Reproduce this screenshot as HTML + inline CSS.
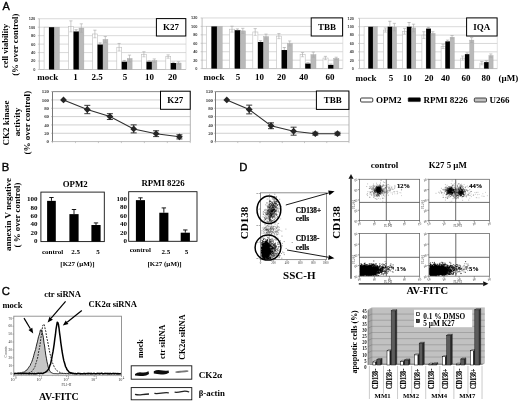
<!DOCTYPE html>
<html><head><meta charset="utf-8"><title>Figure</title><style>html,body{margin:0;padding:0;background:#fff}svg{display:block}</style></head><body>
<svg width="520" height="403" viewBox="0 0 520 403">
<rect x="0" y="0" width="520" height="403" fill="#fff"/>
<text x="2.5" y="10.1" font-family="Liberation Sans, sans-serif" font-size="10.9" text-anchor="start" fill="#000" stroke="#000" stroke-width="0.35">A</text>
<text x="1.8" y="170.9" font-family="Liberation Sans, sans-serif" font-size="11.3" text-anchor="start" fill="#000" stroke="#000" stroke-width="0.35">B</text>
<text x="1.8" y="295.4" font-family="Liberation Sans, sans-serif" font-size="11.3" text-anchor="start" fill="#000" stroke="#000" stroke-width="0.35">C</text>
<text x="239.3" y="171.2" font-family="Liberation Sans, sans-serif" font-size="11.3" text-anchor="start" fill="#000" stroke="#000" stroke-width="0.35">D</text>
<text x="8.4" y="46" font-family="Liberation Serif, serif" font-size="8.5" font-weight="bold" text-anchor="middle" fill="#000" transform="rotate(-90 8.4 46)">cell viability</text>
<text x="18" y="44.7" font-family="Liberation Serif, serif" font-size="8.8" font-weight="bold" text-anchor="middle" fill="#000" transform="rotate(-90 18 44.7)">(% over control)</text>
<line x1="39.3" y1="69.5" x2="186" y2="69.5" stroke="#b0b0b0" stroke-width="0.8"/>
<text x="35.3" y="70.9" font-family="Liberation Sans, sans-serif" font-size="3.9" font-weight="bold" text-anchor="end" fill="#3a3a3a">0</text>
<line x1="37.8" y1="69.5" x2="39.3" y2="69.5" stroke="#b0b0b0" stroke-width="0.6"/>
<line x1="39.3" y1="61.04" x2="186" y2="61.04" stroke="#cfcfcf" stroke-width="0.8"/>
<text x="35.3" y="62.44" font-family="Liberation Sans, sans-serif" font-size="3.9" font-weight="bold" text-anchor="end" fill="#3a3a3a">20</text>
<line x1="37.8" y1="61.04" x2="39.3" y2="61.04" stroke="#b0b0b0" stroke-width="0.6"/>
<line x1="39.3" y1="52.58" x2="186" y2="52.58" stroke="#cfcfcf" stroke-width="0.8"/>
<text x="35.3" y="53.98" font-family="Liberation Sans, sans-serif" font-size="3.9" font-weight="bold" text-anchor="end" fill="#3a3a3a">40</text>
<line x1="37.8" y1="52.58" x2="39.3" y2="52.58" stroke="#b0b0b0" stroke-width="0.6"/>
<line x1="39.3" y1="44.12" x2="186" y2="44.12" stroke="#cfcfcf" stroke-width="0.8"/>
<text x="35.3" y="45.52" font-family="Liberation Sans, sans-serif" font-size="3.9" font-weight="bold" text-anchor="end" fill="#3a3a3a">60</text>
<line x1="37.8" y1="44.12" x2="39.3" y2="44.12" stroke="#b0b0b0" stroke-width="0.6"/>
<line x1="39.3" y1="35.66" x2="186" y2="35.66" stroke="#cfcfcf" stroke-width="0.8"/>
<text x="35.3" y="37.06" font-family="Liberation Sans, sans-serif" font-size="3.9" font-weight="bold" text-anchor="end" fill="#3a3a3a">80</text>
<line x1="37.8" y1="35.66" x2="39.3" y2="35.66" stroke="#b0b0b0" stroke-width="0.6"/>
<line x1="39.3" y1="27.2" x2="186" y2="27.2" stroke="#cfcfcf" stroke-width="0.8"/>
<text x="35.3" y="28.6" font-family="Liberation Sans, sans-serif" font-size="3.9" font-weight="bold" text-anchor="end" fill="#3a3a3a">100</text>
<line x1="37.8" y1="27.2" x2="39.3" y2="27.2" stroke="#b0b0b0" stroke-width="0.6"/>
<line x1="39.3" y1="18.74" x2="186" y2="18.74" stroke="#cfcfcf" stroke-width="0.8"/>
<text x="35.3" y="20.14" font-family="Liberation Sans, sans-serif" font-size="3.9" font-weight="bold" text-anchor="end" fill="#3a3a3a">120</text>
<line x1="37.8" y1="18.74" x2="39.3" y2="18.74" stroke="#b0b0b0" stroke-width="0.6"/>
<line x1="39.3" y1="18.74" x2="39.3" y2="69.5" stroke="#b0b0b0" stroke-width="0.8"/>
<line x1="186" y1="18.74" x2="186" y2="69.5" stroke="#cfcfcf" stroke-width="0.6"/>
<rect x="44.1" y="27.2" width="4.9" height="42.3" fill="#fff" stroke="#bdbdbd" stroke-width="0.6"/>
<rect x="49" y="27.2" width="5.5" height="42.3" fill="#000"/>
<rect x="54.5" y="27.2" width="4.9" height="42.3" fill="#b9b9b9" stroke="#a8a8a8" stroke-width="0.4"/>
<rect x="68.6" y="26.35" width="4.9" height="43.15" fill="#fff" stroke="#bdbdbd" stroke-width="0.6"/>
<rect x="73.5" y="31.43" width="5.5" height="38.07" fill="#000"/>
<rect x="79" y="28.05" width="4.9" height="41.45" fill="#b9b9b9" stroke="#a8a8a8" stroke-width="0.4"/>
<line x1="70.9" y1="20.86" x2="70.9" y2="31.85" stroke="#a6a6a6" stroke-width="0.6"/>
<line x1="69.3" y1="20.86" x2="72.5" y2="20.86" stroke="#a6a6a6" stroke-width="0.6"/>
<line x1="69.3" y1="31.85" x2="72.5" y2="31.85" stroke="#a6a6a6" stroke-width="0.5"/>
<line x1="76.1" y1="29.74" x2="76.1" y2="31.43" stroke="#999" stroke-width="0.6"/>
<line x1="74.5" y1="29.74" x2="77.7" y2="29.74" stroke="#999" stroke-width="0.6"/>
<line x1="81.3" y1="23.82" x2="81.3" y2="32.28" stroke="#a6a6a6" stroke-width="0.6"/>
<line x1="79.7" y1="23.82" x2="82.9" y2="23.82" stroke="#a6a6a6" stroke-width="0.6"/>
<line x1="79.7" y1="32.28" x2="82.9" y2="32.28" stroke="#a6a6a6" stroke-width="0.5"/>
<rect x="92.6" y="33.97" width="4.9" height="35.53" fill="#fff" stroke="#bdbdbd" stroke-width="0.6"/>
<rect x="97.5" y="44.54" width="5.5" height="24.96" fill="#000"/>
<rect x="103" y="39.47" width="4.9" height="30.03" fill="#b9b9b9" stroke="#a8a8a8" stroke-width="0.4"/>
<line x1="94.9" y1="30.16" x2="94.9" y2="37.78" stroke="#a6a6a6" stroke-width="0.6"/>
<line x1="93.3" y1="30.16" x2="96.5" y2="30.16" stroke="#a6a6a6" stroke-width="0.6"/>
<line x1="93.3" y1="37.78" x2="96.5" y2="37.78" stroke="#a6a6a6" stroke-width="0.5"/>
<line x1="100.1" y1="42.85" x2="100.1" y2="44.54" stroke="#999" stroke-width="0.6"/>
<line x1="98.5" y1="42.85" x2="101.7" y2="42.85" stroke="#999" stroke-width="0.6"/>
<line x1="105.3" y1="36.51" x2="105.3" y2="42.43" stroke="#a6a6a6" stroke-width="0.6"/>
<line x1="103.7" y1="36.51" x2="106.9" y2="36.51" stroke="#a6a6a6" stroke-width="0.6"/>
<line x1="103.7" y1="42.43" x2="106.9" y2="42.43" stroke="#a6a6a6" stroke-width="0.5"/>
<rect x="116.8" y="47.25" width="4.9" height="22.25" fill="#fff" stroke="#bdbdbd" stroke-width="0.6"/>
<rect x="121.7" y="61.72" width="5.5" height="7.78" fill="#000"/>
<rect x="127.2" y="58.5" width="4.9" height="11" fill="#b9b9b9" stroke="#a8a8a8" stroke-width="0.4"/>
<line x1="119.1" y1="43.44" x2="119.1" y2="51.06" stroke="#a6a6a6" stroke-width="0.6"/>
<line x1="117.5" y1="43.44" x2="120.7" y2="43.44" stroke="#a6a6a6" stroke-width="0.6"/>
<line x1="117.5" y1="51.06" x2="120.7" y2="51.06" stroke="#a6a6a6" stroke-width="0.5"/>
<line x1="124.3" y1="60.45" x2="124.3" y2="61.72" stroke="#999" stroke-width="0.6"/>
<line x1="122.7" y1="60.45" x2="125.9" y2="60.45" stroke="#999" stroke-width="0.6"/>
<line x1="129.5" y1="55.12" x2="129.5" y2="61.89" stroke="#a6a6a6" stroke-width="0.6"/>
<line x1="127.9" y1="55.12" x2="131.1" y2="55.12" stroke="#a6a6a6" stroke-width="0.6"/>
<line x1="127.9" y1="61.89" x2="131.1" y2="61.89" stroke="#a6a6a6" stroke-width="0.5"/>
<rect x="141.6" y="54.27" width="4.9" height="15.23" fill="#fff" stroke="#bdbdbd" stroke-width="0.6"/>
<rect x="146.5" y="61.72" width="5.5" height="7.78" fill="#000"/>
<rect x="152" y="60.62" width="4.9" height="8.88" fill="#b9b9b9" stroke="#a8a8a8" stroke-width="0.4"/>
<line x1="143.9" y1="51.73" x2="143.9" y2="56.81" stroke="#a6a6a6" stroke-width="0.6"/>
<line x1="142.3" y1="51.73" x2="145.5" y2="51.73" stroke="#a6a6a6" stroke-width="0.6"/>
<line x1="142.3" y1="56.81" x2="145.5" y2="56.81" stroke="#a6a6a6" stroke-width="0.5"/>
<line x1="149.1" y1="60.87" x2="149.1" y2="61.72" stroke="#999" stroke-width="0.6"/>
<line x1="147.5" y1="60.87" x2="150.7" y2="60.87" stroke="#999" stroke-width="0.6"/>
<line x1="154.3" y1="58.92" x2="154.3" y2="62.31" stroke="#a6a6a6" stroke-width="0.6"/>
<line x1="152.7" y1="58.92" x2="155.9" y2="58.92" stroke="#a6a6a6" stroke-width="0.6"/>
<line x1="152.7" y1="62.31" x2="155.9" y2="62.31" stroke="#a6a6a6" stroke-width="0.5"/>
<rect x="165.8" y="56.56" width="4.9" height="12.94" fill="#fff" stroke="#bdbdbd" stroke-width="0.6"/>
<rect x="170.7" y="63.03" width="5.5" height="6.47" fill="#000"/>
<rect x="176.2" y="63.03" width="4.9" height="6.47" fill="#b9b9b9" stroke="#a8a8a8" stroke-width="0.4"/>
<line x1="168.1" y1="54.86" x2="168.1" y2="58.25" stroke="#a6a6a6" stroke-width="0.6"/>
<line x1="166.5" y1="54.86" x2="169.7" y2="54.86" stroke="#a6a6a6" stroke-width="0.6"/>
<line x1="166.5" y1="58.25" x2="169.7" y2="58.25" stroke="#a6a6a6" stroke-width="0.5"/>
<line x1="173.3" y1="62.18" x2="173.3" y2="63.03" stroke="#999" stroke-width="0.6"/>
<line x1="171.7" y1="62.18" x2="174.9" y2="62.18" stroke="#999" stroke-width="0.6"/>
<line x1="178.5" y1="61.76" x2="178.5" y2="64.3" stroke="#a6a6a6" stroke-width="0.6"/>
<line x1="176.9" y1="61.76" x2="180.1" y2="61.76" stroke="#a6a6a6" stroke-width="0.6"/>
<line x1="176.9" y1="64.3" x2="180.1" y2="64.3" stroke="#a6a6a6" stroke-width="0.5"/>
<text x="47.7" y="79.5" font-family="Liberation Serif, serif" font-size="9" font-weight="bold" text-anchor="middle" fill="#000">mock</text>
<text x="75.6" y="79.5" font-family="Liberation Serif, serif" font-size="9" font-weight="bold" text-anchor="middle" fill="#000">1</text>
<text x="97.2" y="79.5" font-family="Liberation Serif, serif" font-size="9" font-weight="bold" text-anchor="middle" fill="#000">2.5</text>
<text x="124.9" y="79.5" font-family="Liberation Serif, serif" font-size="9" font-weight="bold" text-anchor="middle" fill="#000">5</text>
<text x="149.6" y="79.5" font-family="Liberation Serif, serif" font-size="9" font-weight="bold" text-anchor="middle" fill="#000">10</text>
<text x="172.5" y="79.5" font-family="Liberation Serif, serif" font-size="9" font-weight="bold" text-anchor="middle" fill="#000">20</text>
<rect x="156.4" y="18.6" width="29.4" height="17.4" fill="#fff" stroke="#000" stroke-width="1"/>
<text x="171.1" y="30.2" font-family="Liberation Serif, serif" font-size="9" font-weight="bold" text-anchor="middle" fill="#000">K27</text>
<line x1="202.1" y1="68.6" x2="342.8" y2="68.6" stroke="#b0b0b0" stroke-width="0.8"/>
<text x="197.5" y="70" font-family="Liberation Sans, sans-serif" font-size="3.9" font-weight="bold" text-anchor="end" fill="#3a3a3a">0</text>
<line x1="200.6" y1="68.6" x2="202.1" y2="68.6" stroke="#b0b0b0" stroke-width="0.6"/>
<line x1="202.1" y1="60.16" x2="342.8" y2="60.16" stroke="#cfcfcf" stroke-width="0.8"/>
<text x="197.5" y="61.56" font-family="Liberation Sans, sans-serif" font-size="3.9" font-weight="bold" text-anchor="end" fill="#3a3a3a">20</text>
<line x1="200.6" y1="60.16" x2="202.1" y2="60.16" stroke="#b0b0b0" stroke-width="0.6"/>
<line x1="202.1" y1="51.72" x2="342.8" y2="51.72" stroke="#cfcfcf" stroke-width="0.8"/>
<text x="197.5" y="53.12" font-family="Liberation Sans, sans-serif" font-size="3.9" font-weight="bold" text-anchor="end" fill="#3a3a3a">40</text>
<line x1="200.6" y1="51.72" x2="202.1" y2="51.72" stroke="#b0b0b0" stroke-width="0.6"/>
<line x1="202.1" y1="43.28" x2="342.8" y2="43.28" stroke="#cfcfcf" stroke-width="0.8"/>
<text x="197.5" y="44.68" font-family="Liberation Sans, sans-serif" font-size="3.9" font-weight="bold" text-anchor="end" fill="#3a3a3a">60</text>
<line x1="200.6" y1="43.28" x2="202.1" y2="43.28" stroke="#b0b0b0" stroke-width="0.6"/>
<line x1="202.1" y1="34.84" x2="342.8" y2="34.84" stroke="#cfcfcf" stroke-width="0.8"/>
<text x="197.5" y="36.24" font-family="Liberation Sans, sans-serif" font-size="3.9" font-weight="bold" text-anchor="end" fill="#3a3a3a">80</text>
<line x1="200.6" y1="34.84" x2="202.1" y2="34.84" stroke="#b0b0b0" stroke-width="0.6"/>
<line x1="202.1" y1="26.4" x2="342.8" y2="26.4" stroke="#cfcfcf" stroke-width="0.8"/>
<text x="197.5" y="27.8" font-family="Liberation Sans, sans-serif" font-size="3.9" font-weight="bold" text-anchor="end" fill="#3a3a3a">100</text>
<line x1="200.6" y1="26.4" x2="202.1" y2="26.4" stroke="#b0b0b0" stroke-width="0.6"/>
<line x1="202.1" y1="17.96" x2="342.8" y2="17.96" stroke="#cfcfcf" stroke-width="0.8"/>
<text x="197.5" y="19.36" font-family="Liberation Sans, sans-serif" font-size="3.9" font-weight="bold" text-anchor="end" fill="#3a3a3a">120</text>
<line x1="200.6" y1="17.96" x2="202.1" y2="17.96" stroke="#b0b0b0" stroke-width="0.6"/>
<line x1="202.1" y1="17.96" x2="202.1" y2="68.6" stroke="#b0b0b0" stroke-width="0.8"/>
<line x1="342.8" y1="17.96" x2="342.8" y2="68.6" stroke="#cfcfcf" stroke-width="0.6"/>
<rect x="206.3" y="26.4" width="5.1" height="42.2" fill="#fff" stroke="#bdbdbd" stroke-width="0.6"/>
<rect x="211.4" y="26.4" width="5.7" height="42.2" fill="#000"/>
<rect x="217.1" y="26.4" width="5.1" height="42.2" fill="#b9b9b9" stroke="#a8a8a8" stroke-width="0.4"/>
<rect x="229.6" y="29.19" width="5.1" height="39.41" fill="#fff" stroke="#bdbdbd" stroke-width="0.6"/>
<rect x="234.7" y="30.2" width="5.7" height="38.4" fill="#000"/>
<rect x="240.4" y="30.87" width="5.1" height="37.73" fill="#b9b9b9" stroke="#a8a8a8" stroke-width="0.4"/>
<line x1="232" y1="26.23" x2="232" y2="32.14" stroke="#a6a6a6" stroke-width="0.6"/>
<line x1="230.4" y1="26.23" x2="233.6" y2="26.23" stroke="#a6a6a6" stroke-width="0.6"/>
<line x1="230.4" y1="32.14" x2="233.6" y2="32.14" stroke="#a6a6a6" stroke-width="0.5"/>
<line x1="237.4" y1="28.93" x2="237.4" y2="30.2" stroke="#999" stroke-width="0.6"/>
<line x1="235.8" y1="28.93" x2="239" y2="28.93" stroke="#999" stroke-width="0.6"/>
<line x1="242.8" y1="28.34" x2="242.8" y2="33.41" stroke="#a6a6a6" stroke-width="0.6"/>
<line x1="241.2" y1="28.34" x2="244.4" y2="28.34" stroke="#a6a6a6" stroke-width="0.6"/>
<line x1="241.2" y1="33.41" x2="244.4" y2="33.41" stroke="#a6a6a6" stroke-width="0.5"/>
<rect x="252.8" y="31.97" width="5.1" height="36.63" fill="#fff" stroke="#bdbdbd" stroke-width="0.6"/>
<rect x="257.9" y="42.01" width="5.7" height="26.59" fill="#000"/>
<rect x="263.6" y="36.61" width="5.1" height="31.99" fill="#b9b9b9" stroke="#a8a8a8" stroke-width="0.4"/>
<line x1="255.2" y1="28.59" x2="255.2" y2="35.35" stroke="#a6a6a6" stroke-width="0.6"/>
<line x1="253.6" y1="28.59" x2="256.8" y2="28.59" stroke="#a6a6a6" stroke-width="0.6"/>
<line x1="253.6" y1="35.35" x2="256.8" y2="35.35" stroke="#a6a6a6" stroke-width="0.5"/>
<line x1="260.6" y1="40.75" x2="260.6" y2="42.01" stroke="#999" stroke-width="0.6"/>
<line x1="259" y1="40.75" x2="262.2" y2="40.75" stroke="#999" stroke-width="0.6"/>
<line x1="266" y1="34.08" x2="266" y2="39.14" stroke="#a6a6a6" stroke-width="0.6"/>
<line x1="264.4" y1="34.08" x2="267.6" y2="34.08" stroke="#a6a6a6" stroke-width="0.6"/>
<line x1="264.4" y1="39.14" x2="267.6" y2="39.14" stroke="#a6a6a6" stroke-width="0.5"/>
<rect x="276.5" y="36.11" width="5.1" height="32.49" fill="#fff" stroke="#bdbdbd" stroke-width="0.6"/>
<rect x="281.6" y="50.03" width="5.7" height="18.57" fill="#000"/>
<rect x="287.3" y="43.49" width="5.1" height="25.11" fill="#b9b9b9" stroke="#a8a8a8" stroke-width="0.4"/>
<line x1="278.9" y1="33.57" x2="278.9" y2="38.64" stroke="#a6a6a6" stroke-width="0.6"/>
<line x1="277.3" y1="33.57" x2="280.5" y2="33.57" stroke="#a6a6a6" stroke-width="0.6"/>
<line x1="277.3" y1="38.64" x2="280.5" y2="38.64" stroke="#a6a6a6" stroke-width="0.5"/>
<line x1="284.3" y1="47.5" x2="284.3" y2="50.03" stroke="#999" stroke-width="0.6"/>
<line x1="282.7" y1="47.5" x2="285.9" y2="47.5" stroke="#999" stroke-width="0.6"/>
<line x1="289.7" y1="40.96" x2="289.7" y2="46.02" stroke="#a6a6a6" stroke-width="0.6"/>
<line x1="288.1" y1="40.96" x2="291.3" y2="40.96" stroke="#a6a6a6" stroke-width="0.6"/>
<line x1="288.1" y1="46.02" x2="291.3" y2="46.02" stroke="#a6a6a6" stroke-width="0.5"/>
<rect x="300.1" y="54.67" width="5.1" height="13.93" fill="#fff" stroke="#bdbdbd" stroke-width="0.6"/>
<rect x="305.2" y="63.54" width="5.7" height="5.06" fill="#000"/>
<rect x="310.9" y="54.67" width="5.1" height="13.93" fill="#b9b9b9" stroke="#a8a8a8" stroke-width="0.4"/>
<line x1="302.5" y1="52.56" x2="302.5" y2="56.78" stroke="#a6a6a6" stroke-width="0.6"/>
<line x1="300.9" y1="52.56" x2="304.1" y2="52.56" stroke="#a6a6a6" stroke-width="0.6"/>
<line x1="300.9" y1="56.78" x2="304.1" y2="56.78" stroke="#a6a6a6" stroke-width="0.5"/>
<line x1="307.9" y1="62.69" x2="307.9" y2="63.54" stroke="#999" stroke-width="0.6"/>
<line x1="306.3" y1="62.69" x2="309.5" y2="62.69" stroke="#999" stroke-width="0.6"/>
<line x1="313.3" y1="52.14" x2="313.3" y2="57.21" stroke="#a6a6a6" stroke-width="0.6"/>
<line x1="311.7" y1="52.14" x2="314.9" y2="52.14" stroke="#a6a6a6" stroke-width="0.6"/>
<line x1="311.7" y1="57.21" x2="314.9" y2="57.21" stroke="#a6a6a6" stroke-width="0.5"/>
<rect x="323" y="58.05" width="5.1" height="10.55" fill="#fff" stroke="#bdbdbd" stroke-width="0.6"/>
<rect x="328.1" y="64.89" width="5.7" height="3.71" fill="#000"/>
<rect x="333.8" y="58.47" width="5.1" height="10.13" fill="#b9b9b9" stroke="#a8a8a8" stroke-width="0.4"/>
<line x1="325.4" y1="56.36" x2="325.4" y2="59.74" stroke="#a6a6a6" stroke-width="0.6"/>
<line x1="323.8" y1="56.36" x2="327" y2="56.36" stroke="#a6a6a6" stroke-width="0.6"/>
<line x1="323.8" y1="59.74" x2="327" y2="59.74" stroke="#a6a6a6" stroke-width="0.5"/>
<line x1="330.8" y1="64.04" x2="330.8" y2="64.89" stroke="#999" stroke-width="0.6"/>
<line x1="329.2" y1="64.04" x2="332.4" y2="64.04" stroke="#999" stroke-width="0.6"/>
<line x1="336.2" y1="57.21" x2="336.2" y2="59.74" stroke="#a6a6a6" stroke-width="0.6"/>
<line x1="334.6" y1="57.21" x2="337.8" y2="57.21" stroke="#a6a6a6" stroke-width="0.6"/>
<line x1="334.6" y1="59.74" x2="337.8" y2="59.74" stroke="#a6a6a6" stroke-width="0.5"/>
<text x="214" y="79.5" font-family="Liberation Serif, serif" font-size="9" font-weight="bold" text-anchor="middle" fill="#000">mock</text>
<text x="238" y="79.5" font-family="Liberation Serif, serif" font-size="9" font-weight="bold" text-anchor="middle" fill="#000">5</text>
<text x="259.4" y="79.5" font-family="Liberation Serif, serif" font-size="9" font-weight="bold" text-anchor="middle" fill="#000">10</text>
<text x="281.4" y="79.5" font-family="Liberation Serif, serif" font-size="9" font-weight="bold" text-anchor="middle" fill="#000">20</text>
<text x="303.7" y="79.5" font-family="Liberation Serif, serif" font-size="9" font-weight="bold" text-anchor="middle" fill="#000">40</text>
<text x="330.1" y="79.5" font-family="Liberation Serif, serif" font-size="9" font-weight="bold" text-anchor="middle" fill="#000">60</text>
<rect x="311.2" y="17.9" width="31.4" height="18.1" fill="#fff" stroke="#000" stroke-width="1"/>
<text x="326.9" y="30.2" font-family="Liberation Serif, serif" font-size="9" font-weight="bold" text-anchor="middle" fill="#000">TBB</text>
<line x1="359.5" y1="68.6" x2="497.3" y2="68.6" stroke="#b0b0b0" stroke-width="0.8"/>
<text x="354" y="70" font-family="Liberation Sans, sans-serif" font-size="3.9" font-weight="bold" text-anchor="end" fill="#3a3a3a">0</text>
<line x1="358" y1="68.6" x2="359.5" y2="68.6" stroke="#b0b0b0" stroke-width="0.6"/>
<line x1="359.5" y1="60.22" x2="497.3" y2="60.22" stroke="#cfcfcf" stroke-width="0.8"/>
<text x="354" y="61.62" font-family="Liberation Sans, sans-serif" font-size="3.9" font-weight="bold" text-anchor="end" fill="#3a3a3a">20</text>
<line x1="358" y1="60.22" x2="359.5" y2="60.22" stroke="#b0b0b0" stroke-width="0.6"/>
<line x1="359.5" y1="51.84" x2="497.3" y2="51.84" stroke="#cfcfcf" stroke-width="0.8"/>
<text x="354" y="53.24" font-family="Liberation Sans, sans-serif" font-size="3.9" font-weight="bold" text-anchor="end" fill="#3a3a3a">40</text>
<line x1="358" y1="51.84" x2="359.5" y2="51.84" stroke="#b0b0b0" stroke-width="0.6"/>
<line x1="359.5" y1="43.46" x2="497.3" y2="43.46" stroke="#cfcfcf" stroke-width="0.8"/>
<text x="354" y="44.86" font-family="Liberation Sans, sans-serif" font-size="3.9" font-weight="bold" text-anchor="end" fill="#3a3a3a">60</text>
<line x1="358" y1="43.46" x2="359.5" y2="43.46" stroke="#b0b0b0" stroke-width="0.6"/>
<line x1="359.5" y1="35.08" x2="497.3" y2="35.08" stroke="#cfcfcf" stroke-width="0.8"/>
<text x="354" y="36.48" font-family="Liberation Sans, sans-serif" font-size="3.9" font-weight="bold" text-anchor="end" fill="#3a3a3a">80</text>
<line x1="358" y1="35.08" x2="359.5" y2="35.08" stroke="#b0b0b0" stroke-width="0.6"/>
<line x1="359.5" y1="26.7" x2="497.3" y2="26.7" stroke="#cfcfcf" stroke-width="0.8"/>
<text x="354" y="28.1" font-family="Liberation Sans, sans-serif" font-size="3.9" font-weight="bold" text-anchor="end" fill="#3a3a3a">100</text>
<line x1="358" y1="26.7" x2="359.5" y2="26.7" stroke="#b0b0b0" stroke-width="0.6"/>
<line x1="359.5" y1="18.32" x2="497.3" y2="18.32" stroke="#cfcfcf" stroke-width="0.8"/>
<text x="354" y="19.72" font-family="Liberation Sans, sans-serif" font-size="3.9" font-weight="bold" text-anchor="end" fill="#3a3a3a">120</text>
<line x1="358" y1="18.32" x2="359.5" y2="18.32" stroke="#b0b0b0" stroke-width="0.6"/>
<line x1="359.5" y1="18.32" x2="359.5" y2="68.6" stroke="#b0b0b0" stroke-width="0.8"/>
<line x1="497.3" y1="18.32" x2="497.3" y2="68.6" stroke="#cfcfcf" stroke-width="0.6"/>
<rect x="364.1" y="26.7" width="4.2" height="41.9" fill="#fff" stroke="#bdbdbd" stroke-width="0.6"/>
<rect x="368.3" y="26.7" width="4.8" height="41.9" fill="#000"/>
<rect x="373.1" y="26.7" width="4.2" height="41.9" fill="#b9b9b9" stroke="#a8a8a8" stroke-width="0.4"/>
<rect x="383.4" y="30.05" width="4.2" height="38.55" fill="#fff" stroke="#bdbdbd" stroke-width="0.6"/>
<rect x="387.6" y="26.7" width="4.8" height="41.9" fill="#000"/>
<rect x="392.4" y="27.12" width="4.2" height="41.48" fill="#b9b9b9" stroke="#a8a8a8" stroke-width="0.4"/>
<line x1="385.35" y1="27.96" x2="385.35" y2="32.15" stroke="#a6a6a6" stroke-width="0.6"/>
<line x1="383.75" y1="27.96" x2="386.95" y2="27.96" stroke="#a6a6a6" stroke-width="0.6"/>
<line x1="383.75" y1="32.15" x2="386.95" y2="32.15" stroke="#a6a6a6" stroke-width="0.5"/>
<line x1="389.85" y1="21.25" x2="389.85" y2="26.7" stroke="#999" stroke-width="0.6"/>
<line x1="388.25" y1="21.25" x2="391.45" y2="21.25" stroke="#999" stroke-width="0.6"/>
<line x1="394.35" y1="23.35" x2="394.35" y2="30.89" stroke="#a6a6a6" stroke-width="0.6"/>
<line x1="392.75" y1="23.35" x2="395.95" y2="23.35" stroke="#a6a6a6" stroke-width="0.6"/>
<line x1="392.75" y1="30.89" x2="395.95" y2="30.89" stroke="#a6a6a6" stroke-width="0.5"/>
<rect x="402.6" y="31.31" width="4.2" height="37.29" fill="#fff" stroke="#bdbdbd" stroke-width="0.6"/>
<rect x="406.8" y="26.7" width="4.8" height="41.9" fill="#000"/>
<rect x="411.6" y="27.96" width="4.2" height="40.64" fill="#b9b9b9" stroke="#a8a8a8" stroke-width="0.4"/>
<line x1="404.55" y1="28.38" x2="404.55" y2="34.24" stroke="#a6a6a6" stroke-width="0.6"/>
<line x1="402.95" y1="28.38" x2="406.15" y2="28.38" stroke="#a6a6a6" stroke-width="0.6"/>
<line x1="402.95" y1="34.24" x2="406.15" y2="34.24" stroke="#a6a6a6" stroke-width="0.5"/>
<line x1="409.05" y1="22.51" x2="409.05" y2="26.7" stroke="#999" stroke-width="0.6"/>
<line x1="407.45" y1="22.51" x2="410.65" y2="22.51" stroke="#999" stroke-width="0.6"/>
<line x1="413.55" y1="24.19" x2="413.55" y2="31.73" stroke="#a6a6a6" stroke-width="0.6"/>
<line x1="411.95" y1="24.19" x2="415.15" y2="24.19" stroke="#a6a6a6" stroke-width="0.6"/>
<line x1="411.95" y1="31.73" x2="415.15" y2="31.73" stroke="#a6a6a6" stroke-width="0.5"/>
<rect x="421.9" y="35.08" width="4.2" height="33.52" fill="#fff" stroke="#bdbdbd" stroke-width="0.6"/>
<rect x="426.1" y="28.59" width="4.8" height="40.01" fill="#000"/>
<rect x="430.9" y="33.4" width="4.2" height="35.2" fill="#b9b9b9" stroke="#a8a8a8" stroke-width="0.4"/>
<line x1="423.85" y1="31.73" x2="423.85" y2="38.43" stroke="#a6a6a6" stroke-width="0.6"/>
<line x1="422.25" y1="31.73" x2="425.45" y2="31.73" stroke="#a6a6a6" stroke-width="0.6"/>
<line x1="422.25" y1="38.43" x2="425.45" y2="38.43" stroke="#a6a6a6" stroke-width="0.5"/>
<line x1="428.35" y1="27.33" x2="428.35" y2="28.59" stroke="#999" stroke-width="0.6"/>
<line x1="426.75" y1="27.33" x2="429.95" y2="27.33" stroke="#999" stroke-width="0.6"/>
<line x1="432.85" y1="31.73" x2="432.85" y2="35.08" stroke="#a6a6a6" stroke-width="0.6"/>
<line x1="431.25" y1="31.73" x2="434.45" y2="31.73" stroke="#a6a6a6" stroke-width="0.6"/>
<line x1="431.25" y1="35.08" x2="434.45" y2="35.08" stroke="#a6a6a6" stroke-width="0.5"/>
<rect x="441.1" y="46.39" width="4.2" height="22.21" fill="#fff" stroke="#bdbdbd" stroke-width="0.6"/>
<rect x="445.3" y="41.36" width="4.8" height="27.23" fill="#000"/>
<rect x="450.1" y="37.17" width="4.2" height="31.42" fill="#b9b9b9" stroke="#a8a8a8" stroke-width="0.4"/>
<line x1="443.05" y1="44.3" x2="443.05" y2="48.49" stroke="#a6a6a6" stroke-width="0.6"/>
<line x1="441.45" y1="44.3" x2="444.65" y2="44.3" stroke="#a6a6a6" stroke-width="0.6"/>
<line x1="441.45" y1="48.49" x2="444.65" y2="48.49" stroke="#a6a6a6" stroke-width="0.5"/>
<line x1="447.55" y1="40.11" x2="447.55" y2="41.36" stroke="#999" stroke-width="0.6"/>
<line x1="445.95" y1="40.11" x2="449.15" y2="40.11" stroke="#999" stroke-width="0.6"/>
<line x1="452.05" y1="35.5" x2="452.05" y2="38.85" stroke="#a6a6a6" stroke-width="0.6"/>
<line x1="450.45" y1="35.5" x2="453.65" y2="35.5" stroke="#a6a6a6" stroke-width="0.6"/>
<line x1="450.45" y1="38.85" x2="453.65" y2="38.85" stroke="#a6a6a6" stroke-width="0.5"/>
<rect x="460.7" y="58.12" width="4.2" height="10.47" fill="#fff" stroke="#bdbdbd" stroke-width="0.6"/>
<rect x="464.9" y="54.14" width="4.8" height="14.46" fill="#000"/>
<rect x="469.7" y="40.11" width="4.2" height="28.49" fill="#b9b9b9" stroke="#a8a8a8" stroke-width="0.4"/>
<line x1="462.65" y1="56.03" x2="462.65" y2="60.22" stroke="#a6a6a6" stroke-width="0.6"/>
<line x1="461.05" y1="56.03" x2="464.25" y2="56.03" stroke="#a6a6a6" stroke-width="0.6"/>
<line x1="461.05" y1="60.22" x2="464.25" y2="60.22" stroke="#a6a6a6" stroke-width="0.5"/>
<line x1="467.15" y1="52.89" x2="467.15" y2="54.14" stroke="#999" stroke-width="0.6"/>
<line x1="465.55" y1="52.89" x2="468.75" y2="52.89" stroke="#999" stroke-width="0.6"/>
<line x1="471.65" y1="37.59" x2="471.65" y2="42.62" stroke="#a6a6a6" stroke-width="0.6"/>
<line x1="470.05" y1="37.59" x2="473.25" y2="37.59" stroke="#a6a6a6" stroke-width="0.6"/>
<line x1="470.05" y1="42.62" x2="473.25" y2="42.62" stroke="#a6a6a6" stroke-width="0.5"/>
<rect x="479.9" y="63.15" width="4.2" height="5.45" fill="#fff" stroke="#bdbdbd" stroke-width="0.6"/>
<rect x="484.1" y="62.11" width="4.8" height="6.49" fill="#000"/>
<rect x="488.9" y="55.61" width="4.2" height="12.99" fill="#b9b9b9" stroke="#a8a8a8" stroke-width="0.4"/>
<line x1="481.85" y1="61.48" x2="481.85" y2="64.83" stroke="#a6a6a6" stroke-width="0.6"/>
<line x1="480.25" y1="61.48" x2="483.45" y2="61.48" stroke="#a6a6a6" stroke-width="0.6"/>
<line x1="480.25" y1="64.83" x2="483.45" y2="64.83" stroke="#a6a6a6" stroke-width="0.5"/>
<line x1="486.35" y1="60.85" x2="486.35" y2="62.11" stroke="#999" stroke-width="0.6"/>
<line x1="484.75" y1="60.85" x2="487.95" y2="60.85" stroke="#999" stroke-width="0.6"/>
<line x1="490.85" y1="53.93" x2="490.85" y2="57.29" stroke="#a6a6a6" stroke-width="0.6"/>
<line x1="489.25" y1="53.93" x2="492.45" y2="53.93" stroke="#a6a6a6" stroke-width="0.6"/>
<line x1="489.25" y1="57.29" x2="492.45" y2="57.29" stroke="#a6a6a6" stroke-width="0.5"/>
<text x="366" y="80.6" font-family="Liberation Serif, serif" font-size="9" font-weight="bold" text-anchor="middle" fill="#000">mock</text>
<text x="391.1" y="80.6" font-family="Liberation Serif, serif" font-size="9" font-weight="bold" text-anchor="middle" fill="#000">5</text>
<text x="407.3" y="80.6" font-family="Liberation Serif, serif" font-size="9" font-weight="bold" text-anchor="middle" fill="#000">10</text>
<text x="429" y="80.6" font-family="Liberation Serif, serif" font-size="9" font-weight="bold" text-anchor="middle" fill="#000">20</text>
<text x="445.5" y="80.6" font-family="Liberation Serif, serif" font-size="9" font-weight="bold" text-anchor="middle" fill="#000">40</text>
<text x="466" y="80.6" font-family="Liberation Serif, serif" font-size="9" font-weight="bold" text-anchor="middle" fill="#000">60</text>
<text x="486.1" y="80.6" font-family="Liberation Serif, serif" font-size="9" font-weight="bold" text-anchor="middle" fill="#000">80</text>
<text x="508.4" y="80.6" font-family="Liberation Serif, serif" font-size="9" font-weight="bold" text-anchor="middle" fill="#000">(µM)</text>
<rect x="466.6" y="17.9" width="30.5" height="18.1" fill="#fff" stroke="#000" stroke-width="1"/>
<text x="481.85" y="30.2" font-family="Liberation Serif, serif" font-size="9" font-weight="bold" text-anchor="middle" fill="#000">IQA</text>
<text x="9" y="123" font-family="Liberation Serif, serif" font-size="9" font-weight="bold" text-anchor="middle" fill="#000" transform="rotate(-90 9 123)">CK2 kinase</text>
<text x="20.3" y="122" font-family="Liberation Serif, serif" font-size="9" font-weight="bold" text-anchor="middle" fill="#000" transform="rotate(-90 20.3 122)">activity</text>
<text x="30.5" y="122.7" font-family="Liberation Serif, serif" font-size="9" font-weight="bold" text-anchor="middle" fill="#000" transform="rotate(-90 30.5 122.7)">(% over control)</text>
<line x1="52.5" y1="141.6" x2="190.3" y2="141.6" stroke="#a8a8a8" stroke-width="0.8"/>
<text x="49" y="143.2" font-family="Liberation Serif, serif" font-size="4.8" font-weight="bold" text-anchor="end" fill="#333">0</text>
<line x1="51" y1="141.6" x2="52.5" y2="141.6" stroke="#a8a8a8" stroke-width="0.6"/>
<line x1="52.5" y1="133.27" x2="190.3" y2="133.27" stroke="#c4c4c4" stroke-width="0.8"/>
<text x="49" y="134.87" font-family="Liberation Serif, serif" font-size="4.8" font-weight="bold" text-anchor="end" fill="#333">20</text>
<line x1="51" y1="133.27" x2="52.5" y2="133.27" stroke="#a8a8a8" stroke-width="0.6"/>
<line x1="52.5" y1="124.93" x2="190.3" y2="124.93" stroke="#c4c4c4" stroke-width="0.8"/>
<text x="49" y="126.53" font-family="Liberation Serif, serif" font-size="4.8" font-weight="bold" text-anchor="end" fill="#333">40</text>
<line x1="51" y1="124.93" x2="52.5" y2="124.93" stroke="#a8a8a8" stroke-width="0.6"/>
<line x1="52.5" y1="116.6" x2="190.3" y2="116.6" stroke="#c4c4c4" stroke-width="0.8"/>
<text x="49" y="118.2" font-family="Liberation Serif, serif" font-size="4.8" font-weight="bold" text-anchor="end" fill="#333">60</text>
<line x1="51" y1="116.6" x2="52.5" y2="116.6" stroke="#a8a8a8" stroke-width="0.6"/>
<line x1="52.5" y1="108.27" x2="190.3" y2="108.27" stroke="#c4c4c4" stroke-width="0.8"/>
<text x="49" y="109.87" font-family="Liberation Serif, serif" font-size="4.8" font-weight="bold" text-anchor="end" fill="#333">80</text>
<line x1="51" y1="108.27" x2="52.5" y2="108.27" stroke="#a8a8a8" stroke-width="0.6"/>
<line x1="52.5" y1="99.93" x2="190.3" y2="99.93" stroke="#c4c4c4" stroke-width="0.8"/>
<text x="49" y="101.53" font-family="Liberation Serif, serif" font-size="4.8" font-weight="bold" text-anchor="end" fill="#333">100</text>
<line x1="51" y1="99.93" x2="52.5" y2="99.93" stroke="#a8a8a8" stroke-width="0.6"/>
<line x1="52.5" y1="91.6" x2="190.3" y2="91.6" stroke="#c4c4c4" stroke-width="0.8"/>
<text x="49" y="93.2" font-family="Liberation Serif, serif" font-size="4.8" font-weight="bold" text-anchor="end" fill="#333">120</text>
<line x1="51" y1="91.6" x2="52.5" y2="91.6" stroke="#a8a8a8" stroke-width="0.6"/>
<line x1="52.5" y1="91.6" x2="52.5" y2="141.6" stroke="#777" stroke-width="1"/>
<line x1="52.5" y1="91.6" x2="190.3" y2="91.6" stroke="#888" stroke-width="0.9"/>
<line x1="190.3" y1="91.6" x2="190.3" y2="141.6" stroke="#aaa" stroke-width="0.9"/>
<line x1="52.5" y1="141.6" x2="52.5" y2="143.1" stroke="#a8a8a8" stroke-width="0.6"/>
<line x1="75.47" y1="141.6" x2="75.47" y2="143.1" stroke="#a8a8a8" stroke-width="0.6"/>
<line x1="98.43" y1="141.6" x2="98.43" y2="143.1" stroke="#a8a8a8" stroke-width="0.6"/>
<line x1="121.4" y1="141.6" x2="121.4" y2="143.1" stroke="#a8a8a8" stroke-width="0.6"/>
<line x1="144.37" y1="141.6" x2="144.37" y2="143.1" stroke="#a8a8a8" stroke-width="0.6"/>
<line x1="167.33" y1="141.6" x2="167.33" y2="143.1" stroke="#a8a8a8" stroke-width="0.6"/>
<line x1="190.3" y1="141.6" x2="190.3" y2="143.1" stroke="#a8a8a8" stroke-width="0.6"/>
<polyline points="63.5,99.93 87.3,109.52 109.9,116.6 133.7,128.89 156.1,133.68 179.4,136.85" fill="none" stroke="#2e2e2e" stroke-width="1.05"/>
<polygon points="60.1,99.93 63.5,96.53 66.9,99.93 63.5,103.33" fill="#262626"/>
<line x1="87.3" y1="105.35" x2="87.3" y2="113.68" stroke="#222" stroke-width="0.9"/>
<line x1="84.3" y1="105.35" x2="90.3" y2="105.35" stroke="#222" stroke-width="0.9"/>
<line x1="84.3" y1="113.68" x2="90.3" y2="113.68" stroke="#222" stroke-width="0.9"/>
<polygon points="83.9,109.52 87.3,106.12 90.7,109.52 87.3,112.92" fill="#262626"/>
<line x1="109.9" y1="113.68" x2="109.9" y2="119.52" stroke="#222" stroke-width="0.9"/>
<line x1="106.9" y1="113.68" x2="112.9" y2="113.68" stroke="#222" stroke-width="0.9"/>
<line x1="106.9" y1="119.52" x2="112.9" y2="119.52" stroke="#222" stroke-width="0.9"/>
<polygon points="106.5,116.6 109.9,113.2 113.3,116.6 109.9,120" fill="#262626"/>
<line x1="133.7" y1="124.89" x2="133.7" y2="132.89" stroke="#222" stroke-width="0.9"/>
<line x1="130.7" y1="124.89" x2="136.7" y2="124.89" stroke="#222" stroke-width="0.9"/>
<line x1="130.7" y1="132.89" x2="136.7" y2="132.89" stroke="#222" stroke-width="0.9"/>
<polygon points="130.3,128.89 133.7,125.49 137.1,128.89 133.7,132.29" fill="#262626"/>
<line x1="156.1" y1="130.77" x2="156.1" y2="136.6" stroke="#222" stroke-width="0.9"/>
<line x1="153.1" y1="130.77" x2="159.1" y2="130.77" stroke="#222" stroke-width="0.9"/>
<line x1="153.1" y1="136.6" x2="159.1" y2="136.6" stroke="#222" stroke-width="0.9"/>
<polygon points="152.7,133.68 156.1,130.28 159.5,133.68 156.1,137.08" fill="#262626"/>
<line x1="179.4" y1="134.77" x2="179.4" y2="138.93" stroke="#222" stroke-width="0.9"/>
<line x1="176.4" y1="134.77" x2="182.4" y2="134.77" stroke="#222" stroke-width="0.9"/>
<line x1="176.4" y1="138.93" x2="182.4" y2="138.93" stroke="#222" stroke-width="0.9"/>
<polygon points="176,136.85 179.4,133.45 182.8,136.85 179.4,140.25" fill="#262626"/>
<rect x="160.5" y="91.2" width="29.7" height="18.1" fill="#fff" stroke="#000" stroke-width="1"/>
<text x="175.35" y="103.4" font-family="Liberation Serif, serif" font-size="9" font-weight="bold" text-anchor="middle" fill="#000">K27</text>
<line x1="215.5" y1="141.6" x2="349" y2="141.6" stroke="#a8a8a8" stroke-width="0.8"/>
<text x="213" y="143.2" font-family="Liberation Serif, serif" font-size="4.8" font-weight="bold" text-anchor="end" fill="#333">0</text>
<line x1="214" y1="141.6" x2="215.5" y2="141.6" stroke="#a8a8a8" stroke-width="0.6"/>
<line x1="215.5" y1="133.27" x2="349" y2="133.27" stroke="#c4c4c4" stroke-width="0.8"/>
<text x="213" y="134.87" font-family="Liberation Serif, serif" font-size="4.8" font-weight="bold" text-anchor="end" fill="#333">20</text>
<line x1="214" y1="133.27" x2="215.5" y2="133.27" stroke="#a8a8a8" stroke-width="0.6"/>
<line x1="215.5" y1="124.93" x2="349" y2="124.93" stroke="#c4c4c4" stroke-width="0.8"/>
<text x="213" y="126.53" font-family="Liberation Serif, serif" font-size="4.8" font-weight="bold" text-anchor="end" fill="#333">40</text>
<line x1="214" y1="124.93" x2="215.5" y2="124.93" stroke="#a8a8a8" stroke-width="0.6"/>
<line x1="215.5" y1="116.6" x2="349" y2="116.6" stroke="#c4c4c4" stroke-width="0.8"/>
<text x="213" y="118.2" font-family="Liberation Serif, serif" font-size="4.8" font-weight="bold" text-anchor="end" fill="#333">60</text>
<line x1="214" y1="116.6" x2="215.5" y2="116.6" stroke="#a8a8a8" stroke-width="0.6"/>
<line x1="215.5" y1="108.27" x2="349" y2="108.27" stroke="#c4c4c4" stroke-width="0.8"/>
<text x="213" y="109.87" font-family="Liberation Serif, serif" font-size="4.8" font-weight="bold" text-anchor="end" fill="#333">80</text>
<line x1="214" y1="108.27" x2="215.5" y2="108.27" stroke="#a8a8a8" stroke-width="0.6"/>
<line x1="215.5" y1="99.93" x2="349" y2="99.93" stroke="#c4c4c4" stroke-width="0.8"/>
<text x="213" y="101.53" font-family="Liberation Serif, serif" font-size="4.8" font-weight="bold" text-anchor="end" fill="#333">100</text>
<line x1="214" y1="99.93" x2="215.5" y2="99.93" stroke="#a8a8a8" stroke-width="0.6"/>
<line x1="215.5" y1="91.6" x2="349" y2="91.6" stroke="#c4c4c4" stroke-width="0.8"/>
<text x="213" y="93.2" font-family="Liberation Serif, serif" font-size="4.8" font-weight="bold" text-anchor="end" fill="#333">120</text>
<line x1="214" y1="91.6" x2="215.5" y2="91.6" stroke="#a8a8a8" stroke-width="0.6"/>
<line x1="215.5" y1="91.6" x2="215.5" y2="141.6" stroke="#777" stroke-width="1"/>
<line x1="215.5" y1="91.6" x2="349" y2="91.6" stroke="#888" stroke-width="0.9"/>
<line x1="349" y1="91.6" x2="349" y2="141.6" stroke="#aaa" stroke-width="0.9"/>
<line x1="215.5" y1="141.6" x2="215.5" y2="143.1" stroke="#a8a8a8" stroke-width="0.6"/>
<line x1="237.75" y1="141.6" x2="237.75" y2="143.1" stroke="#a8a8a8" stroke-width="0.6"/>
<line x1="260" y1="141.6" x2="260" y2="143.1" stroke="#a8a8a8" stroke-width="0.6"/>
<line x1="282.25" y1="141.6" x2="282.25" y2="143.1" stroke="#a8a8a8" stroke-width="0.6"/>
<line x1="304.5" y1="141.6" x2="304.5" y2="143.1" stroke="#a8a8a8" stroke-width="0.6"/>
<line x1="326.75" y1="141.6" x2="326.75" y2="143.1" stroke="#a8a8a8" stroke-width="0.6"/>
<line x1="349" y1="141.6" x2="349" y2="143.1" stroke="#a8a8a8" stroke-width="0.6"/>
<polyline points="226.8,99.93 249.2,109.52 271,125.77 293.6,131.18 315.3,133.68 337.5,133.68" fill="none" stroke="#2e2e2e" stroke-width="1.05"/>
<polygon points="223.4,99.93 226.8,96.53 230.2,99.93 226.8,103.33" fill="#262626"/>
<line x1="249.2" y1="105.14" x2="249.2" y2="113.89" stroke="#222" stroke-width="0.9"/>
<line x1="246.2" y1="105.14" x2="252.2" y2="105.14" stroke="#222" stroke-width="0.9"/>
<line x1="246.2" y1="113.89" x2="252.2" y2="113.89" stroke="#222" stroke-width="0.9"/>
<polygon points="245.8,109.52 249.2,106.12 252.6,109.52 249.2,112.92" fill="#262626"/>
<line x1="271" y1="122.85" x2="271" y2="128.68" stroke="#222" stroke-width="0.9"/>
<line x1="268" y1="122.85" x2="274" y2="122.85" stroke="#222" stroke-width="0.9"/>
<line x1="268" y1="128.68" x2="274" y2="128.68" stroke="#222" stroke-width="0.9"/>
<polygon points="267.6,125.77 271,122.37 274.4,125.77 271,129.17" fill="#262626"/>
<line x1="293.6" y1="127.18" x2="293.6" y2="135.18" stroke="#222" stroke-width="0.9"/>
<line x1="290.6" y1="127.18" x2="296.6" y2="127.18" stroke="#222" stroke-width="0.9"/>
<line x1="290.6" y1="135.18" x2="296.6" y2="135.18" stroke="#222" stroke-width="0.9"/>
<polygon points="290.2,131.18 293.6,127.78 297,131.18 293.6,134.58" fill="#262626"/>
<line x1="315.3" y1="132.22" x2="315.3" y2="135.14" stroke="#222" stroke-width="0.9"/>
<line x1="312.3" y1="132.22" x2="318.3" y2="132.22" stroke="#222" stroke-width="0.9"/>
<line x1="312.3" y1="135.14" x2="318.3" y2="135.14" stroke="#222" stroke-width="0.9"/>
<polygon points="311.9,133.68 315.3,130.28 318.7,133.68 315.3,137.08" fill="#262626"/>
<line x1="337.5" y1="132.22" x2="337.5" y2="135.14" stroke="#222" stroke-width="0.9"/>
<line x1="334.5" y1="132.22" x2="340.5" y2="132.22" stroke="#222" stroke-width="0.9"/>
<line x1="334.5" y1="135.14" x2="340.5" y2="135.14" stroke="#222" stroke-width="0.9"/>
<polygon points="334.1,133.68 337.5,130.28 340.9,133.68 337.5,137.08" fill="#262626"/>
<rect x="316.4" y="91" width="32.5" height="18.4" fill="#fff" stroke="#000" stroke-width="1"/>
<text x="332.65" y="103.4" font-family="Liberation Serif, serif" font-size="9" font-weight="bold" text-anchor="middle" fill="#000">TBB</text>
<rect x="360.6" y="98" width="12.2" height="4" fill="#fff" stroke="#222" stroke-width="0.9" rx="1"/>
<text x="376" y="103.2" font-family="Liberation Serif, serif" font-size="9" font-weight="bold" text-anchor="start" fill="#000">OPM2</text>
<rect x="408.2" y="97.8" width="12.2" height="3.8" fill="#000" stroke="#000" stroke-width="0.5" rx="0.6"/>
<text x="423.5" y="103.2" font-family="Liberation Serif, serif" font-size="9" font-weight="bold" text-anchor="start" fill="#000">RPMI 8226</text>
<rect x="474.3" y="98" width="12.2" height="4" fill="#c0c0c0" stroke="#333" stroke-width="0.9" rx="1"/>
<text x="489.5" y="103.2" font-family="Liberation Serif, serif" font-size="9" font-weight="bold" text-anchor="start" fill="#000">U266</text>
<text x="11.3" y="214.5" font-family="Liberation Serif, serif" font-size="9" font-weight="bold" text-anchor="middle" fill="#000" transform="rotate(-90 11.3 214.5)">annexin V negative</text>
<text x="20.4" y="215" font-family="Liberation Serif, serif" font-size="8.9" font-weight="bold" text-anchor="middle" fill="#000" transform="rotate(-90 20.4 215)">( % over control)</text>
<rect x="40.9" y="192.1" width="63.4" height="49.5" fill="none" stroke="#111" stroke-width="0.9"/>
<rect x="47.1" y="200.86" width="8.7" height="40.74" fill="#000"/>
<line x1="51.45" y1="200.86" x2="51.45" y2="197.5" stroke="#000" stroke-width="0.9"/>
<line x1="49.25" y1="197.5" x2="53.65" y2="197.5" stroke="#000" stroke-width="0.9"/>
<rect x="69.4" y="214.13" width="9.2" height="27.47" fill="#000"/>
<line x1="74" y1="214.13" x2="74" y2="209.51" stroke="#000" stroke-width="0.9"/>
<line x1="71.8" y1="209.51" x2="76.2" y2="209.51" stroke="#000" stroke-width="0.9"/>
<rect x="91.4" y="225.01" width="9.2" height="16.59" fill="#000"/>
<line x1="96" y1="225.01" x2="96" y2="222.91" stroke="#000" stroke-width="0.9"/>
<line x1="93.8" y1="222.91" x2="98.2" y2="222.91" stroke="#000" stroke-width="0.9"/>
<text x="37.5" y="243.2" font-family="Liberation Serif, serif" font-size="7" font-weight="bold" text-anchor="end" fill="#000">0</text>
<text x="37.5" y="234.8" font-family="Liberation Serif, serif" font-size="7" font-weight="bold" text-anchor="end" fill="#000">20</text>
<text x="37.5" y="226.4" font-family="Liberation Serif, serif" font-size="7" font-weight="bold" text-anchor="end" fill="#000">40</text>
<text x="37.5" y="218" font-family="Liberation Serif, serif" font-size="7" font-weight="bold" text-anchor="end" fill="#000">60</text>
<text x="37.5" y="209.6" font-family="Liberation Serif, serif" font-size="7" font-weight="bold" text-anchor="end" fill="#000">80</text>
<text x="37.5" y="201.2" font-family="Liberation Serif, serif" font-size="7" font-weight="bold" text-anchor="end" fill="#000">100</text>
<text x="75.2" y="187" font-family="Liberation Serif, serif" font-size="8.8" font-weight="bold" text-anchor="middle" fill="#000">OPM2</text>
<text x="52.6" y="253.6" font-family="Liberation Serif, serif" font-size="7" font-weight="bold" text-anchor="middle" fill="#000">control</text>
<text x="75.7" y="253.6" font-family="Liberation Serif, serif" font-size="7" font-weight="bold" text-anchor="middle" fill="#000">2.5</text>
<text x="98" y="253.6" font-family="Liberation Serif, serif" font-size="7" font-weight="bold" text-anchor="middle" fill="#000">5</text>
<text x="77.4" y="265.8" font-family="Liberation Serif, serif" font-size="7" font-weight="bold" text-anchor="middle" fill="#000">[K27 (µM)]</text>
<rect x="128.7" y="191.7" width="68.3" height="49.6" fill="none" stroke="#111" stroke-width="0.9"/>
<rect x="135.9" y="200.14" width="9.1" height="41.16" fill="#000"/>
<line x1="140.45" y1="200.14" x2="140.45" y2="197.83" stroke="#000" stroke-width="0.9"/>
<line x1="138.25" y1="197.83" x2="142.65" y2="197.83" stroke="#000" stroke-width="0.9"/>
<rect x="159.3" y="212.74" width="9.1" height="28.56" fill="#000"/>
<line x1="163.85" y1="212.74" x2="163.85" y2="207.91" stroke="#000" stroke-width="0.9"/>
<line x1="161.65" y1="207.91" x2="166.05" y2="207.91" stroke="#000" stroke-width="0.9"/>
<rect x="180.7" y="232.69" width="9.2" height="8.61" fill="#000"/>
<line x1="185.3" y1="232.69" x2="185.3" y2="229.96" stroke="#000" stroke-width="0.9"/>
<line x1="183.1" y1="229.96" x2="187.5" y2="229.96" stroke="#000" stroke-width="0.9"/>
<text x="127" y="242.9" font-family="Liberation Serif, serif" font-size="7" font-weight="bold" text-anchor="end" fill="#000">0</text>
<text x="127" y="234.5" font-family="Liberation Serif, serif" font-size="7" font-weight="bold" text-anchor="end" fill="#000">20</text>
<text x="127" y="226.1" font-family="Liberation Serif, serif" font-size="7" font-weight="bold" text-anchor="end" fill="#000">40</text>
<text x="127" y="217.7" font-family="Liberation Serif, serif" font-size="7" font-weight="bold" text-anchor="end" fill="#000">60</text>
<text x="127" y="209.3" font-family="Liberation Serif, serif" font-size="7" font-weight="bold" text-anchor="end" fill="#000">80</text>
<text x="127" y="200.9" font-family="Liberation Serif, serif" font-size="7" font-weight="bold" text-anchor="end" fill="#000">100</text>
<text x="163" y="186.4" font-family="Liberation Serif, serif" font-size="8.8" font-weight="bold" text-anchor="middle" fill="#000">RPMI 8226</text>
<text x="140.4" y="252.4" font-family="Liberation Serif, serif" font-size="7" font-weight="bold" text-anchor="middle" fill="#000">control</text>
<text x="165.9" y="253.6" font-family="Liberation Serif, serif" font-size="7" font-weight="bold" text-anchor="middle" fill="#000">2.5</text>
<text x="186.4" y="253.6" font-family="Liberation Serif, serif" font-size="7" font-weight="bold" text-anchor="middle" fill="#000">5</text>
<text x="164.6" y="265.8" font-family="Liberation Serif, serif" font-size="7" font-weight="bold" text-anchor="middle" fill="#000">[K27 (µM)]</text>
<text x="2.4" y="308" font-family="Liberation Serif, serif" font-size="8.6" font-weight="bold" text-anchor="start" fill="#000">mock</text>
<text x="44.2" y="296.8" font-family="Liberation Serif, serif" font-size="8.6" font-weight="bold" text-anchor="start" fill="#000">ctr siRNA</text>
<text x="88.5" y="306.9" font-family="Liberation Serif, serif" font-size="8.6" font-weight="bold" text-anchor="start" fill="#000">CK2α siRNA</text>
<rect x="13.8" y="316.2" width="107.7" height="59" fill="none" stroke="#8a8a8a" stroke-width="0.9"/>
<polygon points="14,373.45 14.6,373.36 15.2,373.57 15.8,373.28 16.4,373.46 17,373.35 17.6,373.16 18.2,373.32 18.8,373.04 19.4,373.15 20,372.89 20.6,372.79 21.2,372.82 21.8,372.87 22.4,372.35 23,372.19 23.6,372.15 24.2,372.04 24.8,371.51 25.4,371.03 26,370.91 26.6,369.86 27.2,369.76 27.8,368.74 28.4,367.87 29,366.98 29.6,366.13 30.2,365.43 30.8,363.7 31.4,362.69 32,361.26 32.6,359.36 33.2,357.77 33.8,355.28 34.4,353.17 35,351.13 35.6,349.47 36.2,346.68 36.8,343.99 37.4,341.91 38,339.14 38.6,336.37 39.2,335.03 39.8,332.74 40.4,330.01 41,329.63 41.6,329.99 42.2,332.55 42.8,335.04 43.4,337.77 44,343.08 44.6,345.96 45.2,350.72 45.8,355.21 46.4,358.23 47,361.84 47.6,364.23 48.2,367 48.8,368.86 49.4,370.14 50,371.36 50.6,371.83 51.2,372.58 51.8,372.92 52.4,373.17 53,373.29 53.6,373.58 54.2,373.7 54.8,373.53 55.4,373.64 56,373.38 56.6,373.68 57.2,373.66 57.8,373.82 58.4,373.74 59,373.5 59.6,373.55 60.2,373.68 60.8,373.39 61.4,373.58 62,373.45 62.6,373.43 63.2,373.4 63.8,373.72 64.4,373.43 65,373.49 65.6,373.55 66.2,373.77 66.8,373.41 67.4,373.58 68,373.62 68.6,373.77 69.2,373.74 69.8,373.76 70.4,373.5 71,373.56 71.6,373.54 72.2,373.77 72.8,373.81 73.4,373.44 74,373.45 74.6,373.48 75.2,373.48 75.8,373.59 76.4,373.64 77,373.49 77.6,373.38 78.2,373.56 78.8,373.54 79.4,373.63 80,373.8 80.6,373.69 81.2,373.61 81.8,373.65 82.4,373.68 83,373.4 83.6,373.78 84.2,373.73 84.8,373.77 85.4,373.73 86,373.55 86.6,373.55 87.2,373.42 87.8,373.66 88.4,373.4 89,373.41 89.6,373.47 90.2,373.45 90.8,373.53 91.4,373.4 92,373.38 92.6,373.44 93.2,373.42 93.8,373.54 94.4,373.39 95,373.77 95.6,373.65 96.2,373.44 96.8,373.49 97.4,373.53 98,373.54 98.6,373.43 99.2,373.76 99.8,373.82 100.4,373.58 101,373.59 101.6,373.41 102.2,373.42 102.8,373.53 103.4,373.49 104,373.75 104.6,373.45 105.2,373.39 105.8,373.8 106.4,373.61 107,373.44 107.6,373.62 108.2,373.39 108.8,373.61 109.4,373.82 110,373.76 110.6,373.69 111.2,373.49 111.8,373.54 112.4,373.45 113,373.72 113.6,373.61 114.2,373.73 114.8,373.52 115.4,373.48 116,373.74 116.6,373.82 117.2,373.76 117.8,373.74 118.4,373.74 119,373.71 119.6,373.48 120.2,373.61 120.8,373.54 121,373.6 14,373.6" fill="#c6c6c6" stroke="none"/>
<polyline points="14,373.45 14.6,373.36 15.2,373.57 15.8,373.28 16.4,373.46 17,373.35 17.6,373.16 18.2,373.32 18.8,373.04 19.4,373.15 20,372.89 20.6,372.79 21.2,372.82 21.8,372.87 22.4,372.35 23,372.19 23.6,372.15 24.2,372.04 24.8,371.51 25.4,371.03 26,370.91 26.6,369.86 27.2,369.76 27.8,368.74 28.4,367.87 29,366.98 29.6,366.13 30.2,365.43 30.8,363.7 31.4,362.69 32,361.26 32.6,359.36 33.2,357.77 33.8,355.28 34.4,353.17 35,351.13 35.6,349.47 36.2,346.68 36.8,343.99 37.4,341.91 38,339.14 38.6,336.37 39.2,335.03 39.8,332.74 40.4,330.01 41,329.63 41.6,329.99 42.2,332.55 42.8,335.04 43.4,337.77 44,343.08 44.6,345.96 45.2,350.72 45.8,355.21 46.4,358.23 47,361.84 47.6,364.23 48.2,367 48.8,368.86 49.4,370.14 50,371.36 50.6,371.83 51.2,372.58 51.8,372.92 52.4,373.17 53,373.29 53.6,373.58 54.2,373.7 54.8,373.53 55.4,373.64 56,373.38 56.6,373.68 57.2,373.66 57.8,373.82 58.4,373.74 59,373.5 59.6,373.55 60.2,373.68 60.8,373.39 61.4,373.58 62,373.45 62.6,373.43 63.2,373.4 63.8,373.72 64.4,373.43 65,373.49 65.6,373.55 66.2,373.77 66.8,373.41 67.4,373.58 68,373.62 68.6,373.77 69.2,373.74 69.8,373.76 70.4,373.5 71,373.56 71.6,373.54 72.2,373.77 72.8,373.81 73.4,373.44 74,373.45 74.6,373.48 75.2,373.48 75.8,373.59 76.4,373.64 77,373.49 77.6,373.38 78.2,373.56 78.8,373.54 79.4,373.63 80,373.8 80.6,373.69 81.2,373.61 81.8,373.65 82.4,373.68 83,373.4 83.6,373.78 84.2,373.73 84.8,373.77 85.4,373.73 86,373.55 86.6,373.55 87.2,373.42 87.8,373.66 88.4,373.4 89,373.41 89.6,373.47 90.2,373.45 90.8,373.53 91.4,373.4 92,373.38 92.6,373.44 93.2,373.42 93.8,373.54 94.4,373.39 95,373.77 95.6,373.65 96.2,373.44 96.8,373.49 97.4,373.53 98,373.54 98.6,373.43 99.2,373.76 99.8,373.82 100.4,373.58 101,373.59 101.6,373.41 102.2,373.42 102.8,373.53 103.4,373.49 104,373.75 104.6,373.45 105.2,373.39 105.8,373.8 106.4,373.61 107,373.44 107.6,373.62 108.2,373.39 108.8,373.61 109.4,373.82 110,373.76 110.6,373.69 111.2,373.49 111.8,373.54 112.4,373.45 113,373.72 113.6,373.61 114.2,373.73 114.8,373.52 115.4,373.48 116,373.74 116.6,373.82 117.2,373.76 117.8,373.74 118.4,373.74 119,373.71 119.6,373.48 120.2,373.61 120.8,373.54" fill="none" stroke="#111" stroke-width="0.9"/>
<polyline points="14,373.36 14.6,373.36 15.2,373.49 15.8,373.48 16.4,373.7 17,373.83 17.6,373.57 18.2,373.82 18.8,373.84 19.4,373.82 20,373.52 20.6,373.45 21.2,373.45 21.8,373.43 22.4,373.42 23,373.62 23.6,373.74 24.2,373.69 24.8,373.49 25.4,373.54 26,373.57 26.6,373.14 27.2,373.36 27.8,373.38 28.4,373.19 29,373.01 29.6,372.65 30.2,372.22 30.8,372.22 31.4,371.54 32,371.3 32.6,370.78 33.2,369.64 33.8,368.7 34.4,367.97 35,366.47 35.6,364.43 36.2,362.52 36.8,360.37 37.4,358.73 38,355.89 38.6,351.97 39.2,349.54 39.8,346.19 40.4,341.83 41,337.28 41.6,333.69 42.2,328.96 42.8,325.27 43.4,325.08 44,324.15 44.6,325.81 45.2,329.42 45.8,331.36 46.4,335.55 47,338.8 47.6,341.03 48.2,344.41 48.8,347.64 49.4,350.54 50,353.76 50.6,355.88 51.2,358.38 51.8,360.16 52.4,362.77 53,363.89 53.6,365.43 54.2,366.79 54.8,368.11 55.4,368.7 56,369.84 56.6,370.25 57.2,370.85 57.8,371.34 58.4,371.46 59,372.05 59.6,372.19 60.2,372.33 60.8,372.95 61.4,372.78 62,373.07 62.6,373.3 63.2,373.3 63.8,373.25 64.4,373.41 65,373.47 65.6,373.62 66.2,373.3 66.8,373.55 67.4,373.41 68,373.44 68.6,373.7 69.2,373.58 69.8,373.61 70.4,373.71 71,373.79 71.6,373.56 72.2,373.65 72.8,373.6 73.4,373.6 74,373.69 74.6,373.57 75.2,373.62 75.8,373.59 76.4,373.82 77,373.7 77.6,373.79 78.2,373.82 78.8,373.48 79.4,373.63 80,373.82 80.6,373.77 81.2,373.42 81.8,373.41 82.4,373.57 83,373.39 83.6,373.47 84.2,373.39 84.8,373.68 85.4,373.74 86,373.8 86.6,373.43 87.2,373.71 87.8,373.68 88.4,373.42 89,373.79 89.6,373.83 90.2,373.46 90.8,373.83 91.4,373.55 92,373.59 92.6,373.84 93.2,373.77 93.8,373.43 94.4,373.57 95,373.61 95.6,373.52 96.2,373.45 96.8,373.51 97.4,373.71 98,373.36 98.6,373.63 99.2,373.57 99.8,373.36 100.4,373.52 101,373.66 101.6,373.61 102.2,373.38 102.8,373.84 103.4,373.74 104,373.84 104.6,373.4 105.2,373.48 105.8,373.37 106.4,373.74 107,373.49 107.6,373.41 108.2,373.56 108.8,373.81 109.4,373.76 110,373.48 110.6,373.42 111.2,373.81 111.8,373.64 112.4,373.7 113,373.39 113.6,373.38 114.2,373.69 114.8,373.56 115.4,373.39 116,373.82 116.6,373.67 117.2,373.75 117.8,373.39 118.4,373.78 119,373.38 119.6,373.78 120.2,373.58 120.8,373.52" fill="none" stroke="#222" stroke-width="1" stroke-dasharray="1.8 1.2"/>
<polyline points="14,373.63 14.6,373.83 15.2,373.47 15.8,373.4 16.4,373.61 17,373.46 17.6,373.39 18.2,373.41 18.8,373.35 19.4,373.44 20,373.5 20.6,373.49 21.2,373.74 21.8,373.48 22.4,373.6 23,373.42 23.6,373.52 24.2,373.33 24.8,373.46 25.4,373.33 26,373.73 26.6,373.63 27.2,373.43 27.8,373.59 28.4,373.84 29,373.38 29.6,373.78 30.2,373.56 30.8,373.6 31.4,373.78 32,373.54 32.6,373.6 33.2,373.7 33.8,373.86 34.4,373.51 35,373.78 35.6,373.71 36.2,373.67 36.8,373.53 37.4,373.5 38,373.33 38.6,373.36 39.2,373.31 39.8,373.66 40.4,373.36 41,373.27 41.6,373.17 42.2,373.52 42.8,373.45 43.4,373.21 44,372.82 44.6,372.58 45.2,372.32 45.8,372.06 46.4,371.41 47,371.01 47.6,370.16 48.2,369.75 48.8,368.67 49.4,366.98 50,365.07 50.6,363.81 51.2,360.84 51.8,358.2 52.4,354.64 53,351.67 53.6,347.97 54.2,343.86 54.8,338.86 55.4,334.98 56,329.39 56.6,325.97 57.2,322.31 57.8,322.42 58.4,324.2 59,328.01 59.6,333.04 60.2,337.42 60.8,342.58 61.4,346.71 62,350.99 62.6,354.41 63.2,357.66 63.8,360.63 64.4,362.51 65,364.53 65.6,366.84 66.2,367.6 66.8,369.23 67.4,370.14 68,370.52 68.6,371.67 69.2,372.19 69.8,372.42 70.4,372.78 71,373.06 71.6,372.85 72.2,373.21 72.8,373.31 73.4,373.57 74,373.61 74.6,373.67 75.2,373.56 75.8,373.76 76.4,373.66 77,373.68 77.6,373.43 78.2,373.33 78.8,373.39 79.4,373.52 80,373.38 80.6,373.78 81.2,373.63 81.8,373.67 82.4,373.67 83,373.7 83.6,373.59 84.2,373.33 84.8,373.76 85.4,373.74 86,373.6 86.6,373.62 87.2,373.69 87.8,373.36 88.4,373.73 89,373.46 89.6,373.37 90.2,373.47 90.8,373.73 91.4,373.44 92,373.73 92.6,373.86 93.2,373.6 93.8,373.54 94.4,373.59 95,373.7 95.6,373.75 96.2,373.66 96.8,373.68 97.4,373.37 98,373.41 98.6,373.46 99.2,373.73 99.8,373.49 100.4,373.64 101,373.33 101.6,373.36 102.2,373.47 102.8,373.69 103.4,373.71 104,373.7 104.6,373.48 105.2,373.61 105.8,373.58 106.4,373.58 107,373.39 107.6,373.82 108.2,373.43 108.8,373.86 109.4,373.84 110,373.33 110.6,373.58 111.2,373.78 111.8,373.86 112.4,373.57 113,373.47 113.6,373.44 114.2,373.85 114.8,373.44 115.4,373.64 116,373.4 116.6,373.61 117.2,373.85 117.8,373.4 118.4,373.78 119,373.6 119.6,373.81 120.2,373.71 120.8,373.45" fill="none" stroke="#000" stroke-width="1.5" stroke-linejoin="round"/>
<line x1="24" y1="318.1" x2="30.38" y2="328.78" stroke="#000" stroke-width="1.2"/>
<polygon points="33.2,333.5 28.49,329.91 32.27,327.65" fill="#000"/>
<line x1="65.6" y1="301.4" x2="51.18" y2="318.22" stroke="#000" stroke-width="1.2"/>
<polygon points="47.6,322.4 49.51,316.79 52.85,319.66" fill="#000"/>
<line x1="81.8" y1="310.5" x2="67.11" y2="322.18" stroke="#000" stroke-width="1.2"/>
<polygon points="62.8,325.6 65.74,320.46 68.47,323.9" fill="#000"/>
<text x="12.6" y="381.2" font-family="Liberation Serif, serif" font-size="4.2" text-anchor="middle" fill="#333">10</text>
<text x="15.8" y="379.2" font-family="Liberation Serif, serif" font-size="3" text-anchor="middle" fill="#333">0</text>
<line x1="13.8" y1="375.2" x2="13.8" y2="377" stroke="#777" stroke-width="0.6"/>
<text x="38.5" y="381.2" font-family="Liberation Serif, serif" font-size="4.2" text-anchor="middle" fill="#333">10</text>
<text x="41.7" y="379.2" font-family="Liberation Serif, serif" font-size="3" text-anchor="middle" fill="#333">1</text>
<line x1="39.7" y1="375.2" x2="39.7" y2="377" stroke="#777" stroke-width="0.6"/>
<text x="65.4" y="381.2" font-family="Liberation Serif, serif" font-size="4.2" text-anchor="middle" fill="#333">10</text>
<text x="68.6" y="379.2" font-family="Liberation Serif, serif" font-size="3" text-anchor="middle" fill="#333">2</text>
<line x1="66.6" y1="375.2" x2="66.6" y2="377" stroke="#777" stroke-width="0.6"/>
<text x="93" y="381.2" font-family="Liberation Serif, serif" font-size="4.2" text-anchor="middle" fill="#333">10</text>
<text x="96.2" y="379.2" font-family="Liberation Serif, serif" font-size="3" text-anchor="middle" fill="#333">3</text>
<line x1="94.2" y1="375.2" x2="94.2" y2="377" stroke="#777" stroke-width="0.6"/>
<text x="120.3" y="381.2" font-family="Liberation Serif, serif" font-size="4.2" text-anchor="middle" fill="#333">10</text>
<text x="123.5" y="379.2" font-family="Liberation Serif, serif" font-size="3" text-anchor="middle" fill="#333">4</text>
<line x1="121.5" y1="375.2" x2="121.5" y2="377" stroke="#777" stroke-width="0.6"/>
<line x1="21.6" y1="375.2" x2="21.6" y2="376.2" stroke="#999" stroke-width="0.4"/>
<line x1="26.16" y1="375.2" x2="26.16" y2="376.2" stroke="#999" stroke-width="0.4"/>
<line x1="29.39" y1="375.2" x2="29.39" y2="376.2" stroke="#999" stroke-width="0.4"/>
<line x1="31.9" y1="375.2" x2="31.9" y2="376.2" stroke="#999" stroke-width="0.4"/>
<line x1="33.95" y1="375.2" x2="33.95" y2="376.2" stroke="#999" stroke-width="0.4"/>
<line x1="35.69" y1="375.2" x2="35.69" y2="376.2" stroke="#999" stroke-width="0.4"/>
<line x1="37.19" y1="375.2" x2="37.19" y2="376.2" stroke="#999" stroke-width="0.4"/>
<line x1="38.51" y1="375.2" x2="38.51" y2="376.2" stroke="#999" stroke-width="0.4"/>
<line x1="47.8" y1="375.2" x2="47.8" y2="376.2" stroke="#999" stroke-width="0.4"/>
<line x1="52.53" y1="375.2" x2="52.53" y2="376.2" stroke="#999" stroke-width="0.4"/>
<line x1="55.9" y1="375.2" x2="55.9" y2="376.2" stroke="#999" stroke-width="0.4"/>
<line x1="58.5" y1="375.2" x2="58.5" y2="376.2" stroke="#999" stroke-width="0.4"/>
<line x1="60.63" y1="375.2" x2="60.63" y2="376.2" stroke="#999" stroke-width="0.4"/>
<line x1="62.43" y1="375.2" x2="62.43" y2="376.2" stroke="#999" stroke-width="0.4"/>
<line x1="63.99" y1="375.2" x2="63.99" y2="376.2" stroke="#999" stroke-width="0.4"/>
<line x1="65.37" y1="375.2" x2="65.37" y2="376.2" stroke="#999" stroke-width="0.4"/>
<line x1="74.91" y1="375.2" x2="74.91" y2="376.2" stroke="#999" stroke-width="0.4"/>
<line x1="79.77" y1="375.2" x2="79.77" y2="376.2" stroke="#999" stroke-width="0.4"/>
<line x1="83.22" y1="375.2" x2="83.22" y2="376.2" stroke="#999" stroke-width="0.4"/>
<line x1="85.89" y1="375.2" x2="85.89" y2="376.2" stroke="#999" stroke-width="0.4"/>
<line x1="88.08" y1="375.2" x2="88.08" y2="376.2" stroke="#999" stroke-width="0.4"/>
<line x1="89.92" y1="375.2" x2="89.92" y2="376.2" stroke="#999" stroke-width="0.4"/>
<line x1="91.53" y1="375.2" x2="91.53" y2="376.2" stroke="#999" stroke-width="0.4"/>
<line x1="92.94" y1="375.2" x2="92.94" y2="376.2" stroke="#999" stroke-width="0.4"/>
<line x1="102.42" y1="375.2" x2="102.42" y2="376.2" stroke="#999" stroke-width="0.4"/>
<line x1="107.23" y1="375.2" x2="107.23" y2="376.2" stroke="#999" stroke-width="0.4"/>
<line x1="110.64" y1="375.2" x2="110.64" y2="376.2" stroke="#999" stroke-width="0.4"/>
<line x1="113.28" y1="375.2" x2="113.28" y2="376.2" stroke="#999" stroke-width="0.4"/>
<line x1="115.44" y1="375.2" x2="115.44" y2="376.2" stroke="#999" stroke-width="0.4"/>
<line x1="117.27" y1="375.2" x2="117.27" y2="376.2" stroke="#999" stroke-width="0.4"/>
<line x1="118.85" y1="375.2" x2="118.85" y2="376.2" stroke="#999" stroke-width="0.4"/>
<line x1="120.25" y1="375.2" x2="120.25" y2="376.2" stroke="#999" stroke-width="0.4"/>
<text x="12" y="374.8" font-family="Liberation Serif, serif" font-size="3.6" text-anchor="end" fill="#333">0</text>
<line x1="12.3" y1="373.6" x2="13.8" y2="373.6" stroke="#777" stroke-width="0.5"/>
<text x="12" y="366.9" font-family="Liberation Serif, serif" font-size="3.6" text-anchor="end" fill="#333">10</text>
<line x1="12.3" y1="365.7" x2="13.8" y2="365.7" stroke="#777" stroke-width="0.5"/>
<text x="12" y="359" font-family="Liberation Serif, serif" font-size="3.6" text-anchor="end" fill="#333">20</text>
<line x1="12.3" y1="357.8" x2="13.8" y2="357.8" stroke="#777" stroke-width="0.5"/>
<text x="12" y="351.1" font-family="Liberation Serif, serif" font-size="3.6" text-anchor="end" fill="#333">30</text>
<line x1="12.3" y1="349.9" x2="13.8" y2="349.9" stroke="#777" stroke-width="0.5"/>
<text x="12" y="343.2" font-family="Liberation Serif, serif" font-size="3.6" text-anchor="end" fill="#333">40</text>
<line x1="12.3" y1="342" x2="13.8" y2="342" stroke="#777" stroke-width="0.5"/>
<text x="12" y="335.3" font-family="Liberation Serif, serif" font-size="3.6" text-anchor="end" fill="#333">50</text>
<line x1="12.3" y1="334.1" x2="13.8" y2="334.1" stroke="#777" stroke-width="0.5"/>
<text x="12" y="327.4" font-family="Liberation Serif, serif" font-size="3.6" text-anchor="end" fill="#333">60</text>
<line x1="12.3" y1="326.2" x2="13.8" y2="326.2" stroke="#777" stroke-width="0.5"/>
<text x="12" y="319.5" font-family="Liberation Serif, serif" font-size="3.6" text-anchor="end" fill="#333">70</text>
<line x1="12.3" y1="318.3" x2="13.8" y2="318.3" stroke="#777" stroke-width="0.5"/>
<text x="6.5" y="352" font-family="Liberation Serif, serif" font-size="3.8" text-anchor="middle" fill="#333" transform="rotate(-90 6.5 352)">Counts</text>
<text x="66.5" y="386.2" font-family="Liberation Serif, serif" font-size="3.6" text-anchor="middle" fill="#333">FL1-H</text>
<text x="58.8" y="399.8" font-family="Liberation Serif, serif" font-size="10" font-weight="bold" text-anchor="middle" fill="#000">AV-FITC</text>
<rect x="131.2" y="365.8" width="60.6" height="13.4" fill="#fff" stroke="#111" stroke-width="0.9"/>
<rect x="131.2" y="387.6" width="60.6" height="12.2" fill="#fff" stroke="#111" stroke-width="0.9"/>
<defs><filter id="bl" x="-20%" y="-80%" width="140%" height="260%"><feGaussianBlur stdDeviation="0.7"/></filter><filter id="bl2" x="-20%" y="-80%" width="140%" height="260%"><feGaussianBlur stdDeviation="0.45"/></filter></defs>
<g filter="url(#bl)">
<path d="M135,373.9 q3,-2.2 7,-1.4 q3.5,0.4 6.6,-1.2 l0.4,2.6 q-3,2.4 -7,2 q-4,0.2 -7,-0.4z" fill="#111"/>
<path d="M153.8,371.2 q3,-1.8 7,-1 q4,0.8 7.8,0.2 l0.4,2.4 q-3,2.2 -7.6,1.6 q-4.6,-0.2 -7.6,-0.8z" fill="#111"/>
<path d="M175.5,371.6 q3,-1 6,-0.8 q3,-0.6 6.8,-0.4 l0,1.4 q-3,0.8 -6.4,0.8 q-3,0.6 -6.4,0.2z" fill="#777"/>
</g>
<g filter="url(#bl2)" fill="none" stroke="#222" stroke-width="1.3">
<path d="M135,394.3 q3,0.8 7,0.3 t7,-0.6"/>
<path d="M154.4,393.4 q3,0.4 7,-0.3 t7.4,-0.3"/>
<path d="M174.6,392.2 q3,0.4 7,-0.6 t7.6,0.4"/>
</g>
<text x="142.6" y="358" font-family="Liberation Serif, serif" font-size="8" font-weight="bold" text-anchor="start" fill="#000" transform="rotate(-90 142.6 358)">mock</text>
<text x="165.2" y="359" font-family="Liberation Serif, serif" font-size="8" font-weight="bold" text-anchor="start" fill="#000" transform="rotate(-90 165.2 359)">ctr siRNA</text>
<text x="185.2" y="359.7" font-family="Liberation Serif, serif" font-size="8" font-weight="bold" text-anchor="start" fill="#000" transform="rotate(-90 185.2 359.7)">CK2α siRNA</text>
<text x="198.7" y="378" font-family="Liberation Serif, serif" font-size="9.2" font-weight="bold" text-anchor="start" fill="#000">CK2α</text>
<text x="198.7" y="396.2" font-family="Liberation Serif, serif" font-size="8.8" font-weight="bold" text-anchor="start" fill="#000">β-actin</text>
<rect x="260.5" y="192.8" width="66" height="66.8" fill="none" stroke="#858585" stroke-width="0.9"/>
<path d="M275.5,207.4h0M271.9,211.0h0M268.2,210.5h0M270.4,213.9h0M269.2,214.9h0M271.9,210.6h0M274.3,199.3h0M274.8,221.5h0M273.0,197.9h0M269.7,216.4h0M269.9,207.3h0M269.0,212.5h0M272.9,212.0h0M274.0,206.9h0M274.3,209.6h0M269.7,218.0h0M271.6,216.6h0M278.7,208.9h0M275.1,203.4h0M279.7,204.9h0M267.6,206.9h0M275.9,215.0h0M266.0,212.9h0M271.0,206.6h0M277.6,216.6h0M273.1,216.4h0M269.3,214.8h0M274.8,194.3h0M269.4,219.7h0M268.8,218.0h0M269.7,212.8h0M272.0,214.7h0M275.6,207.6h0M270.1,224.1h0M275.1,211.5h0M272.3,214.2h0M273.4,214.4h0M273.1,213.8h0M269.7,218.7h0M277.1,205.2h0M268.2,213.5h0M268.9,209.3h0M270.7,212.6h0M266.8,226.2h0M273.2,216.6h0M269.4,201.2h0M271.2,215.7h0M270.4,217.0h0M263.3,214.3h0M277.6,201.7h0M272.4,211.3h0M272.8,198.1h0M267.3,211.3h0M274.8,211.6h0M278.1,207.1h0M279.7,199.3h0M271.1,213.8h0M272.5,217.4h0M271.6,197.1h0M272.8,202.1h0M273.5,204.3h0M271.0,210.2h0M273.1,206.7h0M276.6,207.6h0M270.5,213.8h0M269.7,219.5h0M271.8,208.0h0M274.4,214.8h0M269.7,207.3h0M270.6,219.1h0M274.3,211.8h0M263.2,212.9h0M269.9,200.1h0M269.3,211.1h0M268.4,226.3h0M272.1,205.8h0M275.1,212.7h0M271.5,204.9h0M269.5,219.8h0M274.1,209.4h0M274.2,212.7h0M266.6,214.4h0M271.2,221.5h0M273.0,203.7h0M270.6,226.8h0M267.2,220.8h0M271.0,215.2h0M273.0,205.9h0M275.7,209.6h0M271.7,215.1h0M266.7,214.5h0M273.6,210.2h0M269.4,213.1h0M273.5,210.7h0M272.6,211.8h0M264.7,217.8h0M276.9,205.2h0M279.0,212.3h0M270.0,214.1h0M277.3,208.0h0M275.8,213.7h0M268.6,214.5h0M270.0,213.9h0M274.2,211.6h0M264.3,222.0h0M275.0,223.1h0M271.3,216.6h0M276.5,201.3h0M270.6,211.5h0M268.5,211.2h0M273.9,209.4h0M265.1,219.6h0M274.6,212.8h0M275.9,201.8h0M272.4,211.5h0M277.0,217.6h0M269.2,220.9h0M274.7,208.1h0M267.2,225.7h0M270.6,207.3h0M272.3,205.6h0M271.5,211.4h0M275.0,197.5h0M269.1,199.0h0M273.8,212.1h0M263.4,211.5h0M275.0,209.9h0M270.2,217.3h0M264.4,209.9h0M271.8,221.4h0M273.8,199.6h0M274.1,202.8h0M269.4,215.3h0M266.4,218.2h0M273.1,213.2h0M272.8,206.3h0M272.3,211.7h0M269.5,208.6h0M278.5,210.8h0M274.2,211.1h0M272.6,212.5h0M266.8,209.9h0M269.2,211.9h0M267.0,214.3h0M271.3,201.4h0M276.0,204.2h0M274.2,219.9h0M268.9,218.2h0M266.5,217.2h0M271.5,215.4h0M271.0,214.4h0M275.9,206.3h0M269.0,216.0h0M275.5,211.4h0M269.9,222.0h0M269.6,194.4h0M273.6,215.7h0M276.6,200.9h0M272.7,210.2h0M270.6,213.7h0M271.4,226.7h0M267.0,202.5h0M265.4,218.7h0M269.1,211.9h0M276.2,196.8h0M273.9,216.7h0M270.8,207.6h0M270.0,213.1h0M271.4,215.5h0M269.2,204.9h0M271.6,211.8h0M267.7,218.5h0M271.7,215.9h0M271.0,221.6h0M270.8,210.0h0M273.4,215.1h0M268.1,207.3h0M272.8,213.2h0M271.9,204.8h0M270.0,215.9h0M274.6,210.0h0M269.5,208.0h0M264.9,215.8h0M274.7,211.4h0M271.3,220.5h0M271.7,211.6h0M275.2,207.8h0M274.3,205.6h0M275.3,207.0h0M271.8,211.9h0M268.1,207.2h0M273.2,209.8h0M270.4,206.4h0M270.0,210.4h0M269.3,217.9h0M273.3,209.9h0M265.9,210.3h0M273.9,210.5h0M274.6,222.4h0M275.5,210.6h0M277.4,217.0h0M264.6,218.2h0M269.2,202.2h0M272.6,220.5h0M270.9,217.1h0M277.1,202.3h0M271.7,215.0h0M267.7,214.5h0M270.0,212.7h0M269.6,220.6h0M272.7,210.0h0M267.7,205.9h0M276.9,214.9h0M273.6,217.1h0M268.1,207.3h0M269.2,216.6h0M269.6,207.1h0M271.1,205.0h0M271.0,211.3h0M270.1,205.5h0M269.9,221.2h0M273.8,204.5h0M271.8,217.4h0M272.5,213.2h0M270.2,211.7h0M267.6,212.7h0M275.5,214.0h0M275.0,216.7h0M273.9,203.9h0M274.6,214.1h0M263.9,220.0h0M273.7,220.8h0M276.8,211.8h0M273.3,207.4h0M275.5,210.9h0M279.2,208.8h0M272.4,220.7h0M273.0,210.2h0M266.8,218.4h0M272.9,222.5h0M268.3,221.7h0M272.7,217.0h0M274.0,209.3h0M269.8,218.0h0M271.0,212.3h0M271.7,214.3h0M276.8,208.3h0M273.7,209.0h0M272.7,208.1h0M267.7,208.3h0M265.5,219.5h0M268.4,207.3h0M273.2,209.2h0M276.2,211.5h0M265.8,216.6h0M266.7,229.1h0M269.7,207.6h0M273.5,204.5h0M272.0,220.4h0M276.5,215.5h0M269.7,219.5h0M276.0,211.0h0M271.3,206.1h0M272.5,211.1h0M272.7,218.2h0M267.6,213.1h0M273.5,209.2h0M270.4,219.8h0M271.9,211.0h0M270.3,213.0h0M269.6,214.0h0M269.0,206.0h0M271.1,219.3h0M269.9,211.0h0M274.2,209.6h0M272.0,213.3h0M269.7,200.6h0M273.7,205.0h0M271.5,211.8h0M270.6,204.2h0M267.5,217.3h0M263.7,214.3h0M272.5,206.3h0M272.7,210.0h0M268.8,209.0h0M271.3,213.0h0M272.0,210.0h0M265.7,204.8h0M272.3,214.3h0M269.8,205.7h0M270.0,201.5h0M271.9,215.8h0M271.0,212.6h0M277.4,205.1h0M271.8,210.2h0M276.4,203.3h0M266.2,211.9h0M269.3,211.7h0M272.9,214.0h0M274.1,212.8h0M273.8,201.6h0M276.2,203.6h0M269.6,218.5h0M265.7,213.9h0M269.4,209.7h0M269.4,197.6h0M270.3,223.4h0M274.0,211.9h0M269.9,220.9h0M277.3,208.6h0M266.2,221.3h0M269.7,214.6h0M276.4,207.0h0M272.0,202.2h0M275.4,210.8h0M276.0,203.6h0M274.9,206.3h0M272.8,203.0h0M270.1,214.6h0M271.2,209.0h0M273.6,209.4h0M273.1,211.7h0M274.8,209.1h0M271.9,212.1h0M275.8,214.3h0M270.0,203.2h0M272.1,208.7h0M269.9,207.2h0M276.4,201.2h0M272.9,209.7h0M278.6,202.0h0M273.3,210.2h0M271.5,213.8h0M277.1,214.7h0M275.2,203.3h0M275.4,203.7h0M270.8,213.5h0M274.7,217.7h0M271.3,216.2h0M271.0,211.3h0M270.5,215.8h0M272.3,205.1h0M265.1,224.2h0M265.7,209.3h0M271.4,209.7h0M268.1,213.6h0M273.4,205.5h0M272.2,203.4h0M270.4,223.0h0M275.2,218.0h0M271.7,211.2h0M271.1,221.0h0M272.0,210.9h0M268.0,210.5h0M273.1,207.3h0M268.8,210.4h0M273.8,207.1h0M274.5,209.7h0M270.7,220.3h0M270.2,210.6h0M271.3,208.8h0M274.9,202.1h0M274.6,202.8h0M268.7,215.3h0M264.8,217.6h0M275.8,218.7h0M273.7,212.0h0M268.2,223.7h0M268.7,210.2h0M274.1,208.3h0M267.6,211.9h0M274.1,200.8h0M270.9,206.1h0M270.2,213.8h0M275.9,204.0h0M272.4,207.2h0M265.8,213.7h0M270.6,209.1h0M264.7,212.5h0M271.0,214.9h0M268.2,219.5h0M273.4,208.2h0M272.2,215.0h0M268.5,217.0h0M272.2,215.8h0M271.4,226.9h0M272.1,208.1h0M273.3,210.6h0M262.4,221.0h0M275.2,201.8h0M269.5,212.1h0M271.2,208.5h0M271.2,216.9h0M274.5,212.9h0M274.9,202.2h0M267.3,209.9h0M269.8,211.3h0M270.0,206.6h0M274.3,197.6h0M267.3,213.4h0M273.1,204.6h0M270.2,220.6h0M277.2,204.6h0M272.3,199.2h0M271.5,202.6h0M268.8,211.8h0M271.2,208.7h0M265.8,214.9h0M272.5,202.4h0M270.3,217.3h0M267.0,212.3h0M266.7,214.9h0M273.9,209.7h0M270.6,201.5h0M267.9,214.8h0M272.6,210.8h0M270.1,209.5h0M276.3,197.1h0M270.3,210.2h0M269.0,206.7h0M272.5,203.6h0M269.9,201.3h0M268.7,209.3h0M274.0,210.0h0M271.7,205.1h0M272.5,207.8h0M274.7,211.0h0M273.7,213.1h0M271.2,211.4h0M268.2,213.4h0M272.0,205.4h0M270.5,215.1h0M274.5,196.5h0M269.7,209.7h0M274.0,205.4h0M271.4,214.1h0M275.1,200.2h0M270.5,205.3h0M270.0,208.8h0M274.8,210.3h0M269.9,201.5h0M274.5,205.0h0M269.0,218.0h0M274.1,219.9h0M265.9,219.4h0M270.1,216.7h0M270.2,217.3h0M271.7,211.3h0M272.3,206.0h0M270.6,216.0h0M268.2,211.0h0M270.2,203.5h0M264.7,220.4h0M272.7,209.4h0M277.5,200.0h0M272.8,207.7h0M275.5,203.9h0M272.2,211.1h0M276.6,209.2h0M271.1,213.7h0M272.4,214.7h0M273.4,205.5h0M273.2,222.5h0M273.0,207.5h0M276.2,206.4h0M274.6,202.3h0M277.5,205.3h0M273.6,207.7h0M271.9,203.6h0M273.0,204.4h0M275.8,206.4h0M270.5,215.3h0M272.8,216.8h0M274.4,214.1h0M272.7,216.9h0M267.8,210.1h0M272.1,210.4h0M274.9,205.6h0M268.2,206.5h0M274.4,206.3h0M263.1,216.9h0M274.8,215.7h0M271.5,209.7h0M269.4,204.3h0M274.7,209.2h0M275.6,210.9h0M264.8,210.7h0M276.1,214.0h0M270.6,206.6h0M274.6,206.9h0M267.7,211.2h0M272.9,206.8h0M268.1,212.7h0M267.0,205.9h0M267.7,221.5h0M267.7,214.3h0M269.6,217.9h0M276.5,210.5h0M273.6,205.8h0M269.6,215.3h0M268.9,205.6h0M272.3,209.3h0M273.4,198.2h0M270.9,210.1h0M271.4,211.5h0M271.5,224.2h0M269.4,204.5h0M276.2,198.4h0M269.6,204.8h0M269.8,203.5h0M269.0,204.8h0M270.8,219.9h0M266.0,212.4h0M272.8,213.5h0M276.4,214.5h0M276.6,207.2h0M265.9,218.3h0M274.3,203.5h0M270.4,216.0h0M268.7,212.9h0M266.8,213.7h0M272.8,210.3h0M271.1,210.0h0M274.2,219.3h0M266.9,203.3h0M271.1,211.1h0M267.3,215.5h0M281.3,206.2h0M268.3,211.1h0M274.1,216.9h0M271.4,214.4h0M272.0,211.0h0M271.7,207.9h0M273.1,210.6h0M273.3,208.8h0M276.4,213.1h0M269.7,220.8h0M271.7,212.8h0M274.6,201.6h0M276.5,203.9h0M274.5,216.1h0M272.3,204.2h0M274.3,209.5h0M277.0,209.8h0M272.2,211.1h0M270.4,201.1h0M273.5,213.9h0M272.3,207.2h0M275.2,206.1h0M274.0,213.6h0M269.4,207.3h0M271.6,207.7h0M273.8,205.6h0M270.5,203.6h0M268.4,213.2h0M276.6,197.1h0M274.3,203.5h0M270.9,212.9h0M276.8,210.4h0M274.1,206.4h0M267.2,199.1h0M275.4,204.2h0M269.2,216.6h0M274.9,207.6h0M271.7,203.0h0M277.7,205.2h0M271.6,211.2h0M270.0,217.2h0M268.1,204.0h0M272.7,209.9h0M276.7,202.0h0M275.7,205.7h0M268.2,222.4h0M275.3,202.7h0M274.8,208.6h0M274.2,215.6h0M273.2,207.2h0M274.8,196.9h0M270.3,219.2h0M271.5,204.5h0M271.3,215.5h0M274.1,200.2h0M270.3,211.3h0M275.8,201.6h0M270.4,218.9h0M278.6,204.5h0M268.4,209.2h0M270.5,208.4h0M271.6,214.6h0M272.0,205.2h0M269.3,207.8h0M270.0,210.1h0M280.7,218.9h0M270.2,212.7h0M269.8,202.2h0M272.5,218.2h0M268.2,216.5h0M272.5,211.3h0M278.1,211.6h0M267.5,210.7h0" fill="none" stroke="#000" stroke-width="0.8" stroke-linecap="square" stroke-opacity="0.45"/>
<path d="M269.8,236.1h0M271.2,223.2h0M273.6,229.2h0M273.2,230.4h0M271.1,231.2h0M275.7,231.3h0M273.7,227.0h0M279.5,227.3h0M275.8,231.8h0M268.6,230.9h0M273.6,229.1h0M264.6,227.8h0M276.7,228.4h0M266.6,232.3h0M276.5,237.7h0M273.5,229.7h0M273.6,230.5h0M264.7,236.1h0M277.3,226.0h0M277.7,231.7h0M268.8,224.8h0M271.8,229.7h0M274.9,234.6h0M276.5,227.8h0M268.6,234.4h0M270.5,228.2h0M268.8,232.3h0M273.9,232.8h0M271.9,232.2h0M274.5,234.1h0M277.3,230.3h0M270.8,230.8h0M273.1,228.7h0M278.4,226.9h0M272.2,228.6h0M268.5,230.4h0M278.0,226.9h0M267.0,227.0h0M266.0,235.5h0M264.2,230.6h0M272.3,231.8h0M276.9,231.8h0M268.0,229.2h0M272.7,227.8h0M268.2,231.0h0M269.2,236.7h0M269.0,231.7h0M266.5,230.0h0M272.1,228.8h0M271.8,229.7h0M275.5,226.6h0M271.6,233.8h0M269.6,232.6h0M271.6,233.1h0M285.9,229.1h0M272.1,229.1h0M268.1,237.3h0M277.0,231.9h0M267.1,239.5h0M278.3,230.5h0M269.0,231.5h0M278.7,229.9h0M267.6,229.5h0M261.4,233.0h0M271.5,234.4h0M272.1,231.6h0M271.2,224.2h0M270.9,231.2h0M275.5,232.4h0M266.8,229.9h0M272.0,234.6h0M268.2,223.5h0M267.8,228.6h0M276.9,232.2h0M264.5,233.0h0M277.9,232.1h0M266.0,235.8h0M273.7,226.7h0M280.0,230.6h0M261.5,230.9h0M270.1,232.1h0M272.4,226.8h0M272.5,232.8h0M270.0,229.7h0M265.6,229.4h0M268.1,229.7h0M268.6,223.4h0M272.9,227.5h0M269.3,226.4h0M270.4,228.6h0M278.0,223.4h0M265.1,230.0h0M265.0,229.0h0M281.8,231.1h0M270.8,232.1h0M273.0,231.5h0M270.8,229.0h0M276.0,233.0h0M270.6,230.5h0M265.7,227.1h0M263.6,229.0h0M277.4,234.2h0M270.1,228.8h0M274.0,232.8h0M266.8,229.8h0M273.6,232.4h0M274.2,233.5h0M271.9,228.3h0M263.8,227.2h0M274.6,235.6h0M274.4,228.5h0M263.0,233.2h0M266.0,229.3h0M277.5,227.6h0M268.6,232.1h0M268.0,233.2h0M278.2,229.1h0M277.2,226.4h0M271.2,228.9h0M273.4,228.8h0M264.9,232.2h0M266.8,233.2h0M274.6,231.5h0M269.4,229.8h0M277.8,237.2h0M272.1,221.5h0M265.0,225.0h0M277.2,224.9h0M276.5,231.0h0M269.7,235.2h0M269.5,234.3h0M275.8,227.6h0M270.3,234.2h0M269.5,232.8h0M269.0,228.4h0M266.9,229.6h0M265.0,230.8h0M271.7,231.3h0M272.8,232.1h0M267.3,231.5h0M270.4,231.4h0M262.3,227.9h0M265.9,226.9h0M268.6,227.9h0M269.1,226.0h0M264.6,228.4h0M266.6,230.5h0M270.5,232.4h0M266.0,229.6h0M269.8,229.6h0M265.1,235.6h0M270.8,234.4h0M266.8,230.0h0M274.0,229.6h0M270.7,227.8h0M278.5,232.8h0M268.9,230.3h0M266.7,232.4h0M270.2,228.1h0M272.1,238.8h0M270.2,227.8h0M268.2,232.7h0M267.6,225.4h0M275.1,224.4h0M263.2,229.2h0M270.0,223.8h0M262.7,230.8h0M267.8,222.1h0M276.6,235.1h0M277.8,230.0h0M265.9,227.7h0M275.9,228.8h0M263.7,233.0h0M274.5,226.3h0M266.8,232.6h0M263.5,231.4h0M269.2,233.3h0M266.3,228.6h0M267.0,235.5h0M273.4,226.4h0M267.7,230.6h0M269.5,231.7h0M265.2,227.7h0M278.8,234.1h0M266.6,236.0h0M276.2,222.1h0M271.7,233.5h0M270.9,229.6h0M275.8,231.2h0M271.2,225.4h0M275.7,229.8h0M263.7,229.3h0M267.2,232.0h0M267.0,228.0h0M276.6,228.1h0M268.4,229.6h0M267.2,232.4h0M265.0,228.1h0M278.6,223.5h0M265.6,230.2h0M267.4,233.5h0M271.4,227.8h0M265.3,238.9h0M272.8,226.0h0M277.5,234.7h0M267.3,223.6h0M279.5,229.4h0M268.1,230.9h0M269.0,234.0h0M267.5,229.8h0" fill="none" stroke="#000" stroke-width="0.7" stroke-linecap="square" stroke-opacity="0.38"/>
<path d="M266.7,256.3h0M263.6,248.2h0M268.6,250.4h0M267.6,251.8h0M265.8,247.0h0M265.3,250.3h0M263.9,258.6h0M262.4,247.3h0M266.2,255.5h0M263.6,249.5h0M263.6,246.3h0M268.4,250.5h0M264.4,251.8h0M267.5,256.8h0M266.2,251.9h0M266.7,255.3h0M266.8,245.2h0M265.6,249.2h0M269.3,251.2h0M263.7,256.9h0M264.5,252.8h0M265.2,252.7h0M267.9,247.3h0M263.9,254.6h0M264.8,251.6h0M267.7,247.0h0M267.7,249.5h0M264.1,248.4h0M270.5,253.4h0M266.6,247.6h0M268.8,245.8h0M264.3,256.3h0M268.0,249.4h0M267.0,249.6h0M262.5,255.1h0M265.7,254.4h0M267.2,247.1h0M265.8,247.5h0M266.4,254.3h0M264.6,256.1h0M267.5,254.2h0M263.6,253.6h0M266.4,251.6h0M266.3,247.0h0M265.4,253.5h0M265.0,253.8h0M268.7,252.1h0M264.6,252.8h0M265.1,248.8h0M264.8,258.9h0M267.1,254.1h0M267.5,243.8h0M266.5,254.1h0M265.0,246.4h0M266.9,249.9h0M267.9,249.1h0M265.7,255.4h0M267.8,255.7h0M263.5,248.4h0M265.4,256.7h0M267.3,254.3h0M263.6,249.7h0M265.7,246.4h0M263.7,245.9h0M264.5,254.7h0M266.6,252.1h0M266.5,247.5h0M264.8,248.8h0M263.3,249.1h0M263.4,250.6h0M267.2,252.2h0M265.5,252.9h0M265.0,247.1h0M266.1,241.7h0M266.1,248.9h0M265.3,251.7h0M263.9,244.8h0M263.9,254.3h0M263.4,244.9h0M263.4,255.6h0M265.8,252.6h0M268.5,246.9h0M265.2,249.4h0M266.7,251.3h0M266.0,254.2h0M264.9,251.5h0M264.1,256.5h0M267.2,258.3h0M262.0,247.7h0M265.3,255.3h0M264.5,246.9h0M269.7,250.7h0M265.7,247.1h0M269.7,253.0h0M264.8,249.8h0M265.4,252.8h0M265.8,247.7h0M268.6,246.9h0M268.4,254.1h0M262.4,255.2h0M266.2,247.5h0M270.0,256.3h0M264.0,243.9h0M266.9,245.2h0M264.6,251.1h0M264.6,246.2h0M268.1,256.0h0M268.8,252.5h0M266.0,247.4h0M263.5,246.5h0M265.4,252.2h0M263.9,254.2h0M265.9,254.3h0M267.7,255.9h0M264.5,247.8h0M265.5,255.9h0M264.2,253.6h0M266.3,249.0h0M263.4,249.1h0M266.5,245.6h0M265.4,248.0h0M263.8,245.5h0M261.5,252.5h0M265.9,248.8h0M264.8,254.7h0M265.6,252.1h0M265.1,253.5h0M264.6,246.1h0M266.9,253.2h0M263.2,251.5h0M265.8,252.1h0M272.5,251.6h0M265.4,248.8h0M264.0,238.6h0M264.3,249.8h0M262.9,251.0h0M266.4,255.8h0M270.5,251.2h0M263.4,245.8h0M268.4,248.1h0M265.3,254.0h0M265.7,251.4h0M266.0,242.3h0M264.9,253.4h0M262.5,244.2h0M266.6,249.5h0M266.3,242.6h0M265.3,246.7h0M267.1,258.2h0M264.4,254.5h0M263.3,249.3h0M266.2,247.8h0M268.2,252.1h0M262.4,244.8h0M264.0,241.5h0M267.9,248.9h0M264.0,250.7h0M264.4,256.2h0M268.4,253.9h0M266.6,254.7h0M266.3,250.3h0M267.7,251.8h0M266.7,257.2h0M269.8,250.8h0M267.8,244.5h0M263.7,252.3h0M263.9,246.2h0M263.5,252.6h0M262.2,253.1h0M267.6,242.2h0M266.3,253.8h0M262.6,252.6h0M264.5,253.0h0M267.1,252.6h0M269.2,245.9h0M271.2,248.8h0M262.3,245.2h0M268.6,253.1h0M263.9,248.3h0M262.1,251.4h0M264.7,254.5h0M265.8,250.0h0M266.6,256.8h0M264.4,251.3h0M264.2,247.1h0M263.3,248.4h0M262.4,249.6h0M264.4,252.0h0M267.4,259.0h0M264.3,250.0h0M266.5,248.1h0M267.7,253.7h0M265.3,255.8h0M263.8,249.6h0M264.3,249.7h0M262.3,250.2h0M267.4,252.8h0M267.6,252.8h0M267.3,246.4h0M264.5,243.4h0M265.2,248.6h0M266.5,246.8h0M261.7,247.7h0M267.9,256.4h0M266.9,251.8h0M265.1,251.2h0M264.0,248.9h0M264.2,257.2h0M262.0,244.5h0M266.3,248.7h0M265.3,246.6h0M265.6,244.0h0M265.9,248.6h0M262.7,255.8h0M268.8,248.4h0M268.4,252.3h0M267.7,253.9h0M265.7,248.6h0M268.4,247.7h0M265.3,253.5h0M264.4,249.6h0M266.5,250.9h0M265.8,248.0h0M263.6,249.4h0M264.5,246.7h0M268.2,257.7h0M261.9,249.0h0M267.4,240.6h0M267.4,251.0h0M266.9,254.9h0M268.2,245.0h0M266.8,251.3h0M266.8,244.6h0M263.3,253.8h0M267.8,257.8h0M261.7,256.2h0M264.6,249.5h0M264.6,253.3h0M267.8,247.0h0M266.7,251.4h0M263.7,254.4h0M263.3,248.6h0M265.2,251.0h0M263.5,248.8h0M267.9,251.3h0M266.0,250.5h0M267.4,255.9h0M265.1,254.1h0M263.6,250.6h0M262.8,248.4h0M272.3,247.0h0M268.2,251.9h0M266.0,241.8h0M265.8,244.5h0M263.9,247.5h0M264.5,258.3h0M269.1,243.2h0M264.5,247.2h0M265.7,243.5h0M262.1,250.3h0M263.6,255.1h0M264.7,251.5h0M264.3,254.0h0M268.0,250.3h0M264.2,253.1h0M265.6,254.7h0M265.5,251.0h0M267.1,247.1h0M262.5,252.6h0M264.9,253.2h0M267.1,252.2h0M264.0,257.3h0M262.6,259.0h0M264.5,249.8h0M266.7,255.9h0M267.5,250.3h0M265.7,246.1h0M265.9,249.4h0M265.1,254.0h0M266.7,251.0h0M264.9,257.5h0M265.8,255.0h0M266.3,256.3h0M267.5,245.9h0M266.6,257.4h0M268.4,249.3h0M269.0,254.5h0M266.8,247.8h0M266.3,252.8h0M262.0,243.0h0M265.8,254.5h0M265.3,244.3h0M262.5,254.4h0M264.9,251.9h0M264.7,251.3h0M263.9,247.8h0M262.2,250.9h0M265.2,255.6h0M270.6,251.5h0M268.3,252.7h0M265.0,246.8h0M266.5,252.1h0M267.8,256.5h0M268.9,255.0h0M262.8,253.2h0M262.9,247.7h0M263.6,245.7h0M263.5,257.0h0M265.2,257.6h0M265.7,243.1h0M263.9,257.7h0M267.9,250.0h0M264.9,255.9h0M266.5,249.8h0M268.0,250.9h0M263.1,244.4h0M265.9,258.0h0M265.8,251.2h0M265.9,251.8h0M262.4,250.6h0M264.5,252.5h0M267.0,257.1h0M266.6,249.4h0M269.3,252.0h0M262.1,250.7h0M263.0,257.2h0M263.4,251.6h0M266.3,249.5h0M265.3,249.0h0M263.9,247.1h0M265.9,249.5h0M263.2,248.9h0M270.2,245.5h0M264.2,248.4h0M265.3,254.1h0M263.8,251.9h0M266.5,257.8h0M264.1,247.8h0M267.0,250.5h0M264.1,249.6h0M268.4,243.9h0M264.9,257.9h0M266.2,247.4h0M264.1,255.1h0M266.4,249.0h0M264.1,245.2h0M262.5,252.3h0M266.5,248.6h0M267.0,247.9h0M266.2,242.0h0M267.2,258.7h0M267.3,250.5h0M266.5,251.0h0M265.7,250.6h0M266.5,249.3h0M265.3,248.7h0M267.1,256.5h0M267.1,252.8h0M268.5,247.2h0M270.1,242.4h0M267.0,251.3h0M266.3,244.2h0M268.0,251.9h0M265.6,255.3h0M265.7,251.2h0M267.4,250.4h0M266.2,249.1h0M264.1,250.8h0M264.0,251.9h0M264.8,248.4h0M265.1,245.5h0M267.0,253.3h0M264.4,253.1h0M270.0,248.8h0M265.1,247.2h0M266.1,253.7h0M266.0,251.2h0M263.0,250.4h0M263.3,249.2h0M268.9,251.1h0M263.7,246.1h0M262.0,248.6h0M270.0,249.7h0M264.9,246.3h0M264.4,254.8h0M267.6,249.9h0M263.6,253.6h0M268.5,250.8h0M266.9,249.1h0M263.6,247.9h0M265.4,253.6h0M268.6,256.3h0M266.4,241.2h0M268.7,252.7h0M263.9,256.3h0M263.4,249.5h0M265.4,250.6h0M265.2,242.0h0M262.3,250.3h0M267.0,250.5h0M262.7,245.4h0M262.7,255.4h0M263.1,254.0h0M262.7,246.3h0M263.9,256.2h0M263.8,249.8h0M264.0,248.4h0M267.5,247.9h0M264.9,245.4h0M263.7,251.1h0M268.7,258.5h0M262.6,249.7h0M265.5,253.3h0M266.5,246.3h0M262.6,244.3h0M269.0,245.2h0M267.5,251.8h0M267.4,243.6h0M266.3,252.4h0M265.3,252.7h0M262.8,256.9h0M262.8,250.0h0M267.3,253.0h0M268.9,250.5h0M262.9,252.2h0M266.5,243.6h0M267.4,256.0h0M263.5,254.6h0M265.5,254.9h0M264.1,254.3h0M266.9,251.0h0M264.6,250.0h0M266.9,257.0h0M265.0,254.5h0M265.6,259.0h0M268.1,254.0h0M266.3,248.4h0M261.7,254.3h0M263.7,247.8h0M267.7,251.9h0M262.9,255.8h0M264.7,255.0h0M262.8,244.2h0M264.0,254.1h0M264.8,246.5h0M264.3,247.3h0M268.8,253.8h0M263.3,254.3h0M265.4,249.6h0M263.2,248.0h0M263.1,253.2h0M267.3,247.6h0M262.6,250.9h0M266.9,244.8h0M265.2,246.2h0M268.7,252.3h0M261.6,248.1h0M265.5,248.5h0M265.5,252.4h0M265.8,248.8h0M268.6,254.5h0M264.6,250.1h0M263.8,244.4h0M264.6,250.8h0M264.5,246.4h0M267.3,242.5h0M266.6,253.8h0M265.1,250.6h0M267.2,250.4h0M265.2,254.5h0M262.8,248.8h0M264.7,251.3h0M263.8,259.0h0M266.8,242.4h0M265.3,253.6h0M268.1,252.4h0M263.5,254.2h0M262.3,251.1h0M262.6,256.6h0M264.7,250.2h0M264.2,255.6h0M262.9,253.7h0M264.5,253.8h0M265.9,247.1h0M264.3,243.0h0M263.2,248.0h0M267.6,248.8h0M265.9,249.6h0M262.3,253.2h0M269.7,253.3h0M268.1,253.2h0M261.5,247.7h0M261.9,250.7h0M264.5,247.4h0M266.4,258.8h0M268.5,258.5h0M265.6,252.6h0M268.7,255.0h0M267.6,249.3h0M264.4,247.8h0M268.3,246.9h0M265.8,251.9h0M265.1,249.4h0M266.3,247.5h0M265.7,256.4h0M264.1,255.8h0M268.2,258.6h0M263.4,258.2h0M267.7,257.1h0M267.6,250.1h0M267.6,251.5h0M264.3,248.2h0M264.4,250.1h0M261.7,252.2h0M262.2,253.5h0M268.6,256.1h0M269.1,257.6h0M270.8,250.4h0M263.5,250.0h0M263.1,256.6h0M267.6,253.4h0M267.4,246.2h0M264.4,250.2h0M266.5,253.3h0M268.8,245.4h0M268.4,251.9h0M267.4,249.8h0M268.5,248.4h0M267.3,251.9h0M263.7,251.7h0M265.3,247.9h0M265.8,247.1h0M268.0,253.0h0M267.8,253.8h0M266.1,244.9h0M264.8,250.9h0M264.3,250.5h0M264.6,248.8h0M263.5,248.7h0M263.0,255.2h0M266.1,253.0h0M267.3,249.2h0M267.9,243.2h0M264.1,251.0h0M269.3,255.7h0M267.3,254.1h0M264.2,250.2h0M264.0,251.2h0M262.7,249.5h0M264.3,252.8h0M264.1,252.3h0M266.5,253.0h0M267.2,246.9h0M265.7,250.2h0M267.8,248.9h0M266.1,245.1h0M264.7,247.7h0M265.4,248.1h0M265.3,251.7h0M263.2,254.0h0M268.0,253.6h0M265.7,256.5h0M266.1,243.9h0M266.9,251.9h0M268.4,252.2h0M263.8,243.1h0M263.1,257.4h0M270.8,251.4h0M263.3,253.0h0M266.8,252.4h0M265.0,244.1h0M266.6,253.9h0M266.3,252.9h0M265.7,254.5h0M273.2,248.4h0M266.0,245.8h0M268.6,246.6h0M264.3,248.4h0M262.2,244.6h0M265.6,248.8h0M264.9,246.7h0M263.6,244.2h0M268.2,256.8h0M270.0,247.0h0M265.2,242.3h0M266.3,245.1h0M266.3,242.0h0M269.9,258.3h0M265.8,247.4h0M266.2,247.9h0M266.2,255.3h0M265.6,255.8h0M268.3,247.0h0M264.8,246.4h0M266.2,243.0h0M263.1,241.1h0M266.4,246.7h0M268.2,254.0h0M266.4,247.2h0M261.7,246.0h0M265.4,250.2h0M264.9,250.7h0M268.6,255.8h0M262.6,253.6h0M263.3,251.7h0M265.8,254.7h0M267.1,245.6h0M265.1,252.5h0M264.9,257.4h0M262.2,253.0h0M265.8,248.6h0M265.1,249.5h0M266.0,248.1h0M264.3,253.0h0M267.8,246.8h0M267.2,247.9h0M267.0,258.3h0M266.8,255.2h0M266.8,250.7h0M267.7,249.0h0M266.0,247.5h0M264.7,252.3h0M263.1,250.3h0M269.7,246.6h0M264.9,249.1h0M263.6,247.3h0M267.5,249.6h0M263.6,245.4h0M263.4,254.4h0M263.1,242.1h0M263.2,250.7h0M266.1,250.4h0M267.1,244.9h0M263.0,249.0h0M265.4,241.4h0M264.8,243.4h0M267.3,251.5h0M269.1,258.9h0M266.3,249.1h0M262.8,247.6h0M267.5,251.9h0M265.3,244.3h0M264.6,258.0h0M264.6,256.0h0M262.9,244.2h0M264.3,246.8h0M268.9,249.1h0M264.7,247.3h0M266.9,255.5h0M267.2,243.7h0M264.6,252.6h0M267.3,256.8h0M266.3,254.0h0M267.2,251.9h0M266.8,250.0h0M266.0,254.3h0M264.3,251.4h0M265.2,255.0h0M265.2,253.6h0M267.5,248.0h0M267.1,245.3h0M265.7,246.9h0M267.6,256.7h0M262.5,251.7h0M263.5,244.2h0M265.0,254.8h0M267.8,248.0h0M264.6,256.7h0M265.1,258.2h0M269.5,252.8h0M263.4,249.0h0M267.0,249.4h0M265.4,252.3h0M261.7,248.4h0M264.3,246.6h0M265.7,248.7h0M264.2,256.6h0M268.5,249.4h0M263.9,243.6h0M265.3,246.6h0M262.1,255.6h0M264.5,252.9h0M267.3,246.7h0M262.0,249.8h0M266.4,249.3h0M264.9,252.0h0M263.0,253.3h0M267.4,245.4h0M263.3,248.5h0M263.7,249.1h0M267.6,244.2h0M266.0,248.5h0M263.5,244.2h0M268.4,246.3h0M266.8,244.9h0M266.2,249.0h0M264.3,244.1h0M263.9,248.4h0M268.2,253.1h0M266.2,247.5h0M265.7,253.7h0M268.2,254.3h0M269.4,249.4h0M263.1,255.9h0M269.3,254.3h0M265.3,251.0h0M264.5,248.9h0M265.2,252.2h0M262.6,252.5h0M265.6,249.5h0M265.9,248.8h0M265.9,256.8h0M264.2,254.0h0M263.9,249.4h0M265.8,247.7h0M267.6,243.9h0M264.8,250.4h0M265.4,249.6h0M262.9,250.5h0M268.3,253.0h0M264.9,244.9h0M263.1,253.7h0M264.0,249.0h0M270.5,239.9h0M267.3,240.1h0M267.7,252.8h0M267.0,254.3h0M263.9,244.4h0M263.3,251.8h0M266.2,254.8h0M265.0,253.5h0M265.1,245.4h0M263.9,251.7h0M264.9,247.9h0M265.1,256.3h0M263.5,239.4h0M265.3,239.9h0M268.6,247.3h0M265.2,249.1h0M265.5,251.3h0M267.8,245.3h0M264.1,248.1h0M264.5,252.7h0M265.1,251.9h0M266.3,254.3h0M268.7,245.9h0M264.3,251.2h0M266.4,252.2h0M265.8,245.8h0M270.4,250.1h0M266.1,245.8h0M265.9,248.6h0M267.6,254.2h0M263.8,250.5h0M265.3,251.6h0M268.4,246.9h0M271.4,246.5h0M261.9,253.4h0M262.2,256.0h0M266.0,248.7h0M266.9,250.9h0M263.4,248.5h0M269.7,251.1h0M265.9,245.9h0M270.0,253.1h0M264.5,250.3h0M263.9,256.2h0M267.3,247.3h0M264.4,248.4h0M264.6,252.0h0M264.3,249.4h0M266.1,255.3h0M262.5,247.4h0M264.7,246.1h0M268.7,253.6h0M267.8,252.3h0M262.6,254.5h0M265.0,247.5h0M263.3,245.2h0M264.1,251.1h0M268.0,247.4h0M266.9,251.9h0M267.0,250.4h0M262.2,255.5h0M266.8,245.1h0M265.3,249.4h0M270.6,257.3h0M265.6,249.5h0M267.0,251.6h0M266.8,249.3h0M262.8,241.7h0M262.0,243.1h0M265.2,253.2h0M269.2,251.5h0M270.3,257.8h0M265.0,247.9h0M265.8,248.2h0M264.3,250.5h0M266.5,241.7h0M265.5,250.5h0M267.1,246.1h0M266.5,246.0h0M263.1,246.6h0M265.6,249.0h0M268.1,252.5h0M264.8,254.9h0M269.1,251.0h0M269.6,251.9h0M266.3,246.1h0M267.7,255.1h0M266.0,255.1h0M270.2,258.4h0M263.3,249.5h0M268.4,254.6h0M268.0,243.7h0M267.1,253.2h0M264.1,257.7h0M267.2,255.5h0M269.3,249.6h0M266.3,250.7h0M268.0,255.1h0M263.1,247.5h0M263.1,251.9h0M262.8,246.6h0M268.6,247.1h0M266.8,241.3h0M267.3,244.7h0M268.8,251.9h0M266.8,246.9h0M266.4,248.7h0M267.7,249.0h0M264.9,247.4h0M264.7,254.5h0M264.9,252.4h0M262.3,242.2h0M265.7,242.3h0M269.2,250.4h0M265.1,253.9h0M264.9,251.1h0M267.2,248.8h0M265.9,243.1h0M268.5,245.7h0M264.3,250.2h0M266.3,247.3h0M263.8,247.6h0M266.8,255.2h0M263.7,246.2h0M267.5,248.9h0M268.4,247.2h0M266.3,250.3h0" fill="none" stroke="#000" stroke-width="0.9" stroke-linecap="square" stroke-opacity="0.95"/>
<path d="M270.7,253.6h0M270.4,248.7h0M269.1,257.9h0M272.9,249.0h0M262.3,252.4h0M266.5,240.7h0M269.8,245.0h0M269.6,250.5h0M268.4,245.7h0M265.4,243.4h0M265.8,243.0h0M268.2,244.8h0M271.5,250.0h0M274.6,249.7h0M271.3,251.3h0M268.1,245.1h0M270.1,245.8h0M273.2,251.9h0M263.0,253.7h0M261.8,252.2h0M279.7,256.3h0M264.3,257.9h0M279.3,251.2h0M272.2,241.4h0M269.5,249.9h0M273.8,255.9h0M263.1,245.0h0M270.9,252.0h0M281.8,258.2h0M264.1,254.5h0M266.3,247.5h0M270.5,249.6h0M271.3,246.9h0M274.5,248.0h0M269.2,246.2h0M270.6,245.1h0M265.5,254.2h0M272.7,251.9h0M270.9,244.9h0M263.2,255.5h0M270.2,252.7h0M270.7,254.5h0M264.7,255.1h0M277.0,251.7h0M271.6,245.7h0M275.2,250.3h0M274.0,253.2h0M269.1,246.8h0M274.1,253.4h0M271.4,252.7h0M267.2,250.2h0M274.2,251.3h0M267.8,248.5h0M271.2,258.1h0M279.7,246.6h0M279.3,257.6h0M265.9,248.5h0M274.6,258.8h0M270.2,251.4h0M261.5,251.3h0M274.8,251.9h0M268.2,252.6h0M267.1,244.7h0M266.4,249.6h0M277.2,249.7h0M268.5,249.1h0M266.0,248.2h0M262.6,249.2h0M268.0,246.7h0M273.8,236.7h0M269.1,238.3h0M262.1,257.9h0M271.2,252.8h0M272.8,251.1h0M275.1,250.5h0M271.8,251.9h0M269.6,241.9h0M274.6,247.1h0M269.3,248.4h0M273.3,247.9h0M263.5,250.1h0M275.4,247.1h0M276.9,248.8h0M266.1,250.2h0M274.1,248.0h0M265.7,252.0h0M269.1,248.1h0M267.5,251.5h0M269.7,249.1h0M266.5,246.5h0M263.3,251.2h0M269.0,246.3h0M269.8,252.0h0M272.5,248.4h0M273.8,254.2h0M273.2,250.6h0M273.1,255.5h0M264.6,250.8h0M275.5,243.9h0M278.0,238.6h0M268.3,250.2h0M271.8,247.9h0M273.9,249.7h0M273.4,245.0h0M272.3,241.7h0M267.1,249.0h0M270.0,257.2h0M261.7,244.1h0M280.4,240.8h0M270.4,251.2h0M275.1,244.9h0M273.0,256.8h0M269.5,253.2h0M265.4,254.2h0M268.8,247.2h0M269.3,241.5h0M262.0,250.6h0M269.9,248.4h0M261.9,250.5h0M267.8,241.5h0M270.5,245.3h0M271.1,254.6h0M280.5,246.4h0M270.6,258.1h0M264.8,255.4h0M270.0,246.3h0M270.3,252.9h0M269.5,250.6h0M273.2,253.4h0M267.8,250.2h0M265.4,246.8h0M268.1,243.5h0M272.4,254.8h0M277.4,250.1h0M272.3,253.7h0M278.3,247.0h0M273.5,242.4h0M264.3,242.7h0M273.0,248.4h0M270.1,244.5h0M261.5,242.8h0M274.6,244.0h0M270.0,250.1h0M261.5,247.3h0M269.4,251.3h0M272.9,249.3h0M269.5,248.7h0M270.2,253.5h0M266.0,233.4h0M272.2,249.5h0M282.3,243.4h0M272.5,253.2h0M265.2,248.5h0M264.5,252.3h0M269.6,251.0h0M272.4,250.8h0M275.8,253.4h0M268.3,245.1h0M271.9,240.6h0M266.4,254.5h0M268.1,248.5h0M274.2,256.1h0M263.5,254.9h0M270.9,258.9h0M270.4,246.9h0M266.8,247.3h0M267.2,239.6h0M270.6,245.3h0M276.1,253.7h0M267.1,248.0h0M272.1,256.0h0M275.4,254.1h0M269.9,253.4h0M264.0,252.3h0M269.5,247.8h0M269.1,245.3h0M267.8,256.8h0M267.1,242.1h0M272.5,247.0h0M266.8,256.7h0M269.5,252.4h0M271.0,258.5h0M273.5,241.4h0M278.6,246.7h0M268.0,253.6h0M269.4,247.3h0M267.9,247.7h0M275.6,251.2h0M273.8,244.9h0M270.5,251.8h0M263.4,248.9h0M264.3,255.8h0M271.2,250.5h0M265.1,253.3h0M269.5,257.3h0M270.5,253.9h0M261.6,250.4h0M270.3,243.9h0M276.3,246.1h0M274.2,252.9h0M266.9,245.8h0M283.9,252.8h0M272.0,247.6h0M262.6,250.8h0M269.1,251.1h0M269.7,239.7h0M267.6,250.1h0M267.9,250.7h0M271.3,248.8h0M267.6,258.3h0M271.3,251.1h0M272.5,250.6h0M271.2,252.1h0M270.2,243.4h0M268.3,251.6h0M272.7,252.0h0M269.0,237.6h0M274.5,245.7h0M276.5,247.1h0M268.3,255.1h0M267.9,240.4h0M272.0,251.8h0M272.1,248.5h0M271.5,244.6h0M269.7,253.4h0M275.8,257.9h0M268.3,252.2h0M269.5,244.1h0M271.7,254.5h0M274.2,239.3h0M269.0,248.8h0M270.3,241.7h0M280.0,241.2h0M265.0,258.6h0M271.4,245.2h0M266.3,253.2h0M266.6,253.5h0M272.5,251.7h0M274.2,246.1h0M262.5,240.5h0M269.8,245.1h0M277.9,244.4h0M278.1,248.7h0M270.0,239.1h0M269.5,257.2h0M262.4,256.3h0M274.0,254.3h0M264.7,257.9h0M264.0,257.9h0M275.8,239.9h0M269.4,240.9h0M268.7,247.8h0M274.2,244.1h0M265.1,250.6h0M271.5,239.8h0M272.1,246.4h0M267.6,252.7h0M273.4,252.1h0M278.8,250.8h0M270.0,251.3h0M277.5,252.9h0M271.5,255.0h0M262.0,254.9h0M274.0,247.8h0M262.2,240.6h0M269.2,244.4h0M274.4,244.1h0M275.1,253.7h0M272.7,243.3h0M264.3,249.7h0M275.3,243.6h0M271.0,254.2h0M268.8,246.5h0M270.9,248.4h0M265.0,246.0h0M268.6,243.5h0M275.0,252.8h0M273.6,240.4h0M267.4,252.2h0M269.4,239.3h0M275.2,248.9h0M263.7,255.1h0M272.8,247.6h0M268.2,253.8h0M269.3,245.7h0M263.8,247.3h0M268.3,246.5h0M292.2,242.5h0M273.0,245.3h0M272.8,247.5h0M275.8,250.1h0M278.7,242.2h0M275.6,247.3h0M275.7,246.3h0M274.2,255.3h0M271.5,243.7h0M266.4,246.6h0M268.8,254.8h0M263.9,248.7h0M270.1,249.5h0M265.2,256.5h0M269.6,245.1h0M269.5,255.8h0M272.9,255.8h0M272.6,247.1h0M262.5,244.7h0M269.6,240.5h0M268.7,244.9h0M275.9,238.5h0M281.5,253.5h0M267.6,250.0h0M278.1,253.3h0M268.4,246.4h0M262.5,251.1h0M274.4,249.1h0M270.1,245.1h0M270.6,252.3h0M263.6,253.3h0M268.7,252.3h0M270.1,251.4h0M271.3,253.7h0M266.4,249.1h0M264.1,249.9h0M275.6,248.1h0M275.2,247.1h0M271.9,256.1h0M271.6,251.8h0M276.9,253.0h0M274.8,248.0h0M266.3,253.8h0M264.9,255.9h0M267.3,251.2h0M274.1,243.8h0M279.8,249.6h0M269.0,244.1h0M261.7,240.2h0M265.2,252.6h0M267.7,255.8h0M265.3,241.5h0M272.4,248.2h0M262.9,257.2h0M271.4,242.1h0M267.6,244.7h0M275.9,246.8h0M267.0,251.2h0M278.0,257.0h0M270.1,248.0h0M267.0,254.8h0M264.7,249.3h0M273.5,246.1h0M265.9,244.4h0M267.1,253.9h0M262.6,243.1h0M269.3,254.5h0M265.9,252.6h0M275.2,245.6h0M268.9,254.1h0M271.0,246.2h0M269.3,248.1h0M270.3,251.0h0M270.7,246.3h0M269.9,251.1h0M268.9,258.1h0M267.5,237.3h0M275.9,246.9h0M271.7,248.1h0M274.6,246.5h0M272.7,257.7h0M272.9,245.0h0M278.5,255.3h0M269.8,241.8h0M271.1,249.0h0M272.2,250.2h0M277.8,250.4h0M267.9,247.2h0M271.4,252.1h0M263.7,244.0h0M274.5,248.2h0M275.2,248.4h0M266.6,251.8h0M277.8,248.9h0M271.2,252.3h0M272.5,253.4h0M269.5,247.3h0M262.0,247.6h0M275.1,250.4h0M271.4,242.2h0M265.9,246.2h0M277.0,239.7h0M267.0,248.0h0M272.0,254.0h0M269.5,248.7h0M272.6,240.0h0M269.1,249.1h0M271.3,243.7h0M266.4,242.9h0M269.0,243.6h0M282.2,245.8h0M276.2,245.9h0M267.6,254.1h0M272.1,239.8h0M276.6,234.0h0M267.9,244.7h0M269.9,244.9h0M267.3,247.1h0M273.4,244.2h0M280.1,255.5h0M269.8,246.1h0M270.1,242.0h0M275.4,245.2h0M277.4,254.1h0M273.0,251.8h0M277.6,256.5h0M261.9,252.3h0M269.3,258.1h0M268.3,247.2h0M271.4,257.0h0M268.8,254.4h0M280.6,242.8h0M275.2,249.1h0M270.0,243.1h0M273.1,245.0h0M275.3,247.3h0M276.0,255.4h0M274.5,255.7h0M284.3,254.6h0M261.4,246.9h0M274.7,254.9h0M266.9,252.1h0M270.2,247.9h0M267.5,249.5h0M276.2,239.8h0M275.4,250.5h0M261.5,250.9h0M269.1,244.2h0M272.7,247.7h0M275.9,256.8h0M272.1,251.6h0M265.0,249.2h0M270.6,241.5h0M267.5,250.0h0M277.7,244.0h0M266.1,240.9h0M270.3,255.3h0M275.6,236.6h0M272.4,247.7h0M267.0,242.8h0M267.1,251.0h0M273.5,253.9h0M265.6,249.4h0M265.2,254.3h0M270.2,241.9h0M275.4,258.9h0M272.5,248.8h0M264.8,253.8h0M269.2,250.4h0M270.4,251.9h0M268.1,256.7h0M267.7,244.4h0M276.7,246.7h0M267.3,244.6h0M266.2,246.3h0M273.5,248.4h0M271.5,248.8h0M276.3,249.6h0M271.4,255.5h0M277.0,256.3h0M265.8,241.9h0M284.2,241.6h0M266.1,241.4h0M271.3,249.2h0M267.1,255.8h0M275.1,249.5h0M275.4,245.0h0M270.1,248.4h0M270.6,252.5h0M270.9,247.0h0M273.4,247.4h0M274.3,244.7h0M263.0,254.0h0M278.6,253.4h0M272.2,248.9h0M269.6,244.8h0M272.6,253.4h0M262.9,237.6h0M286.2,248.5h0M264.3,243.6h0M274.1,256.7h0M265.0,247.5h0M272.9,246.7h0M271.6,251.7h0M273.8,255.1h0M270.6,246.1h0M262.9,249.0h0M264.7,247.1h0M268.8,248.9h0M274.8,251.2h0M270.4,258.4h0M269.8,251.6h0M264.6,249.9h0M265.1,257.2h0M271.0,257.2h0M272.6,244.0h0M267.1,247.1h0M271.6,250.1h0M268.6,251.2h0M266.4,244.5h0M267.4,255.3h0M273.3,247.6h0M272.2,253.1h0M268.2,243.6h0M270.5,250.6h0M276.9,256.6h0M267.9,246.6h0M268.4,247.8h0M265.0,249.0h0M276.5,254.6h0M268.4,242.7h0M273.5,256.3h0M262.7,252.5h0M279.1,255.6h0M273.4,249.3h0M266.9,251.4h0M276.4,253.6h0M274.4,249.0h0M268.9,257.3h0M270.6,254.7h0M267.6,243.8h0M270.8,250.9h0M271.8,248.0h0M263.7,249.1h0M272.3,256.9h0M272.0,243.5h0M273.4,254.1h0M275.2,255.2h0M267.5,242.3h0M271.2,248.9h0M267.7,239.5h0M273.2,252.3h0M276.2,251.6h0M268.9,244.2h0M268.0,244.2h0M268.7,244.9h0M275.2,248.4h0M272.0,249.2h0M268.1,238.3h0M267.7,246.8h0M275.4,242.9h0M273.5,252.7h0M269.5,248.8h0M274.4,250.5h0M282.0,236.1h0M272.0,238.4h0M261.9,238.7h0M266.5,247.7h0M263.7,248.4h0M267.0,253.7h0M262.8,248.7h0M270.4,253.5h0M263.5,249.1h0M263.0,253.1h0M272.2,255.4h0M268.2,258.5h0M267.1,240.0h0M265.8,248.7h0M275.2,246.2h0M266.6,252.4h0M263.0,254.2h0M272.2,243.4h0M269.2,245.4h0M265.0,250.7h0M268.0,254.0h0M269.9,240.2h0M270.7,253.0h0M271.3,241.3h0M266.4,242.2h0M268.2,245.1h0M274.2,251.1h0M282.7,252.0h0M262.0,247.9h0M278.9,247.1h0M270.3,254.1h0M276.9,255.4h0M269.2,242.8h0M266.9,252.4h0M261.5,249.9h0M277.7,242.6h0M273.4,244.8h0M265.7,251.4h0M272.9,248.6h0M272.0,252.9h0M278.7,244.1h0M264.7,258.5h0M273.9,245.5h0M272.8,258.0h0M267.8,251.1h0M274.3,245.8h0M264.1,253.6h0M269.6,250.3h0M265.8,252.6h0" fill="none" stroke="#000" stroke-width="0.75" stroke-linecap="square" stroke-opacity="0.55"/>
<ellipse cx="268.9" cy="209.8" rx="11.9" ry="13.8" fill="none" stroke="#000" stroke-width="1.5"/>
<ellipse cx="268" cy="247.6" rx="12.9" ry="12.5" fill="none" stroke="#000" stroke-width="1.5"/>
<line x1="260.5" y1="259.6" x2="260.5" y2="261.1" stroke="#777" stroke-width="0.6"/>
<text x="260.5" y="264.3" font-family="Liberation Serif, serif" font-size="3" text-anchor="middle" fill="#444">0</text>
<line x1="273.6" y1="259.6" x2="273.6" y2="261.1" stroke="#777" stroke-width="0.6"/>
<text x="273.6" y="264.3" font-family="Liberation Serif, serif" font-size="3" text-anchor="middle" fill="#444">200</text>
<line x1="287" y1="259.6" x2="287" y2="261.1" stroke="#777" stroke-width="0.6"/>
<text x="287" y="264.3" font-family="Liberation Serif, serif" font-size="3" text-anchor="middle" fill="#444">400</text>
<line x1="300.2" y1="259.6" x2="300.2" y2="261.1" stroke="#777" stroke-width="0.6"/>
<text x="300.2" y="264.3" font-family="Liberation Serif, serif" font-size="3" text-anchor="middle" fill="#444">600</text>
<line x1="313.3" y1="259.6" x2="313.3" y2="261.1" stroke="#777" stroke-width="0.6"/>
<text x="313.3" y="264.3" font-family="Liberation Serif, serif" font-size="3" text-anchor="middle" fill="#444">800</text>
<line x1="325.5" y1="259.6" x2="325.5" y2="261.1" stroke="#777" stroke-width="0.6"/>
<text x="325.5" y="264.3" font-family="Liberation Serif, serif" font-size="3" text-anchor="middle" fill="#444">1000</text>
<line x1="259" y1="258.8" x2="260.5" y2="258.8" stroke="#777" stroke-width="0.6"/>
<text x="258.5" y="259.4" font-family="Liberation Serif, serif" font-size="2.8" text-anchor="end" fill="#444">10</text>
<line x1="259" y1="242" x2="260.5" y2="242" stroke="#777" stroke-width="0.6"/>
<text x="258.5" y="242.6" font-family="Liberation Serif, serif" font-size="2.8" text-anchor="end" fill="#444">10</text>
<line x1="259" y1="225.5" x2="260.5" y2="225.5" stroke="#777" stroke-width="0.6"/>
<text x="258.5" y="226.1" font-family="Liberation Serif, serif" font-size="2.8" text-anchor="end" fill="#444">10</text>
<line x1="259" y1="209" x2="260.5" y2="209" stroke="#777" stroke-width="0.6"/>
<text x="258.5" y="209.6" font-family="Liberation Serif, serif" font-size="2.8" text-anchor="end" fill="#444">10</text>
<line x1="259" y1="193.5" x2="260.5" y2="193.5" stroke="#777" stroke-width="0.6"/>
<text x="258.5" y="194.1" font-family="Liberation Serif, serif" font-size="2.8" text-anchor="end" fill="#444">10</text>
<text x="247.9" y="223" font-family="Liberation Serif, serif" font-size="11" font-weight="bold" text-anchor="middle" fill="#000" transform="rotate(-90 247.9 223)">CD138</text>
<text x="340.3" y="222.5" font-family="Liberation Serif, serif" font-size="11" font-weight="bold" text-anchor="middle" fill="#000" transform="rotate(-90 340.3 222.5)">CD138</text>
<text x="299.3" y="278.8" font-family="Liberation Serif, serif" font-size="11" font-weight="bold" text-anchor="middle" fill="#000">SSC-H</text>
<line x1="285.8" y1="205" x2="328.82" y2="192.92" stroke="#000" stroke-width="0.9"/>
<polygon points="334.6,191.3 329.47,195.23 328.17,190.61" fill="#000"/>
<line x1="287" y1="250" x2="328.49" y2="257.27" stroke="#000" stroke-width="0.9"/>
<polygon points="334.4,258.3 328.08,259.63 328.9,254.9" fill="#000"/>
<text x="295.8" y="213.1" font-family="Liberation Serif, serif" font-size="7.2" font-weight="bold" text-anchor="start" fill="#000" stroke="#000" stroke-width="0.2">CD138+</text>
<text x="295.8" y="221.1" font-family="Liberation Serif, serif" font-size="7.2" font-weight="bold" text-anchor="start" fill="#000" stroke="#000" stroke-width="0.2">cells</text>
<text x="295.8" y="241" font-family="Liberation Serif, serif" font-size="7.2" font-weight="bold" text-anchor="start" fill="#000" stroke="#000" stroke-width="0.2">CD138-</text>
<text x="295.8" y="249.5" font-family="Liberation Serif, serif" font-size="7.2" font-weight="bold" text-anchor="start" fill="#000" stroke="#000" stroke-width="0.2">cells</text>
<text x="384.6" y="168.3" font-family="Liberation Serif, serif" font-size="9.1" font-weight="bold" text-anchor="middle" fill="#000">control</text>
<text x="447.8" y="168.3" font-family="Liberation Serif, serif" font-size="8.9" font-weight="bold" text-anchor="middle" fill="#000">K27 5 µM</text>
<line x1="351" y1="278.8" x2="351" y2="178.8" stroke="#111" stroke-width="1.2"/>
<polygon points="351,174 353.5,178.8 348.5,178.8" fill="#111"/>
<line x1="358.8" y1="283.8" x2="483.2" y2="283.8" stroke="#111" stroke-width="1.2"/>
<polygon points="488.4,283.8 483.2,286.3 483.2,281.3" fill="#111"/>
<text x="427.2" y="294" font-family="Liberation Serif, serif" font-size="10.5" font-weight="bold" text-anchor="middle" fill="#000">AV-FITC</text>
<path d="M380.3,189.8h0M378.8,188.3h0M377.6,187.8h0M378.8,189.9h0M377.6,187.8h0M378.3,190.6h0M380.9,187.1h0M378.9,191.6h0M377.3,189.1h0M380.1,190.0h0M377.2,188.0h0M377.8,189.6h0M379.0,190.9h0M377.3,190.4h0M379.3,189.2h0M379.9,189.6h0M379.4,188.8h0M377.2,188.9h0M381.6,190.3h0M379.1,188.5h0M379.0,188.0h0M379.2,189.6h0M377.8,190.4h0M376.6,187.8h0M379.8,188.1h0M376.3,191.4h0M379.7,190.4h0M378.7,188.0h0M379.4,189.6h0M377.5,189.9h0M379.4,189.7h0M380.0,190.4h0M376.8,190.4h0M378.0,191.9h0M373.9,189.2h0M379.6,191.2h0M377.0,189.7h0M379.4,188.9h0M379.8,188.7h0M377.4,191.4h0M377.4,189.2h0M382.3,191.5h0M378.1,190.2h0M377.5,188.1h0M377.9,190.8h0M379.5,188.5h0M374.9,191.5h0M377.5,190.8h0M380.0,191.5h0M377.7,188.2h0M377.6,190.3h0M379.1,188.0h0M379.5,188.4h0M378.6,189.3h0M379.5,193.4h0M377.6,187.6h0M376.7,189.7h0M379.0,190.5h0M377.0,187.8h0M378.5,191.8h0M380.2,191.2h0M379.6,191.2h0M377.8,191.4h0M380.0,190.9h0M378.0,189.1h0M377.7,191.8h0M376.4,189.1h0M379.1,187.7h0M379.0,191.2h0M379.7,188.0h0M378.7,188.2h0M374.4,190.9h0M379.7,187.7h0M380.5,190.9h0M382.5,190.4h0M381.4,189.2h0M378.3,192.5h0M380.1,192.2h0M378.3,189.6h0M380.1,188.6h0M379.9,187.6h0M375.3,189.0h0M379.7,192.7h0M378.4,189.9h0M378.3,190.1h0M380.8,190.6h0M379.4,190.3h0M378.3,190.8h0M381.9,188.1h0M382.2,186.3h0M375.8,190.6h0M377.9,193.0h0M379.7,187.4h0M378.8,190.3h0M380.6,188.8h0M376.1,187.7h0M380.3,191.5h0M375.7,190.2h0M377.6,189.9h0M380.0,189.3h0M378.5,186.8h0M378.7,192.0h0M377.7,190.3h0M379.5,193.3h0M377.3,191.0h0M378.3,189.6h0M378.7,187.2h0M379.8,188.7h0M379.0,191.0h0M378.4,187.5h0M376.9,190.7h0M380.8,192.4h0M376.7,190.0h0M378.9,188.7h0M378.4,188.3h0M378.9,189.0h0M378.3,191.8h0M377.0,189.8h0M377.6,189.2h0M378.6,189.7h0M379.0,188.6h0M379.7,188.0h0M376.7,188.4h0M380.7,191.5h0M377.8,192.5h0M379.2,187.5h0M379.4,188.2h0M376.7,186.4h0M378.9,190.3h0M376.9,190.6h0M379.4,190.5h0M379.8,188.5h0M379.3,190.4h0M377.7,189.2h0M376.6,189.9h0M376.8,190.3h0M378.8,189.4h0M379.7,189.2h0M381.5,190.3h0M376.7,188.9h0M379.2,192.2h0M377.7,191.9h0M379.0,191.6h0M377.7,188.5h0M378.0,189.7h0M377.0,187.8h0M379.9,191.2h0M378.6,189.0h0M380.5,187.1h0M379.9,190.0h0" fill="none" stroke="#000" stroke-width="0.7" stroke-linecap="square" stroke-opacity="0.75"/>
<path d="M381.4,191.8h0M382.8,192.5h0M378.6,193.3h0M374.7,191.3h0M380.3,185.6h0M380.9,192.0h0M382.4,190.7h0M383.7,193.7h0M381.3,180.2h0M378.9,191.4h0M378.8,187.3h0M382.5,189.2h0M378.0,191.7h0M383.4,189.3h0M374.5,191.8h0M379.6,184.6h0M376.0,190.9h0M371.3,194.3h0M373.5,193.1h0M374.3,189.2h0M375.8,189.5h0M370.8,188.3h0M382.2,192.0h0M387.2,184.5h0M384.5,190.9h0M373.2,186.0h0M376.5,190.9h0M376.6,195.4h0M378.3,188.4h0M374.8,186.9h0M378.2,190.0h0M375.2,191.6h0M375.5,188.9h0M383.0,194.0h0M376.9,196.1h0M376.8,194.3h0M379.4,189.1h0M378.5,189.4h0M379.5,190.3h0M378.0,187.5h0M380.5,193.4h0M374.3,190.5h0M382.3,193.3h0M375.2,198.5h0M375.3,192.8h0M380.2,198.9h0M376.0,194.7h0M380.7,187.8h0M378.8,188.0h0M379.6,191.1h0M370.5,192.6h0M380.0,193.8h0M378.9,188.0h0M381.6,193.7h0M369.8,194.0h0M381.1,189.1h0M374.6,189.3h0M383.1,191.3h0M381.7,189.2h0M373.0,188.0h0M387.4,193.4h0M381.4,192.3h0M378.5,189.9h0M377.1,191.7h0M377.9,190.6h0M380.4,192.4h0M380.2,191.2h0M380.4,194.2h0M383.7,195.1h0M375.9,191.8h0M379.1,196.7h0M385.3,192.1h0M386.9,195.0h0M373.9,192.9h0M379.9,189.4h0M384.6,192.5h0M372.9,187.9h0M377.8,194.2h0M380.4,193.7h0M377.5,194.7h0M377.6,193.0h0M377.5,189.5h0M380.2,187.0h0M378.9,192.1h0M373.7,190.3h0M377.9,187.5h0M371.1,194.1h0M376.9,199.5h0M388.6,184.5h0M381.7,189.7h0M380.9,186.5h0M382.8,201.2h0M374.1,185.9h0M377.1,190.1h0M380.4,189.0h0M378.3,195.0h0M380.3,193.9h0M378.2,189.1h0M377.6,189.3h0M372.6,191.3h0M378.2,189.7h0M382.5,198.1h0M375.2,192.7h0M374.1,194.1h0M378.3,185.9h0M374.2,192.9h0M376.0,190.4h0M389.0,188.0h0M380.9,180.7h0M370.8,191.9h0M379.1,195.8h0M376.5,183.2h0M383.0,184.9h0M377.8,196.1h0M375.1,191.0h0M373.6,194.8h0M383.1,185.4h0M377.4,188.8h0M381.7,194.0h0M379.5,193.4h0M380.6,191.7h0M378.0,188.3h0M380.8,188.2h0M380.7,188.3h0M378.2,193.7h0M383.1,190.8h0M378.2,190.9h0M381.3,188.2h0M389.3,190.6h0M379.1,193.0h0M380.6,190.8h0M377.3,186.5h0M375.5,190.5h0M376.1,198.8h0M369.8,197.5h0M380.3,189.5h0M379.2,190.0h0M376.8,184.9h0M376.9,186.7h0M379.6,188.8h0M375.5,189.9h0M376.4,191.8h0M377.2,186.5h0M379.7,186.1h0M370.9,186.3h0M380.7,186.7h0M374.2,197.1h0M377.3,191.6h0M375.4,194.9h0M384.1,188.6h0M373.5,184.1h0M379.4,187.1h0M371.8,191.8h0M377.8,192.0h0M373.1,186.6h0M378.7,195.4h0M380.4,189.5h0M381.9,193.4h0M373.5,197.3h0M383.2,190.5h0M380.2,186.2h0M383.8,198.1h0M379.4,191.7h0M377.9,190.7h0M374.4,190.9h0M382.8,189.6h0M382.9,186.0h0M376.0,189.3h0M377.0,194.1h0M373.9,193.4h0M374.9,190.5h0M367.6,183.9h0M379.8,193.3h0M380.5,190.7h0M382.8,191.7h0M382.0,186.3h0M386.5,189.3h0M373.9,188.4h0M382.8,190.8h0M378.2,195.0h0M383.5,192.1h0M375.2,193.2h0M377.0,191.4h0M377.8,184.8h0M377.0,189.6h0M371.7,186.8h0M385.7,190.1h0M386.9,192.4h0M376.9,188.3h0M385.5,187.7h0M381.2,189.1h0M375.0,189.1h0M376.6,195.7h0M375.8,188.6h0M369.4,188.6h0M370.2,187.7h0M366.7,186.5h0M383.2,191.2h0M372.2,188.9h0M384.4,189.7h0M372.7,191.2h0M372.2,189.5h0M379.3,190.4h0M375.0,196.5h0M385.6,192.6h0M384.6,191.4h0M379.6,188.3h0M376.4,192.1h0M377.2,186.8h0M375.7,188.8h0M369.7,186.4h0M380.5,182.8h0M378.7,194.4h0M375.7,192.5h0M379.5,188.7h0M371.9,188.6h0M379.4,190.3h0M378.0,194.2h0M381.0,189.8h0M380.9,187.8h0M369.4,188.4h0M382.1,191.7h0M379.9,192.0h0M376.5,195.2h0M376.8,189.8h0M380.2,186.9h0M383.5,195.2h0M379.9,188.5h0M385.8,188.4h0M378.7,190.7h0M383.9,186.1h0M384.5,193.7h0M379.5,186.1h0M384.7,182.5h0M374.9,195.9h0M381.9,189.2h0M376.1,186.1h0M381.8,187.2h0M378.1,193.0h0M376.5,190.1h0M384.2,185.4h0M379.0,195.5h0M377.7,189.1h0M379.9,185.2h0M378.0,191.9h0M377.2,195.9h0M371.1,191.8h0M379.7,191.8h0M373.6,195.9h0M379.5,191.6h0M378.7,189.1h0M377.8,189.4h0M378.8,195.3h0M381.7,188.2h0M377.6,190.8h0M377.0,192.6h0M380.2,185.6h0M379.8,186.7h0M378.0,189.0h0M376.0,192.3h0M377.3,195.7h0M379.5,193.3h0M377.0,196.8h0M375.6,187.7h0M371.7,195.5h0M382.9,189.3h0M371.0,188.0h0M378.5,193.0h0M382.6,192.8h0M378.9,188.7h0M367.0,194.6h0M374.6,190.9h0M383.4,184.8h0M377.1,191.7h0M374.1,186.6h0M384.1,188.4h0M376.9,194.1h0M377.6,193.9h0M369.6,192.0h0M386.6,186.5h0M367.9,191.7h0M384.7,196.1h0M373.2,185.5h0M367.6,195.6h0M386.7,191.5h0M380.4,187.7h0M380.0,188.6h0M378.7,187.0h0M376.3,191.7h0M380.8,185.6h0M388.5,195.2h0M379.4,193.6h0M373.9,192.7h0M386.5,185.6h0M376.0,188.3h0M379.9,191.3h0M373.1,190.0h0M367.4,193.5h0M375.3,192.1h0M376.4,191.5h0M383.9,189.0h0M374.4,189.7h0M378.6,193.3h0M374.1,190.7h0M384.0,190.0h0M379.0,191.6h0M380.7,193.0h0M380.4,184.0h0M379.3,196.1h0M373.8,192.0h0M377.4,190.4h0M384.4,192.5h0M377.1,187.6h0M385.4,187.7h0M378.1,191.7h0M372.9,189.0h0M378.9,191.5h0M377.5,190.6h0M378.2,186.1h0M377.8,194.0h0M378.9,192.6h0M381.9,195.9h0M372.3,192.0h0M374.3,195.3h0M373.6,187.9h0M374.4,193.1h0M382.8,198.6h0M376.2,187.1h0M377.4,189.4h0M377.1,192.5h0M379.0,190.1h0M370.7,192.7h0M380.0,185.6h0M377.7,192.8h0M377.6,188.0h0M378.0,187.6h0M379.0,186.4h0M383.5,182.0h0M369.7,197.0h0M387.2,191.0h0M383.8,191.3h0M373.2,194.1h0M377.5,192.6h0M379.8,186.6h0M378.8,186.8h0M385.7,191.8h0M379.6,194.1h0M381.9,190.6h0M375.0,185.9h0M375.7,187.9h0M378.0,185.8h0M380.1,194.4h0M373.1,187.6h0M379.8,193.2h0M377.6,191.7h0M374.7,194.8h0M376.4,189.6h0M378.4,189.0h0M378.7,188.7h0M381.3,191.9h0M375.3,190.3h0M386.0,185.5h0M377.2,195.8h0M376.8,186.7h0M378.3,198.4h0M379.3,190.4h0M376.9,193.0h0M380.1,193.8h0M379.4,190.1h0M380.5,188.2h0M387.6,191.1h0M378.2,192.7h0M381.6,192.6h0M380.6,191.9h0M378.6,194.8h0M375.3,191.5h0M371.5,189.7h0M378.0,187.7h0M385.1,187.8h0M374.2,189.2h0" fill="none" stroke="#000" stroke-width="0.7" stroke-linecap="square" stroke-opacity="0.38"/>
<path d="M389.2,191.2h0M395.2,186.8h0M399.9,192.6h0M391.2,189.2h0M389.0,188.0h0M381.0,189.6h0M387.1,192.8h0M388.5,188.4h0M386.4,188.1h0M393.5,189.3h0M389.9,189.1h0M390.1,191.2h0M394.2,192.2h0M394.8,193.8h0M396.2,191.4h0M391.9,188.5h0M392.5,194.3h0M379.1,192.1h0M387.9,192.5h0M394.6,188.7h0M400.4,187.5h0M392.6,192.9h0M392.6,189.1h0M394.9,185.4h0M389.9,186.0h0M400.9,192.9h0M397.6,192.0h0M389.3,187.5h0M388.0,187.4h0M390.2,189.0h0M394.7,188.2h0M391.8,186.6h0M391.7,187.5h0M389.2,189.7h0M388.3,190.1h0M394.7,186.1h0M378.6,194.4h0M401.8,186.3h0M397.3,191.3h0M389.0,186.1h0M401.6,189.3h0M384.2,191.8h0M391.7,187.6h0M401.5,189.8h0M390.2,190.6h0M401.5,195.6h0M389.9,187.9h0M397.2,193.9h0M386.6,187.0h0M394.0,191.6h0M390.7,189.7h0M388.9,190.4h0M392.6,189.5h0M399.3,187.4h0M390.1,189.0h0M388.0,186.9h0M387.5,190.2h0M381.3,190.3h0M397.6,193.3h0M387.0,191.2h0M391.0,192.8h0M386.1,187.3h0M394.7,187.2h0M375.4,190.6h0M390.5,190.3h0M388.5,192.1h0M394.2,191.5h0M401.4,190.1h0M380.2,191.4h0M387.3,185.8h0" fill="none" stroke="#000" stroke-width="0.6" stroke-linecap="square" stroke-opacity="0.3"/>
<rect x="359.4" y="179.3" width="60.2" height="41.3" fill="none" stroke="#6a6a6a" stroke-width="0.8"/>
<line x1="386.3" y1="179.3" x2="386.3" y2="220.6" stroke="#444" stroke-width="0.8"/>
<line x1="359.4" y1="202.4" x2="419.6" y2="202.4" stroke="#444" stroke-width="0.8"/>
<line x1="359.4" y1="220.6" x2="359.4" y2="222.2" stroke="#555" stroke-width="0.6"/>
<text x="359.7" y="224.8" font-family="Liberation Serif, serif" font-size="3.4" text-anchor="middle" fill="#222" transform="rotate(-20 359.7 224.8)">10</text>
<line x1="357.8" y1="220.6" x2="359.4" y2="220.6" stroke="#555" stroke-width="0.6"/>
<text x="357.6" y="221.8" font-family="Liberation Serif, serif" font-size="3.4" text-anchor="end" fill="#222" transform="rotate(-20 357.6 221.8)">10</text>
<line x1="374.45" y1="220.6" x2="374.45" y2="222.2" stroke="#555" stroke-width="0.6"/>
<text x="374.75" y="224.8" font-family="Liberation Serif, serif" font-size="3.4" text-anchor="middle" fill="#222" transform="rotate(-20 374.75 224.8)">10</text>
<line x1="357.8" y1="210.28" x2="359.4" y2="210.28" stroke="#555" stroke-width="0.6"/>
<text x="357.6" y="211.47" font-family="Liberation Serif, serif" font-size="3.4" text-anchor="end" fill="#222" transform="rotate(-20 357.6 211.47)">10</text>
<line x1="389.5" y1="220.6" x2="389.5" y2="222.2" stroke="#555" stroke-width="0.6"/>
<text x="389.8" y="224.8" font-family="Liberation Serif, serif" font-size="3.4" text-anchor="middle" fill="#222" transform="rotate(-20 389.8 224.8)">10</text>
<line x1="357.8" y1="199.95" x2="359.4" y2="199.95" stroke="#555" stroke-width="0.6"/>
<text x="357.6" y="201.15" font-family="Liberation Serif, serif" font-size="3.4" text-anchor="end" fill="#222" transform="rotate(-20 357.6 201.15)">10</text>
<line x1="404.55" y1="220.6" x2="404.55" y2="222.2" stroke="#555" stroke-width="0.6"/>
<text x="404.85" y="224.8" font-family="Liberation Serif, serif" font-size="3.4" text-anchor="middle" fill="#222" transform="rotate(-20 404.85 224.8)">10</text>
<line x1="357.8" y1="189.62" x2="359.4" y2="189.62" stroke="#555" stroke-width="0.6"/>
<text x="357.6" y="190.82" font-family="Liberation Serif, serif" font-size="3.4" text-anchor="end" fill="#222" transform="rotate(-20 357.6 190.82)">10</text>
<line x1="419.6" y1="220.6" x2="419.6" y2="222.2" stroke="#555" stroke-width="0.6"/>
<text x="419.9" y="224.8" font-family="Liberation Serif, serif" font-size="3.4" text-anchor="middle" fill="#222" transform="rotate(-20 419.9 224.8)">10</text>
<line x1="357.8" y1="179.3" x2="359.4" y2="179.3" stroke="#555" stroke-width="0.6"/>
<text x="357.6" y="180.5" font-family="Liberation Serif, serif" font-size="3.4" text-anchor="end" fill="#222" transform="rotate(-20 357.6 180.5)">10</text>
<text x="388" y="227.2" font-family="Liberation Serif, serif" font-size="3" text-anchor="middle" fill="#333">FL1-H</text>
<text x="354.8" y="204.45" font-family="Liberation Serif, serif" font-size="3" text-anchor="middle" fill="#333" transform="rotate(-90 354.8 204.45)">FL2-H</text>
<text x="396.9" y="188.4" font-family="Liberation Serif, serif" font-size="6.5" font-weight="bold" text-anchor="start" fill="#000" stroke="#000" stroke-width="0.15">12%</text>
<path d="M450.3,189.3h0M450.1,189.7h0M447.6,190.1h0M450.5,189.8h0M448.1,193.9h0M452.2,186.0h0M451.3,191.8h0M452.9,192.8h0M450.2,188.2h0M450.7,188.7h0M445.9,189.3h0M448.4,188.7h0M448.2,189.8h0M450.4,188.5h0M451.8,192.4h0M448.3,191.9h0M448.4,190.3h0M448.5,192.2h0M446.4,194.6h0M450.6,191.1h0M449.9,189.1h0M447.6,191.8h0M449.2,192.0h0M454.5,191.3h0M451.8,190.4h0M448.4,191.3h0M454.4,192.4h0M451.1,189.7h0M450.2,193.9h0M450.9,188.9h0M449.1,191.9h0M451.5,187.3h0M450.9,190.2h0M445.2,187.9h0M449.7,188.9h0M450.7,191.5h0M450.2,190.2h0M451.4,188.3h0M445.9,191.6h0M452.9,189.9h0M452.5,192.4h0M448.9,191.6h0M453.3,189.6h0M451.3,191.9h0M448.7,193.0h0M449.2,192.8h0M450.8,189.8h0M449.9,189.3h0M455.1,189.4h0M448.9,193.2h0M451.9,192.2h0M448.1,189.1h0M449.9,191.4h0M452.2,192.7h0M451.1,192.4h0M446.9,188.2h0M448.6,190.8h0M448.8,190.2h0M450.5,189.9h0M450.1,193.0h0M451.3,190.3h0M450.6,191.9h0M450.7,192.6h0M447.4,192.9h0M448.3,192.2h0M447.4,192.9h0M452.1,189.8h0M451.7,190.3h0M452.8,190.6h0M449.4,189.3h0M450.1,192.0h0M451.7,189.8h0M449.5,188.9h0M448.8,190.7h0M451.1,192.5h0M449.2,188.8h0M453.6,191.0h0M449.5,191.2h0M450.2,192.3h0M451.4,188.8h0M449.5,192.2h0M449.8,192.4h0M448.1,193.7h0M451.0,188.1h0M452.5,189.1h0M450.7,191.3h0M451.1,192.2h0M446.4,190.3h0M448.3,189.9h0M450.5,196.3h0M450.3,189.2h0M456.0,192.5h0M450.1,194.6h0M452.5,192.8h0M447.5,194.1h0M450.0,191.8h0M451.5,194.2h0M453.2,190.6h0M449.5,189.5h0M450.1,191.8h0M450.9,190.9h0M448.8,189.8h0M451.1,192.8h0M451.7,190.3h0M451.8,193.3h0M448.9,189.1h0M452.1,194.4h0M451.2,191.7h0M450.4,193.2h0M447.6,191.3h0M449.6,187.0h0M449.6,191.1h0M450.4,190.6h0M449.8,191.9h0M447.3,189.0h0M451.5,192.1h0M452.2,188.6h0M452.7,192.8h0M450.8,189.1h0M452.0,193.3h0M449.8,191.9h0M451.3,192.6h0M451.7,192.3h0M447.7,190.2h0M447.1,192.9h0M451.8,191.8h0M454.1,189.4h0M453.4,189.4h0M446.6,190.2h0M449.3,190.5h0M450.2,191.8h0M451.6,189.8h0M448.1,192.2h0M452.9,192.7h0M451.3,187.7h0M451.6,189.8h0M452.4,193.5h0M449.5,189.2h0M449.6,191.9h0M451.4,189.1h0M451.0,189.3h0M449.2,193.0h0M450.1,187.0h0M448.3,193.3h0M446.8,193.1h0M450.4,188.5h0M449.2,192.1h0M453.1,188.7h0M449.9,191.7h0M452.1,195.6h0M454.0,191.8h0M447.6,190.5h0M448.2,190.5h0M449.4,190.7h0M451.1,190.5h0M452.3,193.1h0M447.8,188.3h0M448.5,186.8h0M450.5,191.0h0M450.5,194.2h0M451.7,192.9h0M450.4,189.9h0M445.8,190.2h0M450.2,189.0h0M448.6,191.2h0M453.8,190.1h0M449.5,189.5h0M450.0,188.8h0M450.8,189.2h0M452.6,189.0h0" fill="none" stroke="#000" stroke-width="0.7" stroke-linecap="square" stroke-opacity="0.75"/>
<path d="M459.2,193.1h0M461.8,189.4h0M461.3,192.1h0M463.2,189.9h0M458.0,192.5h0M462.0,193.9h0M460.5,187.8h0M457.6,197.7h0M460.9,191.6h0M461.6,192.8h0M459.9,191.2h0M461.0,194.8h0M464.2,194.6h0M462.2,189.5h0M459.9,192.9h0M460.0,190.8h0M465.1,191.2h0M460.7,187.7h0M461.9,192.7h0M460.7,193.2h0M457.0,195.4h0M463.2,186.9h0M461.4,193.8h0M462.4,192.4h0M463.0,193.2h0M460.4,195.6h0M459.1,190.9h0M460.3,195.9h0M460.2,188.6h0M459.4,192.6h0M461.0,192.8h0M459.0,192.9h0M462.4,196.5h0M463.4,188.9h0M461.9,189.6h0M461.7,193.9h0M460.8,185.2h0M461.3,192.3h0M460.3,193.9h0M460.5,191.5h0M462.0,190.3h0M462.4,191.0h0M460.8,193.6h0M463.2,191.5h0M461.4,191.4h0M458.6,191.1h0M464.9,191.6h0M462.4,193.6h0M463.1,192.1h0M462.3,191.7h0M465.0,193.1h0M461.0,195.2h0M459.8,194.6h0M464.7,189.8h0M462.0,190.9h0M461.3,191.7h0M457.8,195.0h0M461.1,194.4h0M460.1,191.3h0M460.5,188.8h0M464.1,195.2h0M463.4,193.8h0M460.6,193.2h0M466.1,196.1h0M461.7,189.6h0M462.3,186.0h0M462.9,190.8h0M460.8,195.0h0M463.7,191.7h0M459.7,188.1h0M459.4,193.8h0M461.8,190.8h0M461.4,191.7h0M459.1,191.4h0M463.3,196.5h0M460.2,192.7h0M459.3,193.8h0M461.0,192.2h0M463.3,194.2h0M462.0,193.5h0M462.3,187.7h0M461.9,191.1h0M463.8,192.3h0M459.9,190.8h0M462.8,192.4h0M461.3,195.3h0M462.2,192.0h0M463.3,193.8h0M462.0,193.2h0M456.8,194.8h0M460.5,194.0h0M460.2,192.4h0M459.1,194.3h0M459.9,196.0h0M461.4,193.2h0M459.9,190.3h0M461.8,191.6h0M461.1,188.6h0M460.6,193.1h0M459.1,189.5h0M459.4,192.6h0M460.3,189.1h0M460.2,192.9h0M459.2,192.8h0M465.3,187.4h0M459.8,191.4h0M461.5,195.5h0M461.1,190.3h0M458.9,183.7h0M458.2,195.7h0M459.0,193.5h0M461.9,190.9h0M458.5,197.9h0M462.4,193.0h0M458.5,192.7h0M458.6,188.1h0M461.1,192.0h0M461.5,192.4h0M460.8,192.4h0M458.9,191.6h0M462.1,196.7h0M457.7,195.3h0M459.8,194.8h0M459.9,191.7h0M461.2,191.9h0M461.2,194.3h0M462.5,190.2h0M462.5,192.6h0M458.9,189.4h0M463.3,194.8h0" fill="none" stroke="#000" stroke-width="0.7" stroke-linecap="square" stroke-opacity="0.75"/>
<path d="M449.4,194.1h0M449.4,193.1h0M467.8,190.9h0M463.1,188.5h0M453.9,189.5h0M465.5,192.8h0M451.0,187.0h0M453.1,193.9h0M461.1,189.3h0M460.1,191.7h0M453.6,192.4h0M467.3,190.3h0M455.1,191.1h0M452.4,192.2h0M453.3,185.1h0M457.4,185.3h0M455.5,191.7h0M464.2,195.1h0M458.2,187.6h0M456.0,198.2h0M458.6,193.5h0M471.4,191.5h0M446.3,194.4h0M457.3,187.0h0M464.8,190.9h0M468.2,187.4h0M463.3,194.2h0M455.6,194.4h0M445.4,200.1h0M460.6,192.7h0M468.7,200.1h0M445.8,191.5h0M445.0,190.6h0M451.7,194.4h0M454.5,185.9h0M458.6,189.4h0M460.3,186.7h0M449.5,189.8h0M452.7,190.8h0M459.0,193.1h0M456.2,192.1h0M452.9,185.8h0M451.9,189.8h0M453.0,184.9h0M451.8,189.6h0M449.5,190.0h0M454.5,193.3h0M460.3,187.6h0M458.1,190.5h0M454.2,195.5h0M459.4,192.4h0M448.4,190.4h0M461.3,188.9h0M449.9,187.8h0M456.1,188.1h0M471.1,191.4h0M455.6,189.6h0M458.0,193.0h0M453.2,189.8h0M461.6,191.9h0M459.3,191.5h0M451.9,193.0h0M459.4,191.4h0M455.1,194.4h0M450.1,193.0h0M454.3,192.0h0M459.8,186.5h0M454.4,191.4h0M456.2,198.8h0M451.1,192.0h0M460.1,184.7h0M459.8,194.2h0M452.2,190.7h0M451.5,195.8h0M451.1,187.0h0M450.7,189.0h0M455.8,191.6h0M460.9,185.4h0M456.8,190.6h0M455.3,189.2h0M452.6,193.3h0M461.7,186.4h0M457.7,188.4h0M459.0,190.3h0M447.1,189.0h0M455.4,194.8h0M463.2,195.0h0M456.1,193.1h0M453.4,196.3h0M450.2,188.1h0M460.7,186.7h0M456.6,195.5h0M456.9,193.6h0M456.3,192.5h0M447.7,197.2h0M453.5,190.1h0M456.4,195.9h0M453.5,191.2h0M461.1,193.9h0M452.9,190.5h0M455.5,188.8h0M448.8,189.1h0M447.3,198.5h0M450.0,193.6h0M444.1,189.7h0M464.8,190.9h0M445.9,190.0h0M445.4,184.6h0M464.5,190.3h0M456.4,195.8h0M450.9,192.3h0M455.7,188.9h0M453.2,187.4h0M446.7,193.8h0M452.1,180.9h0M465.3,191.3h0M454.1,196.5h0M441.1,191.6h0M449.7,192.4h0M461.3,192.0h0M450.0,190.7h0M460.1,193.8h0M458.1,192.3h0M449.8,192.5h0M447.7,191.3h0M452.5,192.6h0M462.2,191.9h0M459.5,190.8h0M451.8,193.8h0M454.5,187.3h0M455.0,191.0h0M457.5,193.1h0M450.9,193.9h0M443.5,197.3h0M447.8,193.1h0M462.9,190.2h0M445.8,187.7h0M454.1,192.2h0M461.8,190.2h0M453.0,190.7h0M454.7,188.0h0M451.9,189.1h0M459.7,189.7h0M452.9,198.7h0M455.6,194.1h0M438.6,192.2h0M457.8,192.9h0M455.5,190.0h0M446.1,194.5h0M452.5,185.3h0M463.9,196.3h0M448.2,196.4h0M442.8,192.7h0M450.4,191.7h0M458.8,194.7h0M458.2,192.0h0M460.2,188.1h0M457.0,189.8h0M448.4,191.8h0M458.4,193.1h0M463.1,188.7h0M446.9,191.1h0M464.1,184.7h0M453.3,190.7h0M457.3,189.8h0M455.0,193.2h0M447.2,191.0h0M448.5,192.3h0M460.7,195.7h0M450.0,190.6h0M461.7,184.2h0M469.7,186.6h0M460.1,192.8h0M450.6,192.2h0M454.4,183.8h0M459.3,194.5h0M466.8,189.9h0M452.3,191.9h0M448.1,192.5h0M455.7,189.2h0M451.8,201.3h0M462.8,191.7h0M462.8,194.6h0M443.1,195.0h0M456.8,198.4h0M455.1,192.4h0M456.8,192.1h0M443.0,197.4h0M449.2,195.7h0M461.7,192.3h0M452.3,191.0h0M449.3,189.5h0M449.7,197.2h0M453.8,189.7h0M456.3,192.1h0M454.2,196.3h0M469.8,189.5h0M456.8,190.0h0M457.4,185.6h0M436.0,193.3h0M452.5,190.3h0M455.5,193.2h0M448.6,188.2h0M455.4,191.0h0M470.4,191.9h0M454.5,194.1h0M456.7,190.1h0M458.1,184.2h0M447.5,189.5h0M462.8,191.5h0M447.3,187.4h0M452.0,191.2h0M456.3,196.4h0M457.3,192.1h0M454.8,197.6h0M449.6,190.4h0M462.3,190.3h0M455.4,195.9h0M458.3,188.7h0M447.9,193.2h0M463.1,190.9h0M458.1,195.5h0M452.0,194.9h0M454.6,190.7h0M449.8,191.2h0M446.1,187.6h0M446.8,192.4h0M453.8,194.0h0M447.7,191.1h0M456.5,197.2h0M449.4,191.4h0M454.6,198.0h0M466.0,186.6h0M454.9,192.7h0M454.0,190.8h0M460.3,187.2h0M451.6,194.6h0M453.4,189.5h0M448.1,196.0h0M451.6,187.1h0M458.1,192.8h0M454.8,192.2h0M450.0,187.8h0M461.4,189.3h0M460.5,189.4h0M450.2,191.0h0M441.6,193.2h0M454.5,191.4h0M452.5,193.2h0M449.9,188.4h0M441.7,192.6h0M455.0,189.9h0M463.7,192.4h0M447.9,188.4h0M453.3,191.3h0M444.3,193.3h0M453.5,190.7h0M463.8,196.7h0M451.5,190.8h0M451.3,183.7h0M460.4,187.6h0M455.7,189.9h0M444.6,192.8h0M453.1,193.0h0M460.9,187.3h0M457.0,191.4h0M441.4,188.3h0M446.1,186.5h0M460.8,194.2h0M457.0,194.2h0M458.7,194.5h0M463.0,192.8h0M447.2,185.3h0M455.1,190.0h0M459.8,188.1h0M461.1,189.8h0M462.7,194.0h0M462.6,200.3h0M442.7,189.5h0M449.7,191.5h0M450.1,186.7h0M450.3,192.0h0M446.8,194.0h0M455.3,193.4h0M446.4,191.9h0M459.1,192.5h0M459.3,190.9h0M455.5,188.4h0M460.6,193.4h0M461.7,186.9h0M463.5,193.0h0M450.0,188.6h0M451.3,187.7h0M458.5,196.3h0M458.3,193.5h0M459.3,187.7h0M445.7,191.0h0M449.1,191.5h0M453.7,191.1h0M453.9,192.1h0M467.5,191.1h0M452.9,189.7h0M457.8,189.1h0M457.7,186.6h0M447.3,187.8h0M453.7,197.9h0M445.4,189.8h0M457.2,189.1h0M450.2,193.1h0M465.3,194.7h0M452.2,187.6h0M443.4,189.3h0M459.8,192.7h0M452.1,187.4h0M450.4,191.4h0M456.3,196.5h0M447.5,198.3h0M467.4,186.0h0M453.7,195.5h0M459.2,193.4h0M461.0,193.2h0M464.3,189.8h0M451.8,193.5h0M456.6,190.9h0M461.3,185.7h0M467.8,195.0h0M451.4,188.6h0M447.8,193.5h0M443.3,190.2h0M458.9,189.4h0M464.9,191.7h0M449.8,187.3h0M456.9,192.0h0M459.3,189.4h0M439.5,193.0h0M457.6,196.0h0M461.7,193.0h0M454.6,189.3h0M455.8,182.2h0M459.6,185.9h0M463.6,189.5h0M444.5,189.4h0M457.7,186.7h0M453.1,189.4h0M452.1,194.0h0M461.2,186.6h0M450.2,202.2h0M456.8,191.8h0M453.8,192.6h0M460.0,190.3h0M446.1,195.8h0M446.8,190.3h0M448.9,192.8h0M459.4,190.6h0M448.3,190.7h0M456.9,192.9h0M444.5,191.1h0M453.0,191.9h0M457.7,190.6h0M456.2,190.6h0M452.9,189.8h0M454.5,195.0h0M455.1,187.6h0M449.7,193.1h0M450.2,191.0h0M458.5,190.7h0M459.8,194.6h0M449.3,195.8h0M463.3,192.6h0M446.1,197.4h0M452.9,194.9h0M451.9,195.3h0M453.2,196.5h0M447.1,194.2h0M453.2,195.1h0M446.2,189.4h0M451.3,188.3h0M457.3,192.2h0M457.1,193.1h0M458.3,196.1h0M448.0,197.8h0M455.3,194.0h0M456.2,193.1h0M451.7,187.2h0M454.8,197.7h0M452.1,188.0h0M448.2,188.1h0M452.5,191.9h0M445.6,197.7h0M449.1,194.9h0M463.4,194.5h0M458.5,188.8h0M450.0,194.4h0M454.8,193.8h0M461.0,195.2h0M440.4,190.8h0M466.3,189.7h0M465.3,189.1h0M457.9,191.6h0M466.5,190.3h0M448.8,188.1h0M449.2,192.8h0M459.3,194.8h0M454.4,193.1h0M460.1,188.0h0M458.3,189.3h0M450.7,190.0h0M456.8,189.3h0M450.4,187.8h0M453.8,192.6h0M447.8,191.7h0M456.5,189.2h0M456.8,194.1h0M456.2,188.9h0M453.9,190.7h0M462.8,194.1h0M452.0,191.4h0M441.3,192.8h0M449.1,194.2h0M448.8,193.3h0" fill="none" stroke="#000" stroke-width="0.7" stroke-linecap="square" stroke-opacity="0.38"/>
<path d="M484.3,196.4h0M467.4,194.4h0M471.5,196.6h0M482.8,193.7h0M466.4,197.2h0M468.5,194.9h0M481.9,196.0h0M476.3,197.5h0M473.6,195.3h0M476.8,197.8h0M458.3,191.3h0M468.4,193.2h0M487.4,195.7h0M460.5,195.6h0M483.3,196.3h0M468.2,195.5h0M470.3,195.7h0M468.6,194.6h0M471.2,194.1h0M469.2,192.7h0M468.8,190.5h0M469.7,198.2h0M462.1,197.8h0M476.9,192.3h0M468.5,194.4h0M485.5,192.4h0M477.5,194.7h0M476.3,192.6h0M478.1,192.3h0M466.5,195.9h0M474.8,192.5h0M460.5,194.3h0M473.3,195.4h0M469.7,195.5h0M473.7,194.6h0M475.5,194.3h0M479.0,197.8h0M469.6,193.5h0M466.0,193.9h0M479.1,194.5h0" fill="none" stroke="#000" stroke-width="0.6" stroke-linecap="square" stroke-opacity="0.3"/>
<rect x="428.9" y="179.3" width="60.5" height="41.3" fill="none" stroke="#6a6a6a" stroke-width="0.8"/>
<line x1="455.7" y1="179.3" x2="455.7" y2="220.6" stroke="#444" stroke-width="0.8"/>
<line x1="428.9" y1="202.4" x2="489.4" y2="202.4" stroke="#444" stroke-width="0.8"/>
<line x1="428.9" y1="220.6" x2="428.9" y2="222.2" stroke="#555" stroke-width="0.6"/>
<text x="429.2" y="224.8" font-family="Liberation Serif, serif" font-size="3.4" text-anchor="middle" fill="#222" transform="rotate(-20 429.2 224.8)">10</text>
<line x1="427.3" y1="220.6" x2="428.9" y2="220.6" stroke="#555" stroke-width="0.6"/>
<text x="427.1" y="221.8" font-family="Liberation Serif, serif" font-size="3.4" text-anchor="end" fill="#222" transform="rotate(-20 427.1 221.8)">10</text>
<line x1="444.02" y1="220.6" x2="444.02" y2="222.2" stroke="#555" stroke-width="0.6"/>
<text x="444.32" y="224.8" font-family="Liberation Serif, serif" font-size="3.4" text-anchor="middle" fill="#222" transform="rotate(-20 444.32 224.8)">10</text>
<line x1="427.3" y1="210.28" x2="428.9" y2="210.28" stroke="#555" stroke-width="0.6"/>
<text x="427.1" y="211.47" font-family="Liberation Serif, serif" font-size="3.4" text-anchor="end" fill="#222" transform="rotate(-20 427.1 211.47)">10</text>
<line x1="459.15" y1="220.6" x2="459.15" y2="222.2" stroke="#555" stroke-width="0.6"/>
<text x="459.45" y="224.8" font-family="Liberation Serif, serif" font-size="3.4" text-anchor="middle" fill="#222" transform="rotate(-20 459.45 224.8)">10</text>
<line x1="427.3" y1="199.95" x2="428.9" y2="199.95" stroke="#555" stroke-width="0.6"/>
<text x="427.1" y="201.15" font-family="Liberation Serif, serif" font-size="3.4" text-anchor="end" fill="#222" transform="rotate(-20 427.1 201.15)">10</text>
<line x1="474.27" y1="220.6" x2="474.27" y2="222.2" stroke="#555" stroke-width="0.6"/>
<text x="474.57" y="224.8" font-family="Liberation Serif, serif" font-size="3.4" text-anchor="middle" fill="#222" transform="rotate(-20 474.57 224.8)">10</text>
<line x1="427.3" y1="189.62" x2="428.9" y2="189.62" stroke="#555" stroke-width="0.6"/>
<text x="427.1" y="190.82" font-family="Liberation Serif, serif" font-size="3.4" text-anchor="end" fill="#222" transform="rotate(-20 427.1 190.82)">10</text>
<line x1="489.4" y1="220.6" x2="489.4" y2="222.2" stroke="#555" stroke-width="0.6"/>
<text x="489.7" y="224.8" font-family="Liberation Serif, serif" font-size="3.4" text-anchor="middle" fill="#222" transform="rotate(-20 489.7 224.8)">10</text>
<line x1="427.3" y1="179.3" x2="428.9" y2="179.3" stroke="#555" stroke-width="0.6"/>
<text x="427.1" y="180.5" font-family="Liberation Serif, serif" font-size="3.4" text-anchor="end" fill="#222" transform="rotate(-20 427.1 180.5)">10</text>
<text x="457.65" y="227.2" font-family="Liberation Serif, serif" font-size="3" text-anchor="middle" fill="#333">FL1-H</text>
<text x="424.3" y="204.45" font-family="Liberation Serif, serif" font-size="3" text-anchor="middle" fill="#333" transform="rotate(-90 424.3 204.45)">FL2-H</text>
<text x="469.2" y="188.2" font-family="Liberation Serif, serif" font-size="6.5" font-weight="bold" text-anchor="start" fill="#000" stroke="#000" stroke-width="0.15">44%</text>
<polygon points="360.4,266.6 370.4,266 376.4,269.2 376.4,274.8 360.4,274.8" fill="#000" filter="url(#bl)" opacity="0.85"/>
<path d="M371.6,269.5h0M374.0,272.3h0M372.6,272.9h0M376.3,268.0h0M369.8,269.7h0M364.1,271.4h0M381.3,268.4h0M364.8,269.4h0M360.4,266.1h0M380.9,270.4h0M364.0,273.0h0M377.1,269.6h0M368.7,271.2h0M367.3,268.6h0M366.8,271.5h0M376.6,270.4h0M370.3,273.4h0M361.9,270.9h0M368.7,269.9h0M385.7,267.5h0M361.3,271.9h0M362.0,272.4h0M367.8,267.9h0M368.4,271.0h0M366.8,270.5h0M367.5,271.2h0M364.5,270.0h0M375.4,269.6h0M371.5,272.1h0M366.6,274.7h0M377.5,266.0h0M365.5,269.6h0M366.8,274.5h0M361.7,270.0h0M367.7,271.6h0M381.2,270.8h0M376.4,268.4h0M361.1,268.8h0M367.8,268.7h0M373.0,270.7h0M363.5,269.4h0M363.6,269.4h0M368.2,275.3h0M370.3,270.1h0M363.1,270.6h0M367.1,270.1h0M377.7,270.9h0M369.6,274.2h0M365.7,270.7h0M363.1,271.7h0M369.8,270.8h0M361.2,267.8h0M380.0,268.7h0M371.0,268.2h0M366.6,270.3h0M363.5,272.5h0M365.1,274.2h0M368.4,274.6h0M377.9,267.7h0M377.7,272.7h0M375.1,269.9h0M361.5,275.1h0M374.2,272.5h0M365.3,269.9h0M365.8,274.9h0M375.1,270.5h0M376.3,268.8h0M366.0,273.3h0M377.6,270.6h0M371.6,271.7h0M361.1,274.5h0M360.7,272.8h0M374.5,274.3h0M361.1,268.8h0M361.6,270.8h0M373.8,268.6h0M370.0,272.5h0M375.9,270.2h0M363.2,270.1h0M369.4,265.3h0M365.8,274.6h0M374.2,265.8h0M378.4,272.1h0M364.9,267.9h0M375.8,267.2h0M386.8,269.1h0M375.6,268.1h0M365.4,268.3h0M372.8,270.2h0M362.0,272.9h0M371.7,266.0h0M365.5,266.8h0M374.0,269.9h0M360.9,270.6h0M386.3,271.9h0M363.5,273.7h0M367.4,271.5h0M361.5,270.3h0M366.0,266.0h0M365.8,269.1h0M369.5,269.3h0M384.8,271.5h0M375.6,268.9h0M361.1,271.1h0M360.8,272.2h0M363.9,268.9h0M375.6,269.0h0M366.2,274.6h0M365.6,273.7h0M377.9,272.3h0M363.5,267.3h0M363.8,268.5h0M366.8,272.3h0M361.2,267.5h0M365.5,272.2h0M362.1,270.9h0M371.3,271.1h0M375.0,274.3h0M372.4,273.5h0M362.8,268.6h0M391.8,266.9h0M368.0,268.7h0M368.3,270.2h0M369.0,269.8h0M368.4,271.6h0M372.9,265.7h0M362.8,269.2h0M377.1,269.7h0M380.7,269.5h0M371.4,272.6h0M364.4,266.2h0M362.1,270.0h0M368.5,270.8h0M368.5,268.8h0M372.8,271.1h0M379.1,266.9h0M362.0,273.0h0M362.4,272.1h0M374.1,265.2h0M367.3,272.4h0M377.6,266.9h0M392.9,267.9h0M361.6,271.8h0M360.3,274.2h0M368.3,270.7h0M376.0,270.7h0M363.3,271.9h0M362.5,271.9h0M363.8,271.6h0M366.9,265.3h0M378.6,271.2h0M368.7,267.2h0M366.3,275.4h0M363.1,271.2h0M367.4,270.0h0M375.5,267.8h0M364.8,271.1h0M363.9,269.5h0M368.2,267.0h0M361.7,273.9h0M371.3,267.3h0M363.0,270.1h0M374.1,267.1h0M374.3,269.8h0M377.9,270.1h0M368.6,270.0h0M367.5,270.3h0M373.0,270.3h0M371.8,267.2h0M363.5,273.9h0M372.3,268.5h0M372.4,271.0h0M368.5,265.3h0M378.6,269.4h0M362.6,269.6h0M360.8,273.3h0M367.7,273.0h0M361.3,268.3h0M367.7,264.7h0M368.3,273.7h0M370.1,269.7h0M373.9,266.8h0M362.8,272.2h0M364.1,268.1h0M367.2,273.0h0M363.3,265.1h0M375.8,267.7h0M364.8,273.0h0M367.3,270.6h0M363.8,272.2h0M365.8,270.9h0M366.5,268.3h0M360.6,275.1h0M361.4,271.4h0M369.6,266.6h0M366.6,269.0h0M361.7,275.0h0M376.9,275.6h0M367.9,267.7h0M368.4,271.2h0M386.4,272.9h0M368.9,273.3h0M385.0,272.9h0M360.6,266.0h0M360.3,269.3h0M360.5,271.7h0M364.4,270.4h0M362.8,272.4h0M376.6,267.7h0M363.4,272.0h0M374.3,273.4h0M375.4,272.8h0M378.4,268.6h0M361.9,271.6h0M374.0,272.7h0M378.1,269.7h0M363.0,272.9h0M362.1,269.4h0M360.8,270.2h0M368.2,270.9h0M361.8,266.6h0M363.1,269.2h0M374.8,271.1h0M360.8,270.6h0M372.1,265.4h0M368.5,273.0h0M374.3,265.1h0M367.8,267.9h0M361.7,267.8h0M373.2,270.9h0M368.4,271.7h0M366.1,271.8h0M366.9,274.7h0M369.0,268.5h0M363.4,269.6h0M377.6,269.5h0M362.3,268.2h0M372.1,267.8h0M363.2,271.9h0M370.0,269.2h0M372.2,267.7h0M360.8,267.4h0M360.4,269.5h0M374.1,270.1h0M365.9,269.6h0M374.1,272.4h0M362.6,266.9h0M360.7,274.1h0M362.0,267.0h0M364.1,270.1h0M360.6,270.5h0M369.5,268.1h0M370.1,271.6h0M370.7,265.6h0M371.4,271.8h0M361.8,269.6h0M379.7,265.8h0M364.2,272.3h0M364.8,272.2h0M374.7,272.2h0M372.7,268.9h0M370.9,269.5h0M360.4,270.9h0M362.3,271.1h0M373.2,273.8h0M367.0,272.1h0M372.9,269.7h0M365.3,270.9h0M365.1,268.2h0M370.3,272.1h0M366.6,271.1h0M372.2,271.8h0M378.0,268.8h0M370.3,272.5h0M364.1,267.2h0M360.8,273.8h0M370.4,269.9h0M364.5,270.3h0M387.4,273.1h0M370.3,272.3h0M360.7,266.0h0M361.2,268.3h0M362.0,269.1h0M361.7,270.6h0M362.6,272.4h0M370.6,273.9h0M381.6,270.4h0M381.9,273.3h0M374.1,269.0h0M373.7,264.8h0M379.9,271.5h0M378.2,270.9h0M371.2,266.6h0M362.9,271.7h0M374.5,269.6h0M362.8,269.3h0M385.5,266.5h0M375.5,269.1h0M370.5,271.4h0M365.6,270.9h0M367.9,271.5h0M370.7,275.5h0M374.2,274.3h0M381.0,267.5h0M373.5,267.6h0M367.7,271.2h0M368.6,269.6h0M361.8,270.2h0M366.5,268.7h0M371.8,271.9h0M393.4,268.0h0M376.8,275.3h0M372.6,269.3h0M366.7,269.9h0M363.3,267.8h0M362.1,264.8h0M371.8,267.4h0M365.6,270.2h0M363.9,271.0h0M364.4,271.7h0M363.7,271.1h0M366.2,269.4h0M363.3,274.6h0M361.9,270.7h0M363.3,267.3h0M371.2,270.5h0M370.1,270.6h0M369.7,270.1h0M369.9,270.3h0M371.1,266.3h0M363.7,267.7h0M380.5,269.8h0M365.8,271.9h0M372.5,270.5h0M385.4,271.4h0M370.0,269.2h0M365.2,270.7h0M360.5,267.7h0M370.9,275.1h0M366.9,271.0h0M395.7,270.2h0M365.6,272.3h0M362.7,268.5h0M362.1,270.6h0M361.0,273.2h0M363.1,269.8h0M370.4,265.4h0M379.1,269.1h0M371.8,271.3h0M361.4,272.3h0M361.0,275.3h0M365.2,270.0h0M361.2,271.9h0M376.0,268.0h0M386.7,270.6h0M367.4,270.3h0M360.5,272.7h0M370.1,267.8h0M378.3,269.4h0M369.3,270.0h0M372.8,264.5h0M371.8,271.2h0M371.4,273.7h0M378.5,272.0h0M373.2,264.2h0M372.7,268.5h0M379.0,269.1h0M362.9,271.9h0M363.7,270.3h0M382.0,266.8h0M373.8,264.6h0M373.9,267.4h0M366.4,269.5h0M375.5,272.2h0M365.5,271.1h0M368.0,269.7h0M373.1,267.2h0M364.9,268.1h0M371.0,271.2h0M371.7,273.9h0M366.9,269.1h0M362.1,269.0h0M376.2,270.2h0M361.8,268.5h0M377.0,269.8h0M368.0,274.6h0M363.5,269.5h0M369.8,268.9h0M361.9,273.5h0M372.9,269.6h0M361.3,271.8h0M371.7,267.1h0M363.9,268.2h0M361.5,270.5h0M361.7,271.3h0M372.3,269.1h0M362.1,274.1h0M363.1,270.8h0M381.6,268.4h0M374.2,271.8h0M373.3,270.0h0M368.4,267.2h0M375.1,268.6h0M364.8,270.0h0M364.3,268.6h0M376.6,267.7h0M377.5,269.0h0M370.2,272.5h0M361.0,270.0h0M373.5,269.3h0M362.2,268.4h0M373.8,267.4h0M372.0,273.0h0M368.6,269.0h0M372.2,269.7h0M364.7,268.9h0M362.7,273.5h0M363.8,269.5h0M372.6,269.8h0M361.6,268.1h0M370.5,270.8h0M364.4,270.2h0M374.2,269.7h0M362.8,271.0h0M360.5,273.4h0M364.1,269.4h0M368.6,270.7h0M375.0,268.5h0M377.7,269.4h0M363.4,270.0h0M367.0,268.0h0M361.7,264.5h0M372.5,274.5h0M362.2,274.7h0M379.9,270.0h0M371.2,271.3h0M370.4,270.4h0M362.3,275.0h0M362.8,270.2h0M362.1,273.1h0M369.2,269.2h0M388.6,266.8h0M365.5,272.1h0M365.7,273.2h0M363.6,274.7h0M363.3,270.1h0M365.4,270.9h0M362.4,272.2h0M369.4,271.5h0M364.2,263.8h0M371.2,269.9h0M363.8,269.6h0M377.0,266.4h0M364.6,269.7h0M371.7,275.3h0M366.1,266.3h0M373.6,271.7h0M377.3,270.6h0M362.9,268.5h0M377.4,270.0h0M374.9,270.1h0M366.5,272.4h0M370.8,263.8h0M365.2,272.1h0M371.4,270.2h0M368.8,271.3h0M365.0,263.1h0M380.6,270.8h0M369.2,272.1h0M369.3,263.6h0M360.8,266.7h0M371.3,265.0h0M372.7,269.3h0M361.2,271.1h0M370.0,270.0h0M393.4,269.0h0M370.2,270.6h0M363.6,266.8h0M366.0,267.9h0M376.9,272.7h0M361.1,267.8h0M377.8,268.1h0M372.2,270.4h0M377.4,270.4h0M361.2,268.5h0M362.0,268.3h0M365.0,268.4h0M380.4,266.0h0M362.1,268.3h0M367.0,272.9h0M362.5,270.4h0M383.4,267.8h0M380.6,272.0h0M393.1,264.9h0M363.1,266.6h0M360.5,268.1h0M375.5,273.6h0M372.3,267.2h0M362.8,273.9h0M370.2,270.1h0M371.9,270.5h0M374.9,269.6h0M383.0,268.7h0M368.2,274.7h0M370.7,272.8h0M376.2,268.3h0M365.3,274.5h0M372.8,273.7h0M375.4,270.2h0M368.8,270.4h0M382.6,269.8h0M375.3,269.5h0M371.0,265.4h0M383.7,274.8h0M373.4,272.9h0M365.2,268.4h0M369.1,271.7h0M366.2,272.9h0M362.4,270.1h0M378.8,269.5h0M374.3,268.7h0M365.8,275.0h0M367.5,268.7h0M367.7,270.5h0M367.5,268.2h0M364.6,269.4h0M370.2,270.4h0M366.3,269.8h0M369.3,269.8h0M361.7,275.3h0M371.4,273.7h0M360.3,268.3h0M380.1,270.8h0M373.4,269.1h0M365.5,267.5h0M361.5,270.7h0M374.6,269.4h0M379.4,273.1h0M371.5,268.1h0M374.9,270.3h0M372.0,272.1h0M363.0,269.6h0M365.4,268.7h0M360.3,271.7h0M366.8,271.9h0M384.8,268.3h0M364.4,272.7h0M370.8,273.1h0M369.8,273.6h0M362.1,271.5h0M375.1,268.0h0M362.5,271.5h0M362.2,270.0h0M374.7,268.2h0M366.1,273.0h0M364.5,271.1h0M373.2,274.6h0M375.1,267.7h0M369.3,267.7h0M375.6,269.8h0M370.9,270.4h0M364.9,268.7h0M373.4,272.5h0M369.7,269.8h0M370.0,271.5h0M362.7,273.3h0M362.0,269.2h0M368.8,270.8h0M376.3,267.8h0M369.4,272.5h0M366.1,274.2h0M363.6,269.1h0M361.4,273.2h0M370.8,275.4h0M373.4,266.8h0M369.4,272.3h0M363.8,273.6h0M364.7,270.3h0M365.8,271.7h0M365.3,268.8h0M363.7,270.8h0M364.9,267.7h0M365.6,266.6h0M360.6,268.8h0M360.4,274.6h0M383.8,271.5h0M362.6,267.7h0M363.0,271.6h0M377.3,268.4h0M363.8,271.6h0M365.0,267.9h0M363.1,268.1h0M381.5,269.1h0M365.9,273.6h0M370.1,268.8h0M367.1,266.7h0M363.6,268.9h0M373.4,270.1h0M361.9,270.6h0M364.7,268.0h0M371.5,274.8h0M376.5,268.5h0M361.2,267.2h0M363.4,270.3h0M363.4,272.2h0M365.1,269.2h0M365.9,270.9h0M366.3,273.6h0M371.6,271.1h0M373.1,270.5h0M360.4,272.1h0M365.9,271.2h0M365.4,271.6h0M366.4,271.0h0M362.3,265.4h0M362.1,271.8h0M364.6,270.5h0M370.7,266.7h0M382.3,270.3h0M370.4,273.8h0M379.0,266.7h0M366.9,268.2h0M380.7,269.4h0M366.2,272.0h0M367.3,270.9h0M375.6,274.9h0M363.9,273.1h0M376.2,269.4h0M364.8,271.2h0M366.1,272.3h0M370.7,269.4h0M368.5,270.1h0M381.8,271.4h0M376.8,272.1h0M367.4,269.3h0M365.9,268.2h0M373.6,269.8h0M383.1,267.4h0M371.8,273.2h0M362.4,266.9h0M376.2,270.6h0M360.8,269.2h0M363.5,271.3h0M365.1,270.3h0M366.6,268.3h0M377.4,269.8h0M366.3,271.4h0M373.2,271.8h0M374.6,265.8h0M361.3,271.4h0M368.5,266.9h0M371.7,266.4h0M365.9,267.1h0M362.7,269.6h0M375.0,268.8h0M365.6,271.6h0M366.0,268.8h0M368.1,269.7h0M372.7,270.5h0M368.6,269.6h0M373.4,267.5h0M383.3,266.8h0M373.3,267.2h0M363.3,270.6h0M363.1,274.7h0M371.5,272.9h0M366.3,272.8h0M369.2,265.8h0M360.5,268.0h0M390.1,267.4h0M373.1,268.5h0M380.2,272.5h0M365.3,271.0h0M364.1,269.2h0M360.7,266.8h0M372.0,275.4h0M375.7,270.0h0M379.1,269.3h0M379.6,270.7h0M375.3,268.5h0M369.1,271.8h0M363.2,268.3h0M366.1,273.2h0M367.8,272.9h0M374.0,272.7h0M371.9,272.7h0M364.6,269.3h0M369.5,268.0h0M365.3,269.5h0M380.1,270.5h0M366.1,269.3h0M371.2,275.1h0M371.6,271.3h0M371.4,270.1h0M365.3,270.7h0M366.6,268.1h0M363.3,273.6h0M364.4,271.1h0M368.7,266.5h0M363.3,273.0h0M368.4,271.6h0M377.7,269.3h0M380.7,269.6h0M373.9,270.1h0M365.7,271.0h0M362.9,269.6h0M363.1,270.3h0M393.0,272.1h0M371.4,272.2h0M364.6,269.9h0M365.5,272.9h0M361.7,266.2h0M362.6,269.2h0M383.0,271.0h0M364.7,272.9h0M385.9,263.6h0M376.2,270.7h0M372.8,271.0h0M362.8,269.8h0M367.8,269.2h0M360.9,266.7h0M365.5,271.4h0M361.8,266.7h0M376.3,268.3h0M367.8,269.9h0M367.4,266.0h0M384.8,265.9h0M374.0,267.0h0M368.3,272.7h0M376.5,267.5h0M379.7,272.7h0M362.9,274.0h0M364.2,272.0h0M361.1,271.7h0M373.5,268.6h0M375.2,273.0h0M375.6,268.9h0M368.4,271.7h0M366.4,270.8h0M363.6,269.6h0M368.7,269.0h0M370.2,265.5h0M373.3,264.1h0M370.6,269.8h0M378.1,269.6h0M361.9,273.2h0M380.4,269.0h0M378.3,273.2h0M367.1,267.4h0M368.9,271.9h0M374.1,272.5h0M375.8,271.5h0M363.5,270.0h0M385.1,270.2h0M367.0,275.2h0M366.5,271.7h0M371.4,270.5h0M363.1,270.3h0M368.9,270.6h0M373.1,267.1h0M360.7,273.7h0M374.6,272.2h0M362.4,273.3h0M368.0,270.5h0M376.0,272.0h0M363.9,270.7h0M368.3,273.3h0M361.5,273.6h0M369.6,269.5h0M369.1,275.5h0M381.2,272.1h0M371.3,272.2h0M370.6,269.6h0M375.6,266.1h0M361.9,271.7h0M374.6,267.5h0M367.4,272.1h0M365.3,267.4h0M365.6,269.8h0M369.2,273.9h0M370.1,268.7h0M361.5,269.6h0M366.3,268.8h0M363.4,268.7h0M363.5,272.7h0M363.0,266.6h0M369.6,269.0h0M377.8,271.9h0M361.0,275.2h0M371.7,270.5h0M367.7,270.9h0M360.4,268.0h0M374.3,266.8h0M389.6,267.6h0M370.9,270.4h0M363.7,270.6h0M364.4,269.6h0M367.6,269.5h0M369.0,272.5h0M361.9,272.5h0M367.6,267.2h0M385.0,273.0h0M366.2,271.8h0M362.3,273.4h0M382.9,270.0h0M371.3,272.4h0M366.1,269.2h0M367.3,272.9h0M374.1,267.1h0M364.2,270.9h0M372.4,274.1h0M369.9,271.5h0M362.2,270.3h0M369.8,267.1h0M368.6,272.3h0M365.4,269.0h0M369.8,269.9h0M370.2,269.5h0M373.6,275.3h0M373.8,261.0h0M366.3,273.2h0M374.3,274.2h0M370.9,273.4h0M366.1,273.6h0M377.6,274.9h0M369.1,269.4h0M383.3,267.6h0M367.1,265.8h0M373.6,268.7h0M372.9,274.1h0M370.0,267.4h0M366.2,274.9h0M369.4,270.0h0M378.3,269.6h0M369.0,265.8h0M363.7,268.3h0M382.2,268.0h0M365.6,268.1h0M363.5,270.8h0M375.5,266.8h0M370.0,268.7h0M361.0,270.4h0M366.8,271.8h0M367.9,268.9h0M377.8,266.3h0M364.7,271.4h0M380.2,270.2h0M371.4,270.9h0M365.1,270.9h0M382.6,269.7h0M369.1,271.1h0M373.8,270.7h0M362.9,274.6h0M379.8,263.8h0M367.6,271.8h0M367.2,271.9h0M360.9,271.6h0M363.3,268.8h0M360.9,266.0h0M361.0,270.3h0M377.8,267.2h0M369.9,267.7h0M377.7,272.2h0M369.9,269.9h0M372.2,270.3h0M366.3,274.3h0M368.0,267.1h0M371.0,270.5h0M360.9,269.5h0M376.2,269.9h0M369.5,269.9h0M376.6,270.4h0M367.4,273.7h0M376.9,269.3h0M381.9,274.4h0M360.6,265.5h0M367.0,274.5h0M372.1,273.2h0M363.7,268.1h0M371.0,269.4h0M376.6,270.9h0M373.3,274.9h0M371.1,275.2h0M363.6,271.9h0M366.9,269.5h0M366.8,271.2h0M363.1,266.4h0M362.5,269.5h0M373.6,271.2h0M374.8,272.2h0M383.6,267.7h0M366.7,267.0h0M366.1,267.8h0M361.2,271.8h0M364.8,266.9h0M368.8,268.1h0M382.9,271.3h0M364.4,271.8h0M377.2,268.6h0M384.6,264.7h0M365.9,271.2h0M372.5,270.4h0M374.3,273.2h0M362.3,273.0h0M364.0,269.0h0M361.6,268.8h0M370.2,272.0h0M382.6,267.4h0M361.6,271.4h0M376.3,271.6h0M385.9,267.4h0M376.2,269.7h0M361.1,273.7h0M369.9,271.5h0M360.4,268.6h0M365.5,273.7h0M372.3,267.9h0M368.9,272.3h0M370.2,271.8h0M366.6,269.0h0M388.2,271.7h0M364.8,273.9h0M366.0,268.7h0M367.9,268.5h0M366.8,267.6h0M362.3,267.4h0M363.7,268.2h0M366.3,272.7h0M361.1,271.3h0M361.8,267.6h0M376.6,270.5h0M365.3,271.2h0M360.9,270.2h0M368.8,268.1h0M380.6,268.6h0M368.4,271.8h0M376.8,271.8h0M376.6,271.0h0M377.7,269.7h0M377.5,269.6h0M374.1,270.3h0M381.9,272.7h0M373.9,269.9h0M364.9,270.2h0M382.5,267.2h0M361.2,275.6h0M360.8,275.2h0M363.1,274.4h0M360.7,270.3h0M367.2,267.8h0M360.6,273.3h0M376.6,268.5h0M362.0,271.8h0M362.0,274.7h0M374.9,272.7h0M361.7,268.3h0M365.3,269.9h0M372.0,267.8h0M361.6,274.9h0M378.4,275.4h0M383.0,267.8h0M363.9,269.1h0M361.9,267.2h0M372.0,273.1h0M361.3,266.8h0M369.7,268.9h0M390.2,265.4h0M364.1,272.2h0M360.8,274.1h0M365.1,272.3h0M360.5,270.4h0M368.5,268.7h0M362.3,268.8h0M367.5,270.8h0M381.2,270.3h0M366.2,272.3h0M369.6,269.4h0M365.9,270.3h0M378.5,272.8h0M369.0,266.0h0M366.8,269.6h0M365.5,271.1h0M368.0,267.8h0M371.6,273.4h0M363.0,274.4h0M365.3,271.4h0M361.4,269.2h0M365.8,266.3h0M370.9,271.5h0M361.9,272.3h0M363.6,268.3h0M369.6,269.4h0M360.9,272.5h0M361.2,268.1h0M372.6,274.7h0M364.6,272.3h0M367.7,273.4h0M360.8,270.3h0M374.9,268.2h0M365.7,268.2h0M364.6,271.2h0M372.1,265.0h0M367.3,272.7h0M364.8,268.7h0M360.4,271.5h0M373.3,269.5h0M362.2,272.9h0M364.6,269.5h0M365.1,265.3h0M365.2,271.4h0M368.2,269.5h0M373.3,272.8h0M368.1,269.7h0M360.6,275.3h0M368.8,269.2h0M366.7,269.6h0M373.8,270.9h0M365.2,274.1h0M363.3,270.6h0M368.3,272.4h0M368.2,273.2h0M372.6,268.1h0M371.1,267.9h0M361.0,269.6h0M377.2,265.5h0M376.8,267.2h0M371.0,269.4h0M366.7,273.2h0M364.6,266.0h0M370.3,268.4h0M369.8,269.5h0M371.3,270.6h0M377.8,268.7h0M360.5,271.6h0M361.5,269.2h0M368.4,267.7h0M368.7,272.9h0M361.3,269.0h0M363.7,270.5h0M368.7,273.4h0M366.7,267.3h0M366.5,269.8h0M372.8,271.2h0M366.6,272.8h0M377.5,273.3h0M363.8,274.8h0M368.1,269.6h0M367.2,269.5h0M362.4,272.5h0M365.2,266.7h0M363.8,271.8h0M368.2,269.1h0M374.9,268.9h0M363.5,270.8h0M369.2,265.5h0M366.7,271.6h0M378.1,272.2h0M379.5,273.0h0M373.6,271.5h0M376.8,269.2h0M368.7,269.2h0M382.1,268.0h0M363.1,275.4h0M366.6,269.7h0M374.3,273.0h0M381.3,267.0h0M370.8,271.5h0M364.5,272.6h0M366.1,269.1h0M375.3,267.1h0M368.3,269.5h0M365.6,270.7h0M372.8,264.2h0M368.6,270.0h0M370.7,269.2h0M375.8,274.4h0M367.0,266.9h0M361.4,272.2h0M363.7,272.7h0M365.2,274.0h0M363.2,272.5h0M367.5,268.7h0M361.7,270.9h0M362.7,270.6h0M362.5,270.6h0M374.6,270.8h0M367.4,270.1h0M375.2,263.9h0M369.8,264.6h0M370.2,269.9h0M370.7,269.6h0M361.7,269.3h0M362.0,273.8h0M391.2,266.8h0M360.8,271.1h0M376.7,273.6h0M370.8,272.2h0M376.6,267.0h0M367.0,273.8h0M387.2,267.2h0M369.1,269.5h0M370.3,266.8h0M367.0,266.9h0M372.8,273.1h0M364.9,272.3h0M371.1,272.3h0M364.4,272.7h0M363.3,273.3h0M384.9,273.2h0M373.4,269.6h0M371.0,272.3h0M365.3,267.6h0M370.0,270.2h0M363.2,272.5h0M367.6,271.7h0M370.8,271.0h0M364.9,270.1h0M360.7,268.0h0M368.2,268.5h0M364.7,266.8h0M369.9,272.7h0M361.9,275.3h0M365.4,272.1h0M390.3,270.8h0M366.2,272.0h0M363.4,270.4h0M369.8,271.9h0M368.1,266.2h0M369.4,270.0h0M366.6,271.5h0M368.6,270.5h0M376.5,266.1h0M367.0,271.8h0M371.0,268.0h0M363.6,271.4h0M367.2,271.2h0M363.0,270.2h0M379.7,269.7h0M368.9,270.5h0M372.6,272.1h0M361.7,266.8h0M369.0,271.4h0M368.5,268.3h0M371.9,268.8h0M373.7,268.1h0M372.4,270.6h0M367.6,267.4h0M369.3,270.4h0M388.7,269.5h0M365.6,267.5h0M362.5,272.4h0M369.9,271.8h0M367.7,271.4h0M373.9,270.6h0M372.6,272.6h0M362.0,269.1h0M360.3,271.7h0M375.8,270.8h0M372.2,272.2h0M362.8,270.3h0M372.1,271.3h0M374.9,268.2h0M368.0,271.2h0M370.5,273.2h0M361.3,268.2h0M367.6,271.6h0M365.1,266.2h0M378.1,273.2h0M362.1,271.2h0M361.5,269.8h0M362.7,273.5h0M362.7,270.9h0M371.7,268.7h0M360.5,271.6h0M382.3,266.9h0M364.4,265.5h0M371.2,267.5h0M368.8,271.3h0M369.8,269.0h0M361.1,271.9h0M370.6,267.4h0M363.9,273.7h0M364.4,269.6h0M365.6,269.2h0M375.9,267.3h0M370.1,269.5h0M369.5,270.3h0M375.8,275.4h0M393.4,267.3h0M370.5,268.7h0M372.5,265.2h0M381.6,272.2h0M362.8,268.7h0M370.5,273.6h0M364.5,272.5h0M362.0,272.1h0M390.9,264.0h0M365.6,267.8h0M360.7,266.8h0M372.2,271.4h0M365.7,272.1h0M365.8,272.8h0M364.5,269.0h0M365.2,264.5h0M361.6,269.1h0M380.1,270.2h0M362.9,269.0h0M374.2,270.5h0M368.1,270.6h0M361.1,266.9h0M373.2,271.3h0M369.8,270.0h0M375.2,272.3h0M361.9,268.0h0M362.7,265.8h0M367.1,266.0h0M363.2,270.6h0M371.1,269.3h0M363.3,266.4h0M371.7,272.4h0M374.7,272.4h0M365.7,272.9h0M365.9,268.9h0M360.7,269.2h0M364.9,267.2h0M361.8,267.2h0M376.4,269.6h0M374.0,271.0h0M368.2,269.6h0M366.8,275.1h0M371.6,263.9h0M365.2,267.7h0M373.3,272.8h0M375.2,264.9h0M360.5,268.3h0M360.9,271.7h0M362.4,268.0h0M363.0,271.4h0M382.7,269.8h0M363.3,275.2h0M361.2,267.0h0M366.9,269.4h0M366.7,267.4h0M372.7,269.6h0M374.2,274.8h0M367.1,268.8h0M363.9,269.5h0M378.7,271.0h0M362.9,273.8h0M368.9,268.9h0M365.7,271.9h0M364.3,274.7h0M362.2,272.0h0M369.0,272.4h0M370.6,270.2h0M383.3,273.7h0M362.4,267.9h0M366.3,271.8h0M367.1,273.1h0M363.5,269.8h0M366.7,270.8h0M368.0,269.0h0M369.6,266.3h0M368.8,272.0h0M366.7,271.5h0M374.0,266.8h0M378.8,275.5h0M368.9,269.1h0M375.5,269.1h0M365.1,272.9h0M362.4,267.8h0M372.8,271.6h0M369.1,272.5h0M362.1,272.4h0M376.5,269.4h0M372.5,269.7h0M365.6,268.2h0M367.5,270.3h0M373.9,270.3h0M363.8,268.3h0M368.1,272.0h0M365.8,269.0h0M371.0,269.1h0M371.9,273.5h0M391.8,267.4h0M379.5,266.7h0M360.7,272.2h0M362.2,269.7h0M362.8,269.3h0M361.3,270.0h0M378.3,272.7h0M371.7,270.0h0M378.4,269.1h0M362.8,275.0h0M369.1,272.4h0M363.2,272.6h0M363.0,272.8h0M368.3,275.6h0M370.1,272.8h0M366.2,266.8h0M378.6,267.7h0M369.8,274.9h0M362.0,270.3h0M372.0,273.2h0M384.8,267.7h0M365.3,265.7h0M369.9,270.1h0M360.9,270.8h0M361.7,269.8h0M371.6,270.3h0M373.7,271.8h0M362.0,269.0h0M360.8,275.6h0M362.3,270.8h0M361.7,273.1h0M381.2,271.4h0M364.1,268.3h0M361.6,270.3h0M369.6,271.4h0M364.1,269.6h0M380.1,271.2h0M361.7,271.7h0M364.0,271.3h0M363.4,274.2h0M365.1,268.8h0M369.7,270.2h0M364.7,270.1h0M360.5,270.9h0M366.7,269.7h0M366.7,270.0h0M368.0,271.2h0M371.8,266.6h0M376.2,264.0h0M373.0,271.2h0M365.5,272.5h0M388.5,268.9h0M376.7,271.5h0M366.6,273.9h0M361.9,275.2h0M369.3,270.5h0M361.3,271.0h0M379.0,273.3h0M369.5,271.8h0M361.7,270.2h0M366.8,269.8h0M371.2,269.6h0M372.5,268.3h0M370.9,272.0h0M360.4,266.2h0M361.8,266.8h0M367.8,272.5h0M363.3,270.7h0M360.8,269.7h0M367.9,269.7h0M372.7,267.2h0M370.9,268.2h0M362.9,270.1h0M365.6,272.0h0M368.9,268.9h0M367.0,269.6h0M362.3,268.0h0M372.3,273.4h0M370.3,273.8h0M381.1,272.4h0M361.8,270.4h0M372.8,275.3h0M364.0,268.7h0M364.7,267.3h0M360.6,275.1h0M365.3,271.4h0M370.2,266.9h0M360.7,273.8h0M364.4,268.3h0M360.9,274.2h0M364.8,270.3h0M360.4,274.1h0M393.0,268.2h0M375.3,270.3h0M364.9,272.1h0M368.4,272.9h0M387.6,269.1h0M375.4,274.3h0M361.8,269.9h0M367.1,269.3h0M365.8,270.4h0M370.5,268.5h0M366.9,270.4h0M378.0,270.2h0M387.9,266.7h0M382.5,268.4h0M371.8,273.6h0M377.9,266.6h0M366.3,273.2h0M363.4,268.9h0M374.4,273.9h0M367.6,268.0h0M378.1,270.4h0M367.0,271.6h0M364.6,271.7h0M370.4,266.3h0M375.7,269.2h0M366.1,273.0h0M360.8,270.9h0M363.6,272.1h0M364.3,272.6h0M363.2,270.1h0M367.8,268.4h0M362.6,271.9h0M369.9,270.0h0M365.3,270.7h0M367.9,273.0h0M371.0,271.9h0M367.9,267.5h0M370.5,273.1h0M365.3,271.4h0M373.2,270.4h0M364.0,272.7h0M376.5,273.9h0M369.9,273.6h0M364.3,268.0h0M368.5,269.3h0M367.0,266.8h0M374.8,272.1h0M367.9,272.9h0M365.2,273.5h0M369.9,266.8h0M361.9,271.7h0M382.5,271.5h0M374.1,268.9h0M361.8,267.1h0M385.1,267.4h0M361.7,266.0h0M365.5,272.3h0M363.7,267.3h0M372.0,266.7h0M363.5,272.2h0M363.1,269.7h0M368.7,270.5h0M372.7,272.5h0M370.0,267.6h0M381.0,271.9h0M366.7,264.9h0M371.8,267.8h0M373.6,267.3h0M362.3,270.3h0M376.8,270.6h0M366.2,268.4h0M363.1,273.6h0M369.9,266.6h0M365.1,272.0h0M364.9,275.0h0M366.1,271.6h0M365.3,271.4h0M361.9,270.5h0M369.2,271.8h0M367.5,271.0h0M381.0,269.4h0M379.0,272.5h0M377.7,267.0h0M362.3,267.4h0M376.9,269.7h0M383.0,265.3h0M360.7,268.0h0M365.3,268.9h0M371.0,272.6h0M368.0,270.1h0M369.1,267.2h0M368.1,269.4h0M371.7,265.4h0M372.4,267.5h0M368.3,267.3h0M366.8,270.0h0M388.9,268.4h0M363.2,270.5h0M362.9,272.7h0M363.9,269.3h0M361.0,269.2h0M370.1,272.9h0M363.0,275.3h0M374.7,271.8h0M367.7,274.1h0M384.8,270.7h0M375.8,265.6h0M360.4,270.0h0M360.7,268.3h0M365.3,268.5h0M374.0,271.9h0M367.5,271.3h0M366.5,271.1h0M360.4,268.8h0M368.8,270.3h0M365.5,266.5h0M369.2,267.6h0M372.9,274.1h0M371.7,268.7h0M362.0,271.9h0M363.8,272.8h0M363.1,270.7h0M364.8,266.1h0M361.2,271.5h0" fill="none" stroke="#000" stroke-width="0.8" stroke-linecap="square" stroke-opacity="0.95"/>
<path d="M369.9,268.8h0M360.7,269.7h0M369.3,270.3h0M378.3,272.5h0M361.7,269.9h0M367.1,269.3h0M361.4,270.8h0M363.0,275.2h0M364.6,271.4h0M368.1,272.5h0M367.7,274.3h0M371.2,272.5h0M375.2,268.1h0M362.6,273.3h0M361.9,269.3h0M365.8,270.5h0M363.8,270.0h0M361.2,269.4h0M369.5,273.0h0M362.0,270.1h0M362.4,272.7h0M361.4,267.8h0M362.8,267.2h0M361.1,273.9h0M366.4,271.3h0M364.4,270.2h0M361.6,269.7h0M369.6,272.5h0M362.0,274.6h0M362.0,271.7h0M367.8,273.3h0M364.7,268.1h0M366.6,268.7h0M362.6,266.9h0M367.0,269.7h0M362.9,272.7h0M363.1,271.8h0M364.6,272.5h0M371.6,269.6h0M362.5,270.0h0M364.0,270.4h0M364.6,271.9h0M360.6,271.5h0M372.0,271.9h0M368.9,267.8h0M361.6,271.5h0M364.3,269.5h0M366.0,274.2h0M366.1,270.9h0M362.2,272.2h0M363.7,266.4h0M364.8,271.6h0M365.4,271.0h0M368.0,271.4h0M360.6,272.4h0M370.7,273.3h0M365.6,273.4h0M363.5,268.5h0M368.9,275.6h0M364.7,263.6h0M362.7,273.8h0M372.2,272.6h0M366.3,269.3h0M374.0,270.8h0M362.4,272.2h0M362.5,272.8h0M375.0,274.8h0M371.3,269.9h0M367.9,272.0h0M366.2,272.4h0M361.0,266.6h0M367.8,271.2h0M371.1,273.2h0M364.2,272.0h0M365.9,271.5h0M360.9,275.2h0M365.7,273.9h0M361.4,272.3h0M362.5,267.4h0M362.8,268.2h0M363.9,273.7h0M366.0,267.8h0M368.1,269.5h0M361.4,271.9h0M361.1,270.9h0M360.5,273.6h0M363.4,267.9h0M370.4,267.3h0M361.0,273.0h0M364.5,272.7h0M373.6,274.8h0M367.1,270.0h0M373.8,273.0h0M360.7,275.2h0M361.8,273.0h0M365.6,273.4h0M362.2,274.2h0M361.4,269.6h0M365.6,273.3h0M366.1,272.7h0M363.0,272.3h0M367.9,273.8h0M366.9,268.6h0M365.4,269.1h0M367.4,270.7h0M360.8,273.5h0M366.9,271.0h0M361.5,270.1h0M364.6,270.2h0M360.9,273.2h0M367.8,273.3h0M371.1,273.8h0M367.5,275.0h0M371.0,272.8h0M364.3,272.3h0M367.6,269.2h0M361.7,268.5h0M364.4,265.7h0M361.4,265.2h0M363.5,272.8h0M369.5,268.3h0M365.7,269.7h0M373.9,274.1h0M361.5,272.6h0M363.0,273.0h0M365.9,272.4h0M362.0,271.4h0M364.6,273.5h0M367.4,272.1h0M368.2,269.4h0M372.5,269.7h0M361.7,271.3h0M368.3,272.4h0M363.6,269.5h0M367.8,274.1h0M367.4,270.6h0M366.1,273.4h0M369.5,269.6h0M362.5,270.7h0M363.1,269.5h0M365.5,272.3h0M362.8,268.9h0M367.0,272.4h0M361.0,271.6h0M366.4,272.0h0M360.6,271.3h0M369.5,275.0h0M377.9,269.5h0M375.9,269.7h0M362.7,269.1h0M363.8,271.7h0M362.9,268.0h0M361.5,272.6h0M369.9,267.2h0M364.7,270.9h0M364.6,274.6h0M364.3,270.6h0M360.6,272.5h0M361.5,272.8h0M364.5,272.1h0M362.9,269.8h0M361.0,273.6h0M361.4,271.9h0M360.9,271.4h0M361.3,270.6h0M373.9,271.9h0M364.5,270.0h0M366.0,272.7h0M361.3,271.9h0M362.4,272.3h0M361.9,273.2h0M367.5,273.2h0M362.8,273.9h0M363.0,268.7h0M361.0,267.3h0M364.6,271.8h0M370.0,272.2h0M364.0,272.7h0M363.9,272.0h0M366.1,269.6h0M367.5,267.6h0M360.4,272.9h0M364.0,270.1h0M372.8,268.1h0M367.0,271.8h0M372.9,270.0h0M369.5,269.7h0M360.7,272.0h0M374.9,272.0h0M373.3,270.0h0M365.0,270.8h0M365.5,270.9h0M362.6,272.9h0M375.7,271.1h0M364.8,273.4h0M365.6,267.5h0M365.3,269.9h0M361.2,274.0h0M368.5,270.0h0M363.3,270.2h0M374.8,271.0h0M370.8,269.5h0M362.8,268.9h0M364.1,268.0h0M367.7,272.3h0M365.3,266.8h0M366.5,271.1h0M364.0,268.6h0M363.2,269.9h0M365.2,271.6h0M363.7,267.8h0M363.5,271.3h0M365.8,273.6h0M361.3,269.2h0M367.9,272.7h0M365.5,269.6h0M361.1,273.4h0M361.7,275.4h0M367.9,273.7h0M364.8,270.7h0M362.1,274.6h0M369.8,267.4h0M363.2,272.7h0M363.8,272.1h0M368.2,273.6h0M367.9,269.7h0M364.2,273.0h0M363.6,272.7h0M367.2,270.0h0M362.8,272.9h0M367.6,269.3h0M365.0,270.0h0M363.7,275.0h0M369.8,271.6h0M369.2,270.4h0M362.0,271.4h0M361.3,269.8h0M368.7,272.8h0M362.8,269.6h0M366.3,266.6h0M366.8,271.7h0M365.6,267.0h0M366.1,266.4h0M363.6,265.6h0M360.4,274.7h0M361.2,272.4h0M361.9,273.1h0M376.8,268.4h0M360.6,269.1h0M361.4,270.5h0M362.7,271.3h0M362.8,272.7h0M364.8,269.3h0M364.8,269.1h0M364.5,272.8h0M367.2,272.0h0M376.9,269.4h0M363.0,270.8h0M371.9,272.8h0M361.7,271.9h0M361.1,272.2h0M361.0,267.6h0M362.4,271.2h0M363.7,267.3h0M361.5,272.1h0M371.8,270.7h0M364.1,271.9h0M362.5,270.1h0M363.8,271.8h0M366.6,272.7h0M372.5,270.1h0M366.4,271.3h0M367.8,272.5h0M363.3,273.0h0M369.6,270.6h0M364.7,268.5h0M363.3,274.6h0M363.1,271.1h0M363.5,269.5h0M363.2,274.4h0M362.7,270.1h0M362.8,273.8h0M362.5,273.9h0M361.8,271.2h0M364.3,271.9h0M364.7,273.9h0M367.3,270.4h0M369.8,270.0h0M371.1,266.6h0M362.4,272.5h0M368.0,269.7h0M363.1,270.4h0M361.1,270.1h0M362.6,272.1h0M364.7,273.1h0M368.8,266.7h0M368.1,272.5h0M365.8,272.5h0M360.4,271.5h0M360.7,274.9h0M363.3,267.9h0M366.6,272.1h0M362.2,272.8h0M369.0,271.2h0M367.0,272.9h0M365.8,271.3h0M366.3,272.5h0M371.3,268.4h0M362.1,273.7h0M365.2,273.2h0M367.6,271.4h0M361.4,271.3h0M364.8,273.5h0M365.8,271.6h0M365.8,271.9h0M362.1,272.1h0M364.1,270.3h0M370.4,270.5h0M367.9,271.5h0M369.3,267.6h0M364.9,267.2h0M362.8,269.9h0M364.6,267.7h0M375.1,271.7h0M373.9,272.8h0M365.4,273.5h0M361.5,269.9h0M361.5,271.3h0M376.2,272.5h0M361.7,273.6h0M371.3,274.9h0M373.1,271.1h0M361.4,273.8h0M360.5,274.3h0M362.6,268.4h0M365.2,270.2h0M361.6,271.1h0M365.2,274.2h0M372.8,270.5h0M368.5,272.1h0M365.8,268.7h0M370.5,267.9h0M364.3,274.4h0M365.4,274.0h0M363.6,269.3h0M363.5,271.0h0M360.5,267.9h0M367.5,271.5h0M367.8,273.2h0M363.6,270.9h0M368.1,270.0h0M364.1,270.0h0M363.6,272.9h0M364.6,271.6h0M366.8,271.3h0M360.6,270.0h0M362.5,273.9h0M362.5,269.4h0M361.3,272.4h0M364.5,272.9h0M361.7,269.6h0M366.1,274.5h0M360.8,271.9h0M374.5,270.4h0M362.5,273.0h0M364.7,271.6h0M363.4,266.6h0M361.9,269.0h0M368.5,266.7h0M364.3,274.4h0M362.2,269.0h0M360.7,269.3h0M367.5,272.3h0M366.7,272.4h0M365.5,268.8h0M360.8,272.8h0M367.6,270.3h0M363.6,270.4h0M367.3,271.8h0M363.3,272.3h0M366.4,273.2h0M362.3,273.1h0M375.6,270.3h0M366.3,271.5h0M368.0,271.8h0M362.1,272.2h0M369.2,271.8h0M366.6,274.3h0M361.9,270.6h0M367.9,272.1h0M366.9,269.4h0M361.1,273.3h0M361.7,269.0h0M365.0,271.0h0M365.5,269.3h0M371.2,271.3h0M366.6,264.8h0M369.8,270.0h0M365.3,271.6h0M362.3,269.0h0M361.8,272.3h0M368.4,269.0h0M360.8,269.9h0M362.9,274.4h0M369.7,274.7h0M368.6,269.8h0M361.0,274.2h0M361.0,269.1h0M365.6,268.7h0M369.8,269.1h0M364.3,268.7h0M367.1,269.3h0M362.4,269.4h0M366.8,273.1h0M362.5,272.5h0M365.4,270.3h0M369.4,271.1h0M364.9,272.4h0M366.1,273.0h0M365.9,270.9h0M363.6,269.0h0M364.5,268.1h0M361.0,275.6h0M365.0,271.6h0M376.1,272.3h0M372.5,270.3h0M363.2,271.2h0M361.4,271.0h0M363.8,267.4h0M370.6,274.5h0M361.1,268.6h0M361.1,272.6h0M367.6,272.6h0M364.5,271.0h0M362.9,271.1h0M363.4,274.5h0M364.9,273.5h0M369.3,274.8h0M375.0,268.3h0M362.3,274.7h0M376.1,273.9h0M361.0,270.7h0M362.3,272.1h0M361.8,269.3h0M360.7,270.9h0M366.6,270.6h0M373.3,273.6h0M372.1,264.9h0M366.1,268.8h0M365.5,273.1h0M367.0,269.5h0M365.0,269.3h0M361.0,271.5h0M361.2,272.7h0M362.2,271.7h0M361.1,263.7h0M364.3,267.1h0M363.5,275.6h0M369.7,274.3h0M360.8,273.2h0M364.9,271.0h0M360.9,274.9h0M364.9,264.9h0M363.8,269.5h0M368.8,271.8h0M372.5,268.4h0M375.5,268.8h0M367.3,271.6h0M366.0,271.6h0M361.3,271.3h0M363.3,271.7h0M363.1,270.7h0M366.7,269.9h0M365.5,271.9h0M367.0,270.7h0M362.5,270.9h0M367.1,269.2h0M363.5,274.0h0M372.9,269.3h0M366.2,269.4h0M360.4,268.7h0M362.0,269.1h0M370.3,270.0h0M367.9,269.7h0M364.9,272.7h0M364.3,269.2h0M366.3,272.1h0M362.7,274.4h0M363.4,270.2h0M365.1,269.0h0M366.6,268.7h0M361.1,271.4h0M365.5,273.4h0M370.6,267.4h0M365.5,268.5h0M367.2,274.6h0M369.6,274.7h0M367.5,271.4h0M363.2,268.6h0M363.6,271.2h0M368.4,272.5h0M361.0,272.9h0M368.3,271.2h0M362.0,273.4h0M361.1,273.0h0M360.9,269.1h0M374.1,275.2h0M362.6,270.6h0M366.0,269.1h0M367.3,271.0h0M361.1,271.4h0M364.6,270.5h0M363.7,270.1h0M364.7,269.9h0M363.9,267.8h0M368.1,270.0h0M363.6,272.6h0M360.6,272.3h0M362.1,273.2h0M360.7,271.0h0M368.1,271.2h0M365.8,274.2h0M363.2,274.9h0M366.8,275.4h0M361.5,272.2h0M362.9,272.5h0M364.2,272.7h0M366.5,270.8h0M368.9,273.6h0M362.8,271.7h0M364.3,269.8h0M362.2,272.6h0M361.1,264.9h0M368.6,273.4h0M364.6,271.6h0M362.7,273.2h0M360.4,275.3h0M365.8,272.5h0M360.5,270.7h0M369.1,270.5h0M362.8,270.0h0M364.0,275.5h0M361.5,271.2h0M362.1,269.8h0M368.1,272.7h0M370.6,273.7h0M363.3,269.7h0M365.1,273.4h0M360.4,270.6h0M361.3,270.1h0M363.2,272.2h0M367.4,272.6h0M369.0,269.1h0M369.7,271.0h0M364.0,273.5h0M366.8,270.5h0M372.3,272.8h0M370.9,271.0h0M363.8,269.7h0M364.5,272.0h0M371.4,271.3h0M361.8,266.2h0M361.3,269.3h0M367.4,272.1h0M366.7,275.3h0M367.1,269.7h0M361.9,267.6h0M367.3,270.9h0M371.5,270.1h0M377.6,268.3h0M367.0,274.4h0M365.8,270.6h0M366.3,273.4h0M363.1,270.2h0M375.7,267.2h0M363.2,274.0h0M366.2,271.4h0M364.1,272.5h0M372.0,269.7h0M367.6,270.4h0M362.7,271.3h0M368.0,272.6h0M362.7,271.2h0M361.5,270.7h0M364.6,271.0h0M363.5,268.2h0M362.3,273.7h0M364.0,271.9h0M362.2,271.8h0M364.9,265.3h0M366.7,270.6h0M364.0,271.1h0M361.0,267.7h0M365.4,272.6h0M367.6,273.7h0M373.4,271.7h0M371.7,273.0h0M363.2,273.9h0M364.0,266.0h0M363.0,270.3h0M361.8,268.9h0M363.9,273.5h0M361.5,271.1h0M362.9,268.5h0M365.8,269.5h0M368.1,273.5h0M360.9,272.0h0M366.6,275.1h0M368.4,275.5h0M369.3,275.5h0M369.4,272.3h0M368.9,270.6h0M364.5,270.5h0M368.8,271.1h0M362.1,269.6h0M370.7,271.2h0M364.8,271.5h0M366.4,269.2h0M373.8,270.9h0M360.4,267.6h0M366.4,275.0h0M361.0,270.2h0M363.1,271.7h0M362.5,275.1h0M361.4,267.7h0M370.8,275.2h0M363.1,272.6h0M365.1,271.9h0M361.4,266.9h0M360.6,269.2h0M365.3,270.3h0M368.0,270.4h0M367.6,274.9h0M364.7,267.6h0M364.3,272.2h0M360.4,267.1h0M371.5,267.6h0M364.5,272.0h0M365.8,271.6h0M368.7,274.0h0M364.9,274.5h0M361.5,271.0h0M373.4,270.9h0M368.0,267.7h0M373.9,265.5h0M367.0,271.8h0M363.9,274.9h0M363.0,274.5h0M361.0,270.9h0M364.7,269.9h0M360.5,274.6h0M363.4,270.1h0M361.0,270.4h0M373.1,272.9h0M374.5,268.8h0M371.0,271.1h0M367.6,270.1h0M375.6,270.0h0M367.2,270.7h0M362.8,274.0h0M370.8,273.2h0M368.3,269.7h0M367.3,272.7h0M365.9,273.3h0M364.4,268.1h0M364.1,271.5h0M372.3,269.3h0M362.5,271.3h0M363.3,269.2h0M365.4,272.6h0M360.9,272.5h0M365.0,269.0h0M370.2,272.9h0M364.2,271.2h0M361.3,274.2h0M365.0,268.4h0M360.5,269.1h0M361.3,268.2h0M360.4,272.4h0M369.2,268.1h0M371.8,270.0h0M364.2,268.5h0M360.5,273.2h0M363.7,269.8h0M368.5,271.5h0M363.5,271.4h0M363.9,275.2h0M361.0,270.3h0M366.2,274.8h0M371.6,268.8h0M360.6,270.2h0M361.6,267.6h0M375.3,272.7h0M362.3,273.7h0M368.5,270.8h0M362.5,270.9h0M365.1,269.0h0M366.6,272.8h0M362.9,273.5h0M362.4,267.5h0" fill="none" stroke="#000" stroke-width="0.9" stroke-linecap="square" stroke-opacity="1"/>
<path d="M378.5,267.5h0M386.4,274.1h0M378.9,267.6h0M377.0,267.9h0M386.9,269.4h0M387.3,269.2h0M392.2,271.5h0M378.2,270.4h0M376.7,269.4h0M388.1,268.5h0M391.1,269.5h0M376.5,269.1h0M382.6,268.0h0M389.6,269.6h0M377.5,268.1h0M386.8,267.6h0M377.9,271.1h0M380.3,275.0h0M383.4,264.3h0M385.1,261.6h0M377.7,267.3h0M385.7,265.6h0M382.3,269.0h0M385.0,267.8h0M385.0,271.9h0M379.8,266.9h0M382.2,266.9h0M376.8,267.8h0M392.6,267.0h0M378.3,269.2h0M376.0,270.0h0M385.3,267.9h0M391.8,268.6h0M380.6,265.9h0M387.2,269.0h0M379.6,267.4h0M382.7,264.9h0M385.8,265.8h0M380.3,268.6h0M377.5,267.7h0M375.9,266.5h0M383.6,267.3h0M385.1,269.1h0M385.7,269.9h0M382.6,263.8h0M383.7,268.7h0M388.4,270.8h0M376.6,269.9h0M379.1,269.7h0M378.4,270.9h0M391.6,267.6h0M376.9,270.7h0M382.0,269.3h0M390.9,265.6h0M386.2,267.1h0M389.9,266.5h0M383.4,269.6h0M389.3,269.6h0M376.7,270.3h0M387.3,271.2h0M383.6,267.3h0M385.8,266.6h0M376.4,263.9h0M385.5,271.7h0M381.5,264.4h0M383.6,264.4h0M382.8,270.5h0M379.6,265.0h0M387.1,267.8h0M389.4,270.3h0" fill="none" stroke="#000" stroke-width="0.65" stroke-linecap="square" stroke-opacity="0.6"/>
<rect x="359.4" y="233.5" width="60.2" height="42.7" fill="none" stroke="#6a6a6a" stroke-width="0.8"/>
<line x1="386.3" y1="233.5" x2="386.3" y2="276.2" stroke="#444" stroke-width="0.8"/>
<line x1="359.4" y1="257.3" x2="419.6" y2="257.3" stroke="#444" stroke-width="0.8"/>
<line x1="359.4" y1="276.2" x2="359.4" y2="277.8" stroke="#555" stroke-width="0.6"/>
<text x="359.7" y="280.4" font-family="Liberation Serif, serif" font-size="3.4" text-anchor="middle" fill="#222" transform="rotate(-20 359.7 280.4)">10</text>
<line x1="357.8" y1="276.2" x2="359.4" y2="276.2" stroke="#555" stroke-width="0.6"/>
<text x="357.6" y="277.4" font-family="Liberation Serif, serif" font-size="3.4" text-anchor="end" fill="#222" transform="rotate(-20 357.6 277.4)">10</text>
<line x1="374.45" y1="276.2" x2="374.45" y2="277.8" stroke="#555" stroke-width="0.6"/>
<text x="374.75" y="280.4" font-family="Liberation Serif, serif" font-size="3.4" text-anchor="middle" fill="#222" transform="rotate(-20 374.75 280.4)">10</text>
<line x1="357.8" y1="265.52" x2="359.4" y2="265.52" stroke="#555" stroke-width="0.6"/>
<text x="357.6" y="266.72" font-family="Liberation Serif, serif" font-size="3.4" text-anchor="end" fill="#222" transform="rotate(-20 357.6 266.72)">10</text>
<line x1="389.5" y1="276.2" x2="389.5" y2="277.8" stroke="#555" stroke-width="0.6"/>
<text x="389.8" y="280.4" font-family="Liberation Serif, serif" font-size="3.4" text-anchor="middle" fill="#222" transform="rotate(-20 389.8 280.4)">10</text>
<line x1="357.8" y1="254.85" x2="359.4" y2="254.85" stroke="#555" stroke-width="0.6"/>
<text x="357.6" y="256.05" font-family="Liberation Serif, serif" font-size="3.4" text-anchor="end" fill="#222" transform="rotate(-20 357.6 256.05)">10</text>
<line x1="404.55" y1="276.2" x2="404.55" y2="277.8" stroke="#555" stroke-width="0.6"/>
<text x="404.85" y="280.4" font-family="Liberation Serif, serif" font-size="3.4" text-anchor="middle" fill="#222" transform="rotate(-20 404.85 280.4)">10</text>
<line x1="357.8" y1="244.18" x2="359.4" y2="244.18" stroke="#555" stroke-width="0.6"/>
<text x="357.6" y="245.38" font-family="Liberation Serif, serif" font-size="3.4" text-anchor="end" fill="#222" transform="rotate(-20 357.6 245.38)">10</text>
<line x1="419.6" y1="276.2" x2="419.6" y2="277.8" stroke="#555" stroke-width="0.6"/>
<text x="419.9" y="280.4" font-family="Liberation Serif, serif" font-size="3.4" text-anchor="middle" fill="#222" transform="rotate(-20 419.9 280.4)">10</text>
<line x1="357.8" y1="233.5" x2="359.4" y2="233.5" stroke="#555" stroke-width="0.6"/>
<text x="357.6" y="234.7" font-family="Liberation Serif, serif" font-size="3.4" text-anchor="end" fill="#222" transform="rotate(-20 357.6 234.7)">10</text>
<text x="388" y="282.8" font-family="Liberation Serif, serif" font-size="3" text-anchor="middle" fill="#333">FL1-H</text>
<text x="354.8" y="259.35" font-family="Liberation Serif, serif" font-size="3" text-anchor="middle" fill="#333" transform="rotate(-90 354.8 259.35)">FL2-H</text>
<text x="396.6" y="270.9" font-family="Liberation Serif, serif" font-size="6.5" font-weight="bold" text-anchor="start" fill="#000" stroke="#000" stroke-width="0.15">1%</text>
<polygon points="429.9,266.6 439.9,266 445.9,269.2 445.9,274.8 429.9,274.8" fill="#000" filter="url(#bl)" opacity="0.85"/>
<path d="M444.9,274.6h0M450.8,270.2h0M437.2,272.5h0M450.1,270.9h0M439.1,268.4h0M457.0,270.9h0M436.6,272.1h0M445.1,274.7h0M433.9,267.6h0M432.4,265.7h0M432.3,269.7h0M442.5,265.8h0M440.8,270.8h0M434.0,269.3h0M432.3,274.9h0M435.0,270.6h0M436.1,267.8h0M435.9,271.0h0M435.3,274.5h0M436.6,272.5h0M442.6,267.1h0M449.8,269.6h0M434.7,273.9h0M440.3,268.2h0M438.3,268.9h0M431.0,274.9h0M440.9,267.4h0M444.2,264.4h0M430.1,274.5h0M436.9,267.1h0M442.4,270.2h0M432.7,269.1h0M453.3,274.3h0M442.4,271.2h0M446.5,266.9h0M451.4,271.3h0M432.8,268.2h0M436.5,269.1h0M441.3,271.3h0M438.3,271.1h0M445.2,264.1h0M431.8,272.4h0M436.7,272.9h0M441.8,274.1h0M437.0,273.3h0M431.9,274.7h0M438.9,272.5h0M430.9,270.5h0M431.2,271.9h0M437.9,267.0h0M435.5,273.4h0M431.6,267.2h0M432.8,271.1h0M436.9,269.2h0M444.0,271.3h0M445.8,267.7h0M432.9,266.2h0M434.8,268.4h0M430.1,270.5h0M433.7,268.0h0M448.1,269.4h0M445.5,271.3h0M442.3,268.3h0M437.3,270.6h0M430.6,275.1h0M442.6,268.3h0M430.6,267.1h0M434.7,272.3h0M445.1,267.8h0M443.9,272.1h0M434.4,272.7h0M435.1,273.1h0M434.2,270.1h0M431.0,270.7h0M430.9,268.4h0M437.8,269.6h0M445.7,270.7h0M443.8,273.6h0M435.5,268.1h0M438.2,267.0h0M433.1,272.3h0M437.6,267.6h0M435.8,271.1h0M433.9,271.2h0M440.2,269.9h0M434.7,275.0h0M430.1,269.9h0M456.8,264.5h0M453.7,264.7h0M430.6,272.8h0M433.4,272.5h0M434.1,272.5h0M449.0,269.8h0M430.2,270.2h0M431.4,267.0h0M429.9,271.3h0M433.4,269.6h0M430.0,273.3h0M437.1,264.3h0M447.4,267.3h0M436.5,268.0h0M437.0,271.2h0M433.1,271.8h0M435.9,272.4h0M438.1,271.2h0M434.6,269.1h0M450.3,269.5h0M446.6,270.4h0M432.3,270.6h0M444.3,267.1h0M451.3,273.8h0M443.0,268.4h0M430.4,271.6h0M434.4,266.6h0M431.0,271.5h0M437.8,269.4h0M441.6,274.8h0M434.6,270.1h0M435.1,266.6h0M453.5,266.8h0M444.8,270.7h0M438.1,271.3h0M433.2,273.5h0M435.0,270.6h0M431.1,270.1h0M430.0,274.5h0M439.1,270.8h0M436.0,266.5h0M434.3,271.8h0M429.8,265.5h0M439.3,271.8h0M445.2,268.8h0M435.5,275.4h0M444.4,267.0h0M444.9,268.8h0M434.0,268.7h0M431.3,273.5h0M435.0,267.3h0M458.8,268.4h0M439.6,266.8h0M445.4,270.6h0M440.3,272.2h0M434.3,273.0h0M444.6,272.4h0M433.6,272.2h0M437.2,268.1h0M431.3,270.5h0M448.3,271.7h0M430.1,268.4h0M440.3,270.1h0M434.1,270.7h0M432.9,272.9h0M445.0,268.6h0M435.2,268.8h0M430.7,271.3h0M432.6,268.3h0M431.7,272.6h0M435.8,270.7h0M432.1,272.0h0M434.5,273.8h0M432.2,272.0h0M432.3,270.1h0M437.3,271.7h0M438.0,271.3h0M444.8,271.6h0M430.4,273.6h0M441.9,268.0h0M436.6,271.2h0M435.2,264.6h0M438.2,272.7h0M437.5,270.8h0M430.2,272.8h0M441.6,264.4h0M437.7,274.9h0M434.2,274.1h0M443.8,269.8h0M433.3,267.6h0M446.3,270.2h0M443.4,270.7h0M431.6,272.3h0M431.5,270.6h0M435.1,274.0h0M461.3,268.5h0M433.1,270.2h0M440.1,263.1h0M430.5,264.3h0M440.6,272.9h0M437.2,266.1h0M433.9,265.8h0M439.6,274.5h0M451.8,265.7h0M436.3,273.9h0M441.2,266.8h0M431.7,269.4h0M434.9,272.6h0M431.4,270.3h0M432.7,269.6h0M432.7,272.8h0M445.7,268.7h0M436.9,269.9h0M447.6,272.6h0M449.7,266.5h0M431.0,269.5h0M434.6,272.1h0M438.0,271.2h0M444.2,265.7h0M439.9,269.7h0M447.6,265.3h0M430.8,268.4h0M442.1,266.9h0M436.2,273.2h0M435.0,271.5h0M432.3,268.6h0M433.1,268.0h0M431.9,268.7h0M443.1,272.3h0M430.1,272.8h0M441.8,271.0h0M442.3,267.6h0M440.2,271.5h0M434.3,269.9h0M434.1,274.2h0M443.0,268.8h0M431.9,269.0h0M431.7,271.4h0M430.4,269.0h0M437.5,266.7h0M432.0,267.4h0M429.9,271.7h0M431.2,270.6h0M447.8,269.3h0M437.0,272.8h0M435.6,270.2h0M434.1,274.2h0M432.6,272.2h0M433.9,269.9h0M439.5,269.2h0M437.6,270.9h0M431.0,270.5h0M438.1,269.9h0M444.6,275.5h0M433.4,271.9h0M438.8,270.8h0M435.6,273.9h0M440.1,269.5h0M439.6,271.1h0M436.5,268.3h0M437.2,271.3h0M431.2,273.4h0M436.3,274.2h0M430.4,270.1h0M441.7,274.2h0M442.9,266.8h0M436.9,274.3h0M443.8,272.0h0M436.3,268.1h0M433.7,264.3h0M441.7,267.8h0M437.2,268.8h0M432.1,269.5h0M434.1,271.0h0M442.9,272.4h0M436.2,271.4h0M438.1,269.8h0M441.6,269.5h0M431.0,265.2h0M450.9,266.3h0M432.5,272.2h0M433.7,271.3h0M430.8,270.1h0M439.4,271.0h0M430.2,270.1h0M434.6,264.0h0M432.9,273.4h0M430.3,268.6h0M449.8,262.3h0M431.8,273.8h0M437.9,273.2h0M451.9,274.1h0M434.5,262.4h0M437.1,265.9h0M441.3,273.0h0M437.2,272.2h0M455.6,265.8h0M435.5,273.4h0M441.9,272.4h0M436.6,269.4h0M438.2,268.4h0M432.5,266.5h0M442.3,269.8h0M445.1,267.6h0M430.2,271.8h0M436.0,266.8h0M429.8,266.1h0M445.9,265.0h0M449.5,267.9h0M435.7,271.2h0M444.5,268.8h0M432.9,271.5h0M432.9,270.1h0M435.7,269.4h0M433.6,267.3h0M430.6,273.3h0M430.5,274.3h0M432.1,274.2h0M430.9,272.2h0M432.5,268.8h0M440.0,269.5h0M431.1,275.2h0M438.0,269.0h0M430.8,268.5h0M438.7,270.4h0M430.7,271.0h0M444.0,269.1h0M432.3,273.5h0M438.2,271.9h0M434.7,273.8h0M431.0,270.3h0M435.8,269.2h0M437.1,270.8h0M434.8,268.2h0M439.2,269.1h0M434.3,270.6h0M440.8,270.0h0M439.7,274.9h0M434.9,275.3h0M434.4,271.3h0M437.4,269.5h0M440.7,269.1h0M435.3,266.9h0M431.6,272.2h0M435.8,269.8h0M430.2,267.3h0M433.2,275.4h0M441.6,269.6h0M441.1,269.7h0M441.4,270.6h0M443.9,274.9h0M456.3,268.4h0M435.2,272.9h0M433.2,270.8h0M430.5,270.3h0M431.7,273.7h0M436.6,269.6h0M446.1,270.1h0M431.7,269.5h0M448.7,267.5h0M447.8,267.9h0M445.4,268.8h0M440.5,273.1h0M435.6,272.6h0M431.5,271.9h0M436.4,266.3h0M442.4,270.4h0M442.8,270.7h0M435.2,273.6h0M438.7,270.6h0M432.4,275.2h0M444.3,274.0h0M432.4,272.1h0M434.1,271.0h0M437.2,273.2h0M436.3,269.7h0M435.2,273.6h0M441.1,271.3h0M432.6,269.5h0M433.6,270.8h0M434.4,266.7h0M435.2,272.6h0M444.0,272.4h0M432.4,271.2h0M432.1,274.6h0M449.9,271.6h0M436.6,267.0h0M456.5,269.2h0M433.2,270.0h0M434.6,271.6h0M439.3,268.3h0M433.4,271.4h0M444.1,270.9h0M439.7,272.1h0M440.6,267.2h0M432.6,268.1h0M439.8,275.2h0M436.7,271.0h0M434.9,274.0h0M433.3,269.9h0M443.5,269.8h0M431.4,269.9h0M431.0,268.8h0M433.9,271.6h0M437.8,267.4h0M434.6,267.7h0M438.0,272.2h0M434.0,271.3h0M429.8,271.0h0M432.2,271.3h0M432.7,262.6h0M439.6,270.9h0M437.7,270.2h0M438.9,269.2h0M438.7,266.2h0M430.2,271.1h0M441.1,273.2h0M440.9,269.7h0M438.5,271.9h0M431.5,270.5h0M452.1,266.1h0M430.9,271.0h0M432.1,272.2h0M432.4,265.4h0M454.0,267.7h0M430.8,272.7h0M438.4,272.4h0M429.8,268.7h0M431.1,273.1h0M441.9,272.6h0M434.0,264.2h0M435.8,271.5h0M448.7,274.4h0M445.9,271.1h0M435.4,268.0h0M442.8,273.4h0M450.8,263.2h0M450.9,270.2h0M438.3,267.8h0M432.4,269.9h0M432.1,273.9h0M432.7,269.2h0M430.6,269.8h0M436.7,273.0h0M432.6,267.6h0M439.2,267.0h0M439.3,272.6h0M446.1,273.5h0M432.0,272.4h0M430.1,273.0h0M435.7,266.8h0M430.1,273.8h0M450.9,265.5h0M465.4,272.3h0M445.5,270.8h0M447.1,267.6h0M435.3,270.0h0M434.8,269.3h0M437.8,273.6h0M432.2,272.6h0M433.3,269.8h0M437.0,268.5h0M450.7,270.7h0M430.3,266.3h0M448.8,270.3h0M429.9,270.9h0M432.4,275.1h0M438.7,268.0h0M433.2,270.0h0M431.8,269.0h0M440.0,269.1h0M430.6,268.2h0M437.3,274.7h0M433.1,268.4h0M431.6,268.8h0M436.6,270.6h0M435.9,272.9h0M437.5,271.7h0M435.4,272.6h0M452.3,269.4h0M434.9,268.8h0M432.8,271.7h0M443.1,267.2h0M431.4,265.0h0M435.0,271.6h0M438.7,271.9h0M430.3,269.8h0M433.8,271.2h0M432.8,274.1h0M444.5,264.9h0M433.1,272.5h0M436.1,271.3h0M430.3,271.0h0M439.6,272.6h0M451.8,271.2h0M434.3,270.8h0M439.7,273.7h0M447.1,269.4h0M430.7,273.4h0M440.1,271.5h0M431.0,272.4h0M451.1,270.6h0M458.5,268.1h0M441.5,273.1h0M431.2,272.2h0M439.2,270.4h0M433.6,267.6h0M431.0,274.0h0M436.5,270.1h0M452.7,271.6h0M460.0,271.8h0M430.7,269.5h0M443.9,268.1h0M436.2,271.2h0M433.5,269.3h0M435.6,271.0h0M453.3,273.2h0M440.1,268.5h0M441.1,267.6h0M436.7,269.2h0M433.1,274.4h0M449.0,267.5h0M438.6,270.6h0M432.6,270.4h0M448.2,270.0h0M434.3,270.5h0M433.5,273.7h0M450.8,265.3h0M434.1,271.6h0M448.4,270.3h0M439.9,270.8h0M432.5,268.1h0M431.5,271.8h0M430.7,267.7h0M445.3,269.1h0M430.7,268.2h0M445.4,274.6h0M446.0,272.1h0M442.4,271.0h0M432.9,273.0h0M450.4,271.8h0M431.4,270.1h0M435.0,272.4h0M441.9,270.8h0M439.5,266.9h0M459.0,269.1h0M432.9,273.0h0M431.2,274.5h0M435.1,270.9h0M457.1,269.7h0M440.3,267.7h0M437.7,268.1h0M446.0,270.1h0M434.0,274.2h0M438.6,270.4h0M436.4,270.6h0M433.0,269.7h0M433.2,271.1h0M434.4,270.4h0M430.7,270.5h0M432.9,268.7h0M438.8,269.7h0M439.4,273.6h0M438.0,270.8h0M436.1,269.6h0M430.2,272.1h0M430.4,272.8h0M435.7,273.0h0M443.2,271.3h0M444.9,268.8h0M438.7,268.4h0M433.3,269.6h0M430.1,271.4h0M448.0,266.9h0M446.7,272.8h0M452.3,267.3h0M437.5,269.1h0M431.8,273.6h0M441.2,269.5h0M431.3,271.3h0M447.7,274.0h0M446.1,272.3h0M449.5,266.0h0M431.1,267.7h0M435.7,266.4h0M444.1,271.5h0M431.9,269.5h0M435.1,273.3h0M429.9,272.2h0M436.5,273.0h0M448.4,270.3h0M437.2,271.6h0M429.9,273.3h0M443.3,267.7h0M444.9,271.9h0M447.0,267.8h0M432.2,266.3h0M439.5,270.8h0M444.6,273.5h0M442.1,275.5h0M433.1,272.1h0M432.0,269.2h0M437.2,272.7h0M438.3,268.0h0M439.4,266.3h0M444.1,269.3h0M440.8,271.7h0M441.2,274.5h0M445.3,268.8h0M436.6,266.8h0M438.5,268.5h0M437.0,265.2h0M449.2,270.2h0M430.9,272.5h0M437.8,267.8h0M443.6,269.3h0M430.1,272.3h0M436.2,269.4h0M436.3,273.4h0M432.6,267.3h0M447.3,271.3h0M434.0,268.6h0M440.6,268.8h0M430.3,269.8h0M436.0,274.8h0M436.4,266.7h0M430.7,270.3h0M431.7,270.2h0M430.2,273.2h0M434.5,270.7h0M435.0,271.3h0M434.7,272.8h0M444.1,273.3h0M436.7,270.9h0M438.2,268.8h0M438.3,269.7h0M442.6,269.8h0M456.0,274.0h0M445.1,272.8h0M439.5,270.3h0M443.3,265.1h0M443.9,270.5h0M430.1,267.7h0M443.6,272.6h0M436.4,273.1h0M432.1,268.2h0M432.8,267.5h0M434.2,269.1h0M431.9,267.0h0M438.0,270.4h0M444.7,272.8h0M430.8,275.5h0M433.5,269.4h0M431.0,268.7h0M431.2,273.4h0M432.5,267.0h0M441.7,273.0h0M432.4,269.2h0M438.2,268.0h0M443.5,266.1h0M432.5,273.8h0M430.3,270.5h0M440.0,272.5h0M441.6,271.3h0M432.5,269.7h0M431.4,268.7h0M439.9,271.9h0M437.8,272.7h0M435.4,273.2h0M432.7,273.6h0M442.3,267.8h0M443.8,273.9h0M432.8,271.6h0M443.1,271.8h0M440.7,273.7h0M437.1,275.1h0M447.4,267.9h0M439.9,271.4h0M439.9,269.8h0M435.3,273.9h0M434.5,271.8h0M460.8,273.6h0M450.1,274.4h0M436.8,267.1h0M441.7,268.4h0M430.6,267.9h0M435.9,265.3h0M454.3,269.5h0M444.5,270.9h0M445.6,272.0h0M435.0,271.3h0M434.2,269.0h0M438.2,268.9h0M440.4,269.3h0M430.5,268.4h0M437.4,270.4h0M432.4,271.9h0M430.4,273.1h0M432.0,269.4h0M432.6,269.9h0M441.5,266.8h0M450.5,265.3h0M435.4,270.3h0M434.4,270.8h0M442.8,271.0h0M431.8,270.0h0M434.0,271.2h0M445.9,274.8h0M430.4,270.1h0M435.4,269.7h0M431.3,273.2h0M430.0,273.2h0M431.4,273.3h0M441.2,268.4h0M430.9,268.7h0M443.3,270.8h0M432.6,272.5h0M451.2,273.2h0M443.4,267.7h0M442.5,271.1h0M436.3,265.4h0M430.0,270.1h0M431.7,270.8h0M431.3,267.9h0M452.7,266.8h0M429.9,269.8h0M433.0,269.7h0M434.7,271.3h0M430.9,271.7h0M434.3,270.4h0M433.5,274.2h0M439.7,267.5h0M440.0,264.7h0M430.0,272.7h0M453.2,269.3h0M436.3,271.6h0M433.0,269.8h0M434.6,269.2h0M430.5,269.5h0M443.5,270.1h0M449.3,267.9h0M445.9,270.9h0M437.5,267.9h0M437.2,271.4h0M432.4,266.3h0M435.3,267.8h0M432.1,270.9h0M432.5,270.6h0M433.9,269.7h0M430.1,270.4h0M432.5,269.0h0M441.7,270.2h0M450.1,269.2h0M430.6,271.6h0M431.7,273.4h0M433.0,270.2h0M444.8,267.4h0M430.6,262.9h0M444.9,271.4h0M433.9,269.4h0M435.8,271.6h0M440.4,269.0h0M433.7,268.9h0M443.8,267.5h0M434.3,272.5h0M442.5,272.1h0M435.7,271.6h0M433.7,272.9h0M439.8,272.9h0M433.9,272.3h0M431.6,269.1h0M443.7,264.8h0M438.9,274.7h0M439.0,267.9h0M442.7,267.9h0M444.6,265.0h0M434.5,271.0h0M446.6,270.2h0M450.9,270.7h0M437.7,270.1h0M434.1,274.1h0M434.6,270.8h0M437.7,271.5h0M436.3,271.2h0M436.6,266.4h0M436.3,267.6h0M430.3,266.1h0M431.0,268.6h0M447.3,267.6h0M430.0,273.5h0M444.0,270.4h0M438.4,272.4h0M431.8,272.1h0M437.0,269.0h0M446.4,268.8h0M440.1,268.7h0M441.1,266.3h0M434.6,273.8h0M430.6,272.6h0M433.5,275.4h0M440.0,269.2h0M432.8,272.3h0M433.3,273.2h0M439.4,268.2h0M444.5,270.3h0M434.3,273.0h0M433.4,271.1h0M434.5,274.0h0M436.4,269.3h0M442.1,271.8h0M430.3,271.1h0M446.4,269.0h0M438.3,269.5h0M432.4,265.6h0M431.7,270.3h0M431.4,273.5h0M442.5,271.5h0M432.7,272.6h0M440.3,270.7h0M435.5,272.0h0M449.9,270.4h0M431.6,274.0h0M432.5,270.4h0M447.9,268.5h0M430.9,274.7h0M431.9,267.4h0M437.7,273.0h0M435.4,268.1h0M431.3,266.4h0M429.9,268.1h0M433.7,272.1h0M433.7,274.1h0M438.2,271.3h0M437.6,273.2h0M435.7,275.4h0M438.9,271.4h0M430.2,265.8h0M449.3,273.9h0M439.6,268.0h0M433.1,272.3h0M431.2,270.0h0M434.3,269.1h0M435.4,274.1h0M432.6,271.4h0M440.9,274.1h0M443.8,273.2h0M430.4,270.8h0M437.6,273.6h0M430.0,272.4h0M439.1,270.4h0M435.9,268.2h0M437.3,270.4h0M444.7,270.8h0M436.7,265.7h0M434.8,271.7h0M438.2,270.8h0M433.8,271.8h0M440.5,271.1h0M431.5,271.4h0M443.3,272.5h0M435.7,268.6h0M430.9,270.1h0M451.0,272.8h0M435.4,271.1h0M439.5,270.7h0M448.1,272.0h0M433.3,267.3h0M441.4,272.0h0M443.4,270.2h0M438.1,275.0h0M437.4,270.3h0M445.5,267.6h0M439.1,270.4h0M445.3,268.9h0M438.8,275.6h0M439.0,271.9h0M447.4,269.4h0M433.0,272.3h0M431.7,270.9h0M434.8,271.2h0M433.0,273.2h0M441.3,268.0h0M432.6,274.6h0M430.5,270.9h0M445.0,271.6h0M439.4,263.8h0M442.3,270.6h0M438.1,272.5h0M434.6,268.1h0M446.9,268.7h0M439.3,267.8h0M434.6,270.5h0M434.7,271.9h0M432.0,266.9h0M438.9,273.1h0M444.1,266.4h0M437.0,272.3h0M440.5,269.8h0M450.1,268.9h0M465.6,261.6h0M449.8,273.8h0M435.1,272.3h0M438.3,268.8h0M431.6,271.9h0M445.1,273.2h0M433.7,267.9h0M434.5,271.5h0M435.0,266.3h0M432.9,274.7h0M437.5,268.9h0M431.8,275.3h0M437.3,268.6h0M439.1,270.5h0M431.7,269.2h0M447.7,270.4h0M432.9,271.9h0M437.0,266.9h0M447.6,266.2h0M438.5,272.8h0M449.5,271.4h0M433.6,272.5h0M443.0,273.9h0M430.1,269.2h0M442.5,262.9h0M439.4,274.5h0M434.9,267.2h0M429.9,271.1h0M436.2,268.8h0M438.9,265.7h0M440.4,266.9h0M432.7,265.9h0M451.8,267.5h0M436.5,268.9h0M433.8,270.2h0M438.3,275.4h0M454.7,267.5h0M431.7,271.7h0M442.6,274.7h0M433.8,268.1h0M431.4,270.3h0M437.7,269.6h0M433.6,273.7h0M441.8,270.7h0M431.1,269.2h0M432.4,268.5h0M447.8,273.3h0M430.9,266.6h0M432.8,268.1h0M437.1,273.2h0M433.5,269.4h0M433.4,267.8h0M445.3,268.6h0M439.4,269.1h0M437.5,271.0h0M432.2,273.1h0M433.1,274.5h0M445.4,268.2h0M429.9,263.8h0M444.1,269.5h0M441.6,269.7h0M434.7,272.6h0M436.0,273.4h0M442.2,271.4h0M444.9,263.1h0M457.7,265.2h0M435.6,274.0h0M439.8,268.9h0M437.3,271.0h0M433.9,270.6h0M434.0,267.8h0M434.9,272.6h0M438.7,269.6h0M439.4,269.1h0M436.9,267.6h0M434.7,270.4h0M444.8,270.7h0M442.5,270.3h0M433.0,275.1h0M431.3,271.6h0M434.9,272.7h0M439.8,267.0h0M442.7,264.3h0M432.8,270.5h0M434.8,268.5h0M434.9,269.6h0M436.1,271.8h0M440.9,264.4h0M438.2,272.8h0M441.5,266.8h0M435.0,272.3h0M434.9,268.7h0M444.6,270.2h0M456.3,266.9h0M434.0,272.2h0M448.5,273.0h0M432.1,270.1h0M433.4,272.5h0M432.8,266.7h0M439.2,274.5h0M442.6,266.5h0M441.0,274.4h0M436.4,272.7h0M436.3,275.3h0M431.0,267.6h0M438.3,269.9h0M432.6,270.4h0M434.3,264.1h0M441.1,271.1h0M438.6,269.1h0M436.4,269.8h0M445.8,270.3h0M430.0,268.6h0M441.4,273.1h0M443.6,273.7h0M451.3,270.4h0M434.8,267.7h0M443.9,267.1h0M433.6,268.9h0M434.2,271.4h0M442.8,272.5h0M437.4,264.3h0M437.2,272.2h0M441.7,266.6h0M431.2,270.8h0M440.2,269.6h0M431.9,269.1h0M446.7,268.8h0M432.8,266.7h0M449.6,273.0h0M448.1,271.6h0M443.2,268.7h0M433.0,275.5h0M430.3,268.9h0M439.6,269.2h0M434.7,269.2h0M434.9,272.0h0M435.5,270.9h0M437.0,273.2h0M434.7,270.8h0M442.7,268.3h0M438.1,270.2h0M449.8,272.7h0M440.8,271.8h0M439.2,269.1h0M432.2,270.0h0M431.2,269.6h0M430.4,272.1h0M446.1,266.1h0M433.1,267.7h0M439.5,272.5h0M443.3,267.6h0M460.9,269.2h0M443.1,269.0h0M446.2,270.6h0M430.5,270.8h0M431.7,271.0h0M444.4,271.6h0M430.7,268.5h0M434.5,272.5h0M431.6,274.3h0M437.4,270.7h0M437.9,268.4h0M438.8,271.8h0M433.4,275.5h0M430.8,274.8h0M434.8,268.2h0M442.3,271.2h0M435.9,271.9h0M435.6,269.9h0M435.8,270.2h0M432.4,270.9h0M441.7,265.4h0M431.1,273.3h0M437.8,273.7h0M433.7,273.6h0M434.7,268.9h0M440.0,273.3h0M430.3,270.7h0M448.3,272.0h0M442.9,267.9h0M436.8,270.3h0M434.5,271.6h0M441.0,268.2h0M440.6,267.5h0M438.6,274.0h0M431.4,274.0h0M442.5,266.9h0M430.3,275.5h0M444.0,269.1h0M440.4,272.2h0M442.2,272.3h0M432.5,268.2h0M443.2,271.7h0M457.1,266.6h0M438.6,267.0h0M431.9,271.6h0M433.1,269.0h0M434.1,266.9h0M432.2,270.1h0M439.3,270.7h0M434.2,272.5h0M435.6,268.0h0M434.8,270.3h0M443.8,268.8h0M436.6,272.3h0M431.2,274.3h0M456.1,273.1h0M448.2,273.8h0M446.9,270.9h0M438.9,268.7h0M440.1,273.0h0M432.5,272.7h0M442.7,268.2h0M441.5,270.3h0M434.7,266.4h0M431.6,273.2h0M432.8,271.3h0M434.3,271.3h0M434.6,268.6h0M433.2,272.4h0M429.8,272.9h0M438.5,268.5h0M438.6,269.8h0M443.4,269.1h0M437.4,274.1h0M464.1,269.0h0M430.2,269.1h0M450.6,272.3h0M432.5,266.1h0M435.9,269.7h0M437.8,267.6h0M431.9,271.6h0M452.9,268.6h0M436.8,273.9h0M446.9,273.3h0M436.5,269.1h0M433.2,266.4h0M449.5,272.1h0M438.1,271.1h0M444.4,273.5h0M430.4,269.0h0M436.6,267.8h0M439.7,269.2h0M442.1,268.8h0M434.0,273.1h0M437.5,273.8h0M433.0,269.0h0M438.7,269.0h0M431.4,271.8h0M446.7,271.0h0M435.5,272.3h0M436.8,270.4h0M440.2,268.9h0M432.4,274.8h0M446.3,264.9h0M439.1,274.4h0M439.6,267.9h0M438.6,271.0h0M432.7,271.2h0M445.7,273.0h0M440.1,272.6h0M430.7,274.2h0M436.2,271.9h0M438.0,271.1h0M440.8,269.3h0M441.9,273.4h0M438.7,274.3h0M433.5,264.7h0M447.1,269.4h0M434.8,265.9h0M447.4,266.4h0M430.1,268.3h0M443.5,273.9h0M439.0,269.3h0M446.3,267.8h0M433.0,268.5h0M431.2,273.1h0M434.4,267.9h0M430.8,272.4h0M432.3,269.2h0M436.0,273.5h0M439.9,271.3h0M441.3,269.2h0M431.8,271.0h0M443.8,264.7h0M443.3,270.3h0M434.4,265.6h0M451.8,268.1h0M434.2,269.7h0M460.2,268.9h0M443.1,265.8h0M430.6,273.8h0M439.0,272.3h0M446.2,269.8h0M438.6,271.0h0M432.4,273.6h0M432.7,273.8h0M439.5,269.2h0M438.8,268.9h0M441.9,270.3h0M442.1,265.5h0M445.0,267.7h0M431.8,272.4h0M432.1,272.2h0M432.1,264.8h0M434.4,269.2h0M442.1,273.6h0M435.1,270.0h0M447.3,269.7h0M459.0,267.4h0M434.9,264.6h0M435.6,270.1h0M437.2,273.3h0M433.7,269.6h0M432.3,275.4h0M441.5,269.6h0M449.3,267.5h0M435.3,269.6h0M441.4,272.9h0M437.4,265.8h0M441.3,273.1h0M438.7,270.8h0M441.7,271.3h0M440.6,273.1h0M445.8,272.7h0M433.0,271.5h0M442.2,270.2h0M431.2,270.4h0M433.1,272.6h0M447.6,271.9h0M433.8,269.0h0M443.5,273.1h0M434.5,270.2h0M431.3,271.3h0M437.1,271.1h0M432.8,273.1h0M432.7,270.0h0M434.5,271.5h0M439.9,271.6h0M445.1,268.2h0M430.5,272.4h0M448.8,268.3h0M432.6,275.3h0M447.1,275.0h0M436.0,270.1h0M434.6,267.3h0M439.4,272.5h0M439.8,268.6h0M441.1,269.1h0M447.3,270.6h0M447.6,273.4h0M443.4,270.3h0M430.3,275.0h0M442.1,267.1h0M443.0,262.9h0M435.4,271.9h0M453.8,270.1h0M435.5,271.7h0M438.8,270.1h0M446.6,272.3h0M449.2,271.2h0M437.4,272.0h0M444.8,273.6h0M443.3,271.4h0M440.5,271.2h0M442.3,272.9h0M435.8,273.5h0M439.3,270.9h0M432.6,271.1h0M454.9,265.6h0M434.0,269.8h0M433.0,273.0h0M439.2,270.9h0M431.7,273.2h0M436.8,267.6h0M438.8,270.4h0M445.9,272.0h0M432.5,265.9h0M443.2,273.7h0M443.4,272.7h0M434.6,267.4h0M438.6,268.4h0M440.6,271.6h0M445.6,266.7h0M436.7,273.5h0M434.8,271.7h0M430.1,270.7h0M432.2,270.2h0M438.2,274.4h0M437.9,271.4h0M454.0,270.0h0M435.8,268.6h0M437.2,269.9h0M444.0,272.6h0M435.9,266.1h0M442.5,272.7h0M431.8,272.9h0M449.0,268.0h0M442.3,269.1h0M432.3,268.3h0M449.0,273.5h0M430.5,264.5h0M436.1,272.9h0M450.7,266.7h0M439.0,265.3h0M431.3,275.1h0M439.0,272.3h0M441.0,270.5h0M433.5,273.4h0M437.3,267.0h0M447.9,265.6h0M433.1,273.1h0M436.8,271.6h0M440.1,266.4h0M437.6,267.2h0M432.1,272.9h0M430.1,269.8h0M435.7,270.5h0M434.4,275.1h0M435.0,269.8h0M441.4,269.1h0M439.1,272.8h0M431.6,274.7h0M443.6,266.4h0M448.1,267.3h0M437.5,266.6h0M443.4,266.4h0M454.7,269.6h0M436.6,270.1h0M433.3,274.4h0M440.4,269.5h0M437.0,270.6h0M442.0,272.0h0M430.1,266.7h0M435.6,271.7h0M447.8,270.4h0M432.6,275.2h0M431.0,273.2h0M433.9,269.3h0M437.0,267.7h0M441.5,270.8h0M435.0,270.3h0M438.2,272.7h0M453.1,270.6h0M446.7,273.7h0M434.4,275.0h0M437.6,273.5h0M430.2,265.9h0M446.2,271.4h0M436.7,275.5h0M437.0,270.1h0M445.8,267.6h0M431.6,268.0h0M431.5,274.7h0M439.8,266.8h0M430.7,270.0h0M438.3,271.0h0M445.0,269.2h0M430.4,270.8h0M432.8,272.9h0M437.4,271.6h0M432.5,272.6h0M451.5,270.0h0M441.3,265.4h0M443.0,267.2h0M435.7,269.7h0M436.5,268.7h0M434.0,272.6h0M433.2,269.6h0M445.9,273.2h0M430.8,270.3h0M430.1,271.2h0M459.4,267.6h0M437.7,273.4h0M445.6,271.6h0M444.2,267.8h0M452.6,274.2h0M430.9,269.6h0M449.0,270.1h0M431.5,268.3h0M443.2,268.5h0M432.8,270.7h0M440.0,270.6h0M438.7,271.4h0M435.7,268.5h0M436.4,271.7h0M436.3,267.8h0M442.5,274.7h0M440.7,270.0h0M435.7,272.4h0M446.1,273.5h0M432.0,268.5h0M441.9,266.0h0M436.3,270.5h0M444.5,271.1h0M441.9,271.4h0M440.2,271.1h0M439.2,269.2h0M432.9,273.5h0M431.0,269.4h0M437.3,270.9h0M431.0,270.7h0M431.7,268.9h0M431.0,267.7h0M433.9,271.4h0M438.1,271.1h0M453.4,273.4h0M440.0,268.2h0M437.1,267.3h0M433.7,268.3h0M434.2,269.2h0M431.0,273.0h0M437.0,271.8h0M432.3,270.4h0M435.6,274.0h0M434.9,266.1h0M443.1,271.8h0M453.4,270.5h0M439.2,266.3h0M438.3,272.2h0M435.9,275.6h0M430.2,269.4h0M436.8,270.2h0M438.8,273.0h0M453.9,272.1h0M451.7,271.3h0M431.9,268.5h0M439.3,273.8h0M438.4,270.9h0M438.2,271.7h0M450.1,269.5h0M444.2,268.9h0M442.3,266.7h0M442.9,264.1h0M438.9,269.6h0M437.4,269.9h0M441.3,272.8h0M450.3,271.3h0M448.5,269.2h0M430.4,274.2h0M440.6,271.3h0M432.9,269.2h0M435.2,272.8h0M435.4,272.6h0M431.6,271.8h0M437.5,268.1h0M436.9,269.0h0M444.7,267.4h0M439.5,269.5h0M436.5,268.3h0M441.6,272.0h0M441.3,271.4h0M450.2,272.8h0M431.2,269.6h0M433.5,274.6h0M440.1,269.6h0M436.1,271.7h0M432.7,271.3h0M436.8,271.4h0M437.4,270.8h0M432.9,273.2h0M456.8,264.8h0M435.3,265.8h0M446.4,268.3h0M430.7,270.7h0M433.5,271.8h0M433.7,268.4h0M435.4,271.3h0M438.1,270.1h0M436.3,272.6h0M432.6,272.4h0M433.5,268.0h0M455.3,269.9h0M445.1,273.8h0M443.0,269.9h0M429.9,270.7h0M435.4,275.2h0M431.6,269.6h0M430.2,272.0h0M433.7,267.0h0M437.7,273.3h0M438.0,270.5h0M431.1,270.8h0M435.0,264.0h0M435.6,273.1h0M443.1,267.9h0M431.1,268.5h0M429.9,268.4h0M432.0,267.7h0M449.7,267.2h0M435.3,273.5h0M431.9,271.6h0M431.1,269.1h0M432.7,272.1h0M432.7,266.6h0M435.5,273.4h0M437.4,273.0h0M438.2,271.0h0M438.7,269.8h0M434.3,267.1h0M444.1,270.9h0M434.4,267.4h0M431.8,268.6h0M431.3,273.9h0M432.7,267.7h0M441.5,270.4h0M434.8,269.7h0M437.5,269.5h0M447.0,268.7h0M432.9,272.2h0M458.3,271.7h0M438.6,270.8h0M432.2,273.8h0M432.8,267.4h0M436.2,269.6h0M446.9,269.0h0M430.8,271.4h0M442.0,269.6h0M443.9,269.3h0M433.4,272.2h0M446.1,268.1h0M431.6,270.6h0M433.3,273.4h0M439.7,272.0h0M436.8,270.9h0M455.3,268.4h0M443.5,266.6h0M432.3,272.7h0M454.0,270.4h0M430.8,271.9h0M430.7,270.6h0M459.8,268.6h0M431.1,270.7h0M435.6,274.9h0M431.7,269.8h0M441.5,271.0h0M432.6,272.0h0M433.8,273.3h0M438.7,269.7h0M431.5,270.5h0M435.7,270.9h0M437.9,271.3h0M434.6,267.2h0M433.8,275.0h0M435.8,265.4h0M431.5,269.8h0M435.1,264.1h0M440.8,267.6h0M444.6,273.9h0M446.7,270.1h0M436.3,269.7h0M454.2,270.4h0M433.2,270.0h0M449.8,271.2h0M439.4,268.2h0M432.4,270.8h0M434.0,271.9h0M443.3,269.3h0M440.1,268.8h0M436.8,270.0h0M441.8,262.3h0M431.8,275.0h0M439.8,265.6h0M430.9,273.5h0M439.2,272.5h0M435.5,268.9h0M435.8,269.2h0M445.0,270.8h0M439.3,264.4h0M436.3,272.7h0M430.9,266.1h0M431.8,268.8h0M441.5,266.8h0M437.7,269.2h0M430.4,269.9h0M430.5,268.1h0M430.8,267.3h0M435.6,272.5h0M435.5,270.6h0M430.7,274.8h0M438.9,270.0h0M433.6,272.7h0M434.3,271.6h0M451.2,267.4h0M445.3,268.7h0M444.5,269.3h0M435.2,271.5h0M445.4,264.3h0M456.0,266.6h0M444.7,271.5h0M446.6,270.0h0M442.8,265.9h0M449.9,267.9h0M441.7,274.3h0M436.5,271.3h0M438.5,266.2h0M437.6,268.2h0M437.7,267.0h0M430.9,270.3h0M435.5,265.5h0M431.9,271.5h0M435.2,269.1h0M453.5,268.2h0M434.1,273.7h0M449.6,271.8h0M437.0,268.3h0M431.4,269.4h0M436.5,266.0h0M430.1,270.3h0M434.4,274.5h0M435.9,267.9h0M434.3,268.0h0M437.3,269.4h0" fill="none" stroke="#000" stroke-width="0.8" stroke-linecap="square" stroke-opacity="0.95"/>
<path d="M435.3,270.6h0M431.5,273.3h0M433.6,271.1h0M435.6,271.9h0M434.6,272.7h0M442.8,272.6h0M433.4,274.9h0M435.8,270.5h0M435.5,274.1h0M437.4,270.3h0M431.7,270.4h0M432.6,273.6h0M433.5,269.4h0M430.8,266.9h0M429.9,274.1h0M434.5,272.4h0M440.6,269.2h0M434.0,275.1h0M436.3,267.6h0M437.0,272.4h0M436.8,274.4h0M431.9,269.8h0M443.7,270.9h0M433.4,272.3h0M430.7,269.2h0M433.2,269.8h0M433.5,269.5h0M434.6,270.2h0M431.5,270.7h0M433.8,272.9h0M439.7,269.0h0M445.9,271.5h0M435.8,274.3h0M433.4,272.2h0M433.0,273.2h0M437.4,271.5h0M432.9,267.3h0M438.8,273.6h0M431.3,270.9h0M436.2,267.0h0M434.8,269.1h0M445.1,267.8h0M431.8,270.9h0M434.2,271.1h0M438.5,271.9h0M430.3,272.1h0M439.7,271.4h0M441.7,270.6h0M447.3,271.2h0M433.5,273.4h0M433.9,270.5h0M440.2,269.8h0M436.1,270.7h0M437.7,271.2h0M433.9,272.3h0M438.1,266.9h0M435.3,272.1h0M436.5,271.1h0M430.2,272.7h0M430.7,272.0h0M430.3,272.1h0M436.7,269.0h0M435.6,271.3h0M432.4,269.4h0M436.4,267.5h0M430.6,274.0h0M430.0,271.9h0M437.6,268.7h0M440.0,271.5h0M437.0,272.5h0M436.6,267.9h0M438.5,270.1h0M431.6,270.0h0M436.5,272.3h0M430.2,274.1h0M439.6,273.8h0M436.2,270.6h0M432.9,268.3h0M431.1,274.0h0M433.8,272.7h0M433.5,271.9h0M435.7,269.4h0M434.6,269.3h0M432.5,273.7h0M434.1,271.6h0M431.3,273.9h0M432.4,272.0h0M440.2,268.2h0M435.5,270.7h0M434.7,271.3h0M435.2,271.8h0M438.2,273.9h0M441.0,273.8h0M434.0,272.6h0M435.0,274.9h0M434.1,273.8h0M440.4,271.1h0M435.1,270.9h0M436.9,270.4h0M434.1,273.7h0M432.8,271.2h0M437.2,271.9h0M431.1,269.1h0M433.0,269.9h0M431.5,267.2h0M444.1,270.2h0M435.2,272.5h0M436.2,271.4h0M430.8,267.3h0M436.2,272.3h0M431.6,270.8h0M442.3,270.6h0M431.7,271.9h0M438.8,271.3h0M434.7,272.9h0M448.7,268.4h0M433.8,271.1h0M432.0,272.9h0M437.4,269.5h0M432.5,270.9h0M434.9,265.2h0M430.6,273.1h0M442.3,271.6h0M430.2,272.6h0M436.6,268.7h0M434.4,271.8h0M435.6,270.7h0M430.5,268.0h0M443.2,275.3h0M434.2,272.1h0M430.1,271.9h0M444.2,272.9h0M430.6,269.1h0M433.7,275.2h0M432.3,269.5h0M429.9,273.0h0M432.7,268.8h0M434.3,268.2h0M432.3,268.5h0M439.3,271.8h0M438.4,269.5h0M434.8,267.1h0M435.8,266.6h0M432.1,269.7h0M430.0,269.1h0M430.0,268.3h0M432.4,270.8h0M431.3,272.3h0M440.5,273.9h0M434.9,270.1h0M438.0,272.1h0M430.8,270.3h0M431.4,271.2h0M437.7,273.7h0M434.3,274.1h0M436.8,270.3h0M441.7,270.8h0M439.0,273.4h0M441.3,268.7h0M434.1,272.4h0M431.4,271.3h0M436.8,270.6h0M431.4,272.5h0M436.1,270.4h0M436.1,270.2h0M432.4,271.3h0M438.4,270.9h0M432.1,266.4h0M431.7,271.7h0M430.5,272.6h0M432.0,273.4h0M434.1,268.6h0M431.2,268.6h0M441.8,269.1h0M436.5,273.8h0M441.3,270.0h0M436.0,270.5h0M434.2,272.2h0M431.9,271.7h0M431.2,268.6h0M436.7,273.9h0M430.4,272.8h0M433.1,270.2h0M431.4,271.0h0M432.2,268.8h0M431.1,274.3h0M431.1,274.0h0M430.1,268.8h0M441.1,268.4h0M431.7,272.7h0M435.9,271.4h0M434.8,272.1h0M435.2,273.1h0M431.6,269.2h0M432.5,271.0h0M441.0,272.9h0M435.2,272.4h0M430.2,272.8h0M430.8,272.8h0M434.3,270.6h0M432.7,269.9h0M442.3,269.2h0M445.5,270.9h0M432.0,266.4h0M432.5,271.1h0M440.9,273.3h0M436.4,270.7h0M440.6,268.0h0M434.2,274.8h0M431.6,267.9h0M430.1,272.0h0M432.4,272.8h0M435.9,271.0h0M434.4,272.4h0M433.3,272.7h0M432.5,269.6h0M440.2,268.4h0M435.1,271.7h0M437.6,267.3h0M431.7,269.8h0M430.3,272.0h0M434.8,270.6h0M438.5,273.7h0M432.5,274.8h0M436.5,271.5h0M441.7,272.0h0M432.5,275.4h0M430.0,270.1h0M433.4,275.1h0M432.6,269.1h0M432.5,272.3h0M434.2,273.4h0M437.3,267.4h0M432.8,268.5h0M438.7,270.7h0M431.7,271.5h0M436.5,270.6h0M433.0,270.0h0M432.7,272.7h0M436.5,267.8h0M435.0,272.6h0M434.4,267.8h0M430.3,269.9h0M431.2,268.8h0M433.1,270.3h0M437.5,266.9h0M432.9,270.4h0M433.4,273.1h0M432.8,270.3h0M435.2,272.4h0M440.1,270.5h0M434.5,271.6h0M436.4,272.6h0M436.7,268.0h0M430.4,269.9h0M431.0,271.2h0M433.0,274.3h0M433.8,269.4h0M432.8,269.0h0M432.0,273.1h0M432.7,271.7h0M430.7,269.9h0M442.9,268.7h0M434.5,267.3h0M434.5,275.1h0M434.5,271.4h0M431.4,274.7h0M434.3,271.1h0M435.2,271.3h0M430.0,270.9h0M434.4,270.2h0M435.2,275.1h0M431.4,267.2h0M435.0,269.5h0M440.3,273.0h0M434.7,271.3h0M435.1,269.6h0M430.9,266.6h0M430.5,270.4h0M436.5,270.4h0M435.0,271.8h0M440.0,271.4h0M430.8,272.7h0M433.3,269.9h0M433.6,268.1h0M431.6,270.6h0M432.4,275.4h0M434.1,272.5h0M431.6,271.3h0M432.6,267.4h0M435.4,270.8h0M435.5,266.2h0M434.5,269.3h0M437.7,270.5h0M437.7,270.1h0M432.4,273.4h0M441.3,271.2h0M435.4,270.5h0M432.4,271.1h0M432.5,273.2h0M437.1,270.9h0M439.7,273.8h0M431.2,275.3h0M437.6,272.7h0M438.1,270.1h0M430.0,272.8h0M431.6,269.6h0M436.1,270.2h0M438.3,273.4h0M430.5,267.8h0M436.1,271.4h0M444.2,271.6h0M435.6,272.6h0M435.2,273.8h0M435.3,271.8h0M437.9,271.5h0M435.4,271.8h0M429.9,273.1h0M433.1,272.7h0M436.5,273.8h0M434.6,272.2h0M431.3,267.9h0M431.7,273.0h0M431.2,269.1h0M434.7,266.5h0M435.5,274.1h0M430.7,274.2h0M437.2,269.3h0M434.1,269.8h0M431.6,274.1h0M434.9,273.4h0M429.9,272.8h0M432.3,270.5h0M430.2,272.2h0M431.3,270.0h0M437.1,270.9h0M433.5,273.7h0M430.9,269.1h0M432.5,272.4h0M432.1,268.8h0M434.0,270.6h0M431.3,269.0h0M431.9,274.8h0M431.8,272.7h0M436.3,272.0h0M446.1,274.6h0M434.8,272.5h0M432.4,272.2h0M430.9,272.1h0M438.8,270.3h0M432.8,269.8h0M433.5,267.7h0M433.9,271.8h0M429.9,270.4h0M430.0,272.6h0M434.6,269.5h0M441.5,269.7h0M431.0,273.0h0M436.5,271.2h0M431.0,269.8h0M435.7,269.0h0M443.2,275.0h0M436.3,274.5h0M443.2,270.1h0M436.8,271.0h0M431.7,266.9h0M432.0,273.7h0M439.8,269.3h0M433.7,275.0h0M434.7,272.8h0M434.8,270.4h0M438.3,271.4h0M437.1,269.0h0M431.1,272.0h0M437.7,272.1h0M434.1,271.6h0M436.2,271.3h0M431.2,270.1h0M436.6,271.0h0M445.2,268.8h0M429.9,271.8h0M434.4,266.6h0M433.0,272.8h0M432.7,268.5h0M438.4,269.3h0M441.8,270.7h0M439.8,269.9h0M437.3,271.4h0M436.0,269.7h0M432.7,268.6h0M432.2,270.9h0M430.6,272.6h0M442.0,266.7h0M431.8,273.0h0M430.0,274.4h0M431.1,269.5h0M433.2,269.0h0M436.0,271.3h0M431.5,271.4h0M446.4,272.7h0M431.3,273.3h0M435.4,271.0h0M440.8,273.8h0M437.4,273.2h0M430.9,272.4h0M432.0,275.1h0M439.1,270.4h0M430.9,268.3h0M431.7,269.9h0M432.7,273.5h0M432.4,269.9h0M432.0,267.0h0M430.1,270.2h0M438.0,274.3h0M430.1,271.7h0M438.5,269.5h0M434.4,268.0h0M434.9,270.0h0M434.4,270.4h0M432.9,271.6h0M438.7,269.6h0M436.1,271.0h0M438.7,272.2h0M440.4,272.3h0M439.4,268.2h0M435.7,268.0h0M436.9,269.8h0M439.2,274.2h0M435.4,269.1h0M438.5,268.6h0M434.2,271.1h0M435.0,270.8h0M439.6,272.7h0M432.1,269.3h0M432.7,273.9h0M436.4,271.5h0M430.2,271.6h0M435.3,270.4h0M437.7,269.6h0M433.0,272.2h0M432.9,272.3h0M438.6,273.6h0M433.6,271.3h0M439.6,270.9h0M433.4,269.1h0M430.3,271.9h0M436.6,269.7h0M434.8,271.2h0M437.4,272.2h0M431.5,269.7h0M430.5,272.7h0M434.6,268.8h0M430.8,273.4h0M429.9,271.7h0M435.3,267.8h0M432.2,273.2h0M434.5,270.5h0M434.2,266.4h0M433.6,275.0h0M432.3,272.4h0M431.8,269.3h0M442.2,272.5h0M432.4,272.6h0M433.4,270.1h0M434.2,271.7h0M436.1,268.7h0M440.8,272.5h0M434.9,270.5h0M431.1,269.3h0M442.9,267.9h0M431.7,269.0h0M432.2,272.5h0M441.0,267.6h0M433.6,266.3h0M431.2,272.1h0M453.9,272.4h0M440.1,268.8h0M433.8,269.3h0M434.7,271.4h0M442.6,275.0h0M437.7,269.7h0M431.4,269.3h0M438.5,267.4h0M445.6,274.1h0M430.8,271.9h0M436.4,271.6h0M430.2,269.5h0M440.2,269.9h0M437.1,274.3h0M432.3,274.8h0M440.9,272.5h0M435.6,274.1h0M436.8,272.4h0M432.6,272.1h0M445.2,274.1h0M446.0,272.6h0M436.2,274.7h0M433.2,268.5h0M442.6,267.2h0M441.0,272.7h0M435.6,271.5h0M433.4,271.2h0M440.1,270.1h0M436.0,275.6h0M439.9,272.2h0M440.6,270.3h0M438.6,269.5h0M431.7,266.3h0M435.5,270.3h0M432.8,273.2h0M441.0,274.3h0M446.0,274.0h0M435.4,272.9h0M434.8,269.9h0M431.1,269.5h0M443.2,272.1h0M435.5,270.8h0M430.5,270.2h0M432.3,273.8h0M435.2,268.9h0M438.7,272.0h0M435.6,270.3h0M433.0,273.9h0M433.1,272.5h0M433.7,269.1h0M430.0,271.4h0M442.2,270.5h0M435.3,269.0h0M446.8,272.1h0M445.6,270.9h0M435.6,268.6h0M434.1,270.5h0M438.3,271.4h0M433.8,274.0h0M442.6,268.6h0M436.3,271.8h0M430.3,271.2h0M431.4,271.4h0M439.3,268.1h0M430.1,269.5h0M432.6,270.4h0M437.6,270.6h0M431.3,270.2h0M437.6,269.9h0M432.7,271.2h0M431.6,267.1h0M434.6,271.2h0M436.2,275.6h0M430.8,270.2h0M434.1,270.1h0M430.8,270.2h0M431.0,269.0h0M432.6,272.7h0M434.6,265.9h0M431.7,271.1h0M436.6,269.1h0M431.3,271.7h0M431.5,268.5h0M431.6,274.0h0M443.5,273.9h0M435.9,268.2h0M433.9,271.2h0M446.0,271.8h0M437.5,269.4h0M435.7,273.0h0M437.5,270.3h0M430.9,272.8h0M431.4,272.9h0M433.7,270.9h0M431.0,271.7h0M436.3,273.1h0M437.0,267.4h0M430.8,271.1h0M431.3,269.7h0M439.2,268.5h0M435.7,273.2h0M435.9,270.3h0M436.9,268.2h0M431.9,272.1h0M430.3,270.8h0M436.5,270.1h0M433.2,270.8h0M436.7,270.7h0M431.5,270.4h0M431.7,274.0h0M431.2,267.9h0M445.1,272.2h0M437.2,273.3h0M442.2,270.8h0M433.0,272.6h0M437.5,271.1h0M435.8,273.6h0M432.1,270.0h0M435.8,269.3h0M437.2,274.3h0M442.1,273.4h0M431.2,274.8h0M434.8,268.3h0M430.5,269.4h0M438.0,272.4h0M431.4,269.0h0M435.4,273.8h0M436.6,272.8h0M437.9,273.3h0M430.9,271.9h0M431.7,269.3h0M431.6,271.5h0M437.2,270.4h0M431.4,271.9h0M436.3,270.4h0M437.6,272.1h0M438.4,271.1h0M430.4,271.4h0M430.1,271.1h0M436.3,271.1h0M435.2,269.1h0M432.0,272.3h0M431.9,269.7h0M434.8,270.0h0M432.0,273.3h0M434.3,269.8h0M433.0,273.1h0M440.2,266.1h0M430.6,267.4h0M437.5,273.8h0M438.9,265.2h0M429.9,271.4h0M440.0,271.0h0M432.8,274.4h0M441.1,265.9h0M437.8,273.7h0M434.6,273.4h0M437.3,274.2h0M432.0,271.1h0M437.3,270.8h0M438.7,267.2h0M435.8,270.0h0M433.1,268.8h0M430.0,271.4h0M431.1,266.1h0M431.6,268.5h0M432.9,269.5h0M432.0,275.2h0M436.1,269.3h0M438.7,270.7h0M435.1,272.8h0M437.7,272.5h0M431.9,269.2h0M433.0,267.7h0M431.4,269.9h0M438.2,272.3h0M430.8,270.9h0M433.2,272.2h0M430.8,270.0h0M435.2,270.8h0M432.2,269.0h0M431.0,274.1h0M439.9,268.4h0M439.9,270.5h0M438.9,269.6h0M438.1,268.6h0M436.2,273.2h0M430.4,273.9h0M434.4,272.2h0M441.7,270.8h0M447.4,270.5h0M438.4,268.3h0M432.4,272.0h0M433.3,274.5h0M432.8,270.8h0M431.9,274.7h0M436.4,270.3h0M443.6,270.7h0M430.4,267.8h0M441.4,270.1h0M430.8,271.9h0M433.5,268.0h0M442.4,274.5h0M436.8,271.8h0M433.1,271.9h0M433.4,267.9h0M437.1,270.0h0M436.9,274.4h0M432.6,271.1h0M430.9,275.2h0M434.0,267.5h0M434.2,273.0h0M431.2,271.3h0M433.4,270.7h0M440.9,271.3h0M442.7,274.2h0M429.9,269.1h0M438.1,273.2h0M449.6,274.5h0M438.7,271.8h0M431.8,272.4h0M433.7,272.1h0M434.8,271.2h0M431.9,266.8h0M432.2,269.6h0" fill="none" stroke="#000" stroke-width="0.9" stroke-linecap="square" stroke-opacity="1"/>
<path d="M446.5,269.0h0M468.7,265.6h0M448.1,265.6h0M452.7,265.8h0M454.7,268.5h0M468.3,268.3h0M454.8,268.6h0M466.8,267.8h0M457.0,269.4h0M450.8,267.1h0M456.3,266.8h0M449.5,269.9h0M445.9,270.2h0M450.1,268.9h0M465.2,266.6h0M447.0,266.5h0M452.8,273.1h0M466.8,266.5h0M453.9,267.6h0M460.6,266.9h0M458.0,267.8h0M450.8,268.4h0M452.0,266.8h0M454.2,268.4h0M457.1,266.5h0M453.5,267.8h0M459.0,265.8h0M460.3,265.7h0M448.1,267.0h0M462.3,270.7h0M467.0,267.6h0M459.9,265.3h0M451.7,266.8h0M453.2,267.7h0M450.5,274.3h0M452.6,267.1h0M457.6,272.2h0M451.7,270.4h0M465.7,268.3h0M461.8,270.8h0M459.5,271.3h0M456.7,266.5h0M454.6,266.6h0M465.1,269.5h0M445.9,267.9h0M447.8,272.1h0M464.4,265.3h0M450.9,272.4h0M463.8,269.3h0M458.8,266.8h0M463.8,270.8h0M466.7,266.9h0M466.6,269.4h0M456.2,268.2h0M460.0,267.5h0M459.0,267.7h0M467.3,266.6h0M452.6,268.3h0M467.0,267.1h0M452.1,269.1h0M459.0,269.6h0M456.8,270.6h0M461.2,268.0h0M456.4,269.9h0M449.6,266.8h0M465.6,267.2h0M449.7,267.1h0M448.5,268.5h0M448.5,266.4h0M460.1,267.3h0M461.5,273.4h0M467.7,270.6h0M451.5,270.6h0M447.3,272.3h0M460.6,266.2h0M448.4,274.2h0M457.0,269.2h0M462.4,269.0h0M464.1,272.0h0M448.8,274.6h0M452.3,268.7h0M459.6,270.0h0M445.5,270.4h0M468.2,264.1h0M460.8,269.5h0M448.4,270.2h0M467.6,265.2h0M463.6,266.0h0M463.2,269.5h0M454.0,268.3h0M456.6,266.5h0M451.2,267.1h0M452.8,268.2h0M465.1,267.3h0M447.3,264.9h0M449.7,270.8h0M457.7,268.7h0M459.9,269.3h0M466.8,263.8h0M453.0,271.2h0M461.5,269.1h0M462.8,267.1h0M452.0,267.7h0M466.8,268.7h0M452.2,265.2h0M455.0,271.1h0M459.1,265.0h0M456.0,266.5h0M466.5,268.9h0M464.8,263.6h0" fill="none" stroke="#000" stroke-width="0.65" stroke-linecap="square" stroke-opacity="0.6"/>
<rect x="428.9" y="233.5" width="60.5" height="42.7" fill="none" stroke="#6a6a6a" stroke-width="0.8"/>
<line x1="455.8" y1="233.5" x2="455.8" y2="276.2" stroke="#444" stroke-width="0.8"/>
<line x1="428.9" y1="257.3" x2="489.4" y2="257.3" stroke="#444" stroke-width="0.8"/>
<line x1="428.9" y1="276.2" x2="428.9" y2="277.8" stroke="#555" stroke-width="0.6"/>
<text x="429.2" y="280.4" font-family="Liberation Serif, serif" font-size="3.4" text-anchor="middle" fill="#222" transform="rotate(-20 429.2 280.4)">10</text>
<line x1="427.3" y1="276.2" x2="428.9" y2="276.2" stroke="#555" stroke-width="0.6"/>
<text x="427.1" y="277.4" font-family="Liberation Serif, serif" font-size="3.4" text-anchor="end" fill="#222" transform="rotate(-20 427.1 277.4)">10</text>
<line x1="444.02" y1="276.2" x2="444.02" y2="277.8" stroke="#555" stroke-width="0.6"/>
<text x="444.32" y="280.4" font-family="Liberation Serif, serif" font-size="3.4" text-anchor="middle" fill="#222" transform="rotate(-20 444.32 280.4)">10</text>
<line x1="427.3" y1="265.52" x2="428.9" y2="265.52" stroke="#555" stroke-width="0.6"/>
<text x="427.1" y="266.72" font-family="Liberation Serif, serif" font-size="3.4" text-anchor="end" fill="#222" transform="rotate(-20 427.1 266.72)">10</text>
<line x1="459.15" y1="276.2" x2="459.15" y2="277.8" stroke="#555" stroke-width="0.6"/>
<text x="459.45" y="280.4" font-family="Liberation Serif, serif" font-size="3.4" text-anchor="middle" fill="#222" transform="rotate(-20 459.45 280.4)">10</text>
<line x1="427.3" y1="254.85" x2="428.9" y2="254.85" stroke="#555" stroke-width="0.6"/>
<text x="427.1" y="256.05" font-family="Liberation Serif, serif" font-size="3.4" text-anchor="end" fill="#222" transform="rotate(-20 427.1 256.05)">10</text>
<line x1="474.27" y1="276.2" x2="474.27" y2="277.8" stroke="#555" stroke-width="0.6"/>
<text x="474.57" y="280.4" font-family="Liberation Serif, serif" font-size="3.4" text-anchor="middle" fill="#222" transform="rotate(-20 474.57 280.4)">10</text>
<line x1="427.3" y1="244.18" x2="428.9" y2="244.18" stroke="#555" stroke-width="0.6"/>
<text x="427.1" y="245.38" font-family="Liberation Serif, serif" font-size="3.4" text-anchor="end" fill="#222" transform="rotate(-20 427.1 245.38)">10</text>
<line x1="489.4" y1="276.2" x2="489.4" y2="277.8" stroke="#555" stroke-width="0.6"/>
<text x="489.7" y="280.4" font-family="Liberation Serif, serif" font-size="3.4" text-anchor="middle" fill="#222" transform="rotate(-20 489.7 280.4)">10</text>
<line x1="427.3" y1="233.5" x2="428.9" y2="233.5" stroke="#555" stroke-width="0.6"/>
<text x="427.1" y="234.7" font-family="Liberation Serif, serif" font-size="3.4" text-anchor="end" fill="#222" transform="rotate(-20 427.1 234.7)">10</text>
<text x="457.65" y="282.8" font-family="Liberation Serif, serif" font-size="3" text-anchor="middle" fill="#333">FL1-H</text>
<text x="424.3" y="259.35" font-family="Liberation Serif, serif" font-size="3" text-anchor="middle" fill="#333" transform="rotate(-90 424.3 259.35)">FL2-H</text>
<text x="468.9" y="271.2" font-family="Liberation Serif, serif" font-size="6.5" font-weight="bold" text-anchor="start" fill="#000" stroke="#000" stroke-width="0.15">5%</text>
<text x="357" y="341.9" font-family="Liberation Serif, serif" font-size="7.9" font-weight="bold" text-anchor="middle" fill="#000" transform="rotate(-90 357 341.9)">apoptotic cells (%)</text>
<polygon points="368,310.2 371.8,308.3 371.8,363.2 368,365" fill="#a6a6a6"/>
<rect x="371.8" y="308.3" width="113" height="54.9" fill="#c1c1c1"/>
<polygon points="368,365 371.8,363.2 484.8,363.2 482.1,365" fill="#8f8f8f"/>
<text x="366.6" y="369.1" font-family="Liberation Serif, serif" font-size="6.4" font-weight="bold" text-anchor="end" fill="#111" textLength="2.3" lengthAdjust="spacingAndGlyphs">0</text>
<line x1="371.8" y1="357.06" x2="484.8" y2="357.06" stroke="#8e8e8e" stroke-width="0.6"/>
<line x1="368" y1="358.96" x2="371.8" y2="357.06" stroke="#777" stroke-width="0.5"/>
<text x="366.6" y="362.88" font-family="Liberation Serif, serif" font-size="6.4" font-weight="bold" text-anchor="end" fill="#111" textLength="2.3" lengthAdjust="spacingAndGlyphs">5</text>
<line x1="371.8" y1="350.92" x2="484.8" y2="350.92" stroke="#8e8e8e" stroke-width="0.6"/>
<line x1="368" y1="352.82" x2="371.8" y2="350.92" stroke="#777" stroke-width="0.5"/>
<text x="366.6" y="356.65" font-family="Liberation Serif, serif" font-size="6.4" font-weight="bold" text-anchor="end" fill="#111" textLength="4.4" lengthAdjust="spacingAndGlyphs">10</text>
<line x1="371.8" y1="344.78" x2="484.8" y2="344.78" stroke="#8e8e8e" stroke-width="0.6"/>
<line x1="368" y1="346.68" x2="371.8" y2="344.78" stroke="#777" stroke-width="0.5"/>
<text x="366.6" y="350.43" font-family="Liberation Serif, serif" font-size="6.4" font-weight="bold" text-anchor="end" fill="#111" textLength="4.4" lengthAdjust="spacingAndGlyphs">15</text>
<line x1="371.8" y1="338.64" x2="484.8" y2="338.64" stroke="#8e8e8e" stroke-width="0.6"/>
<line x1="368" y1="340.54" x2="371.8" y2="338.64" stroke="#777" stroke-width="0.5"/>
<text x="366.6" y="344.2" font-family="Liberation Serif, serif" font-size="6.4" font-weight="bold" text-anchor="end" fill="#111" textLength="4.4" lengthAdjust="spacingAndGlyphs">20</text>
<line x1="371.8" y1="332.5" x2="484.8" y2="332.5" stroke="#8e8e8e" stroke-width="0.6"/>
<line x1="368" y1="334.4" x2="371.8" y2="332.5" stroke="#777" stroke-width="0.5"/>
<text x="366.6" y="337.98" font-family="Liberation Serif, serif" font-size="6.4" font-weight="bold" text-anchor="end" fill="#111" textLength="4.4" lengthAdjust="spacingAndGlyphs">25</text>
<line x1="371.8" y1="326.36" x2="484.8" y2="326.36" stroke="#8e8e8e" stroke-width="0.6"/>
<line x1="368" y1="328.26" x2="371.8" y2="326.36" stroke="#777" stroke-width="0.5"/>
<text x="366.6" y="331.75" font-family="Liberation Serif, serif" font-size="6.4" font-weight="bold" text-anchor="end" fill="#111" textLength="4.4" lengthAdjust="spacingAndGlyphs">30</text>
<line x1="371.8" y1="320.22" x2="484.8" y2="320.22" stroke="#8e8e8e" stroke-width="0.6"/>
<line x1="368" y1="322.12" x2="371.8" y2="320.22" stroke="#777" stroke-width="0.5"/>
<text x="366.6" y="325.53" font-family="Liberation Serif, serif" font-size="6.4" font-weight="bold" text-anchor="end" fill="#111" textLength="4.4" lengthAdjust="spacingAndGlyphs">35</text>
<line x1="371.8" y1="314.08" x2="484.8" y2="314.08" stroke="#8e8e8e" stroke-width="0.6"/>
<line x1="368" y1="315.98" x2="371.8" y2="314.08" stroke="#777" stroke-width="0.5"/>
<text x="366.6" y="319.3" font-family="Liberation Serif, serif" font-size="6.4" font-weight="bold" text-anchor="end" fill="#111" textLength="4.4" lengthAdjust="spacingAndGlyphs">40</text>
<line x1="371.8" y1="307.94" x2="484.8" y2="307.94" stroke="#8e8e8e" stroke-width="0.6"/>
<line x1="368" y1="309.84" x2="371.8" y2="307.94" stroke="#777" stroke-width="0.5"/>
<text x="366.6" y="313.08" font-family="Liberation Serif, serif" font-size="6.4" font-weight="bold" text-anchor="end" fill="#111" textLength="4.4" lengthAdjust="spacingAndGlyphs">45</text>
<line x1="368" y1="310.2" x2="368" y2="365" stroke="#555" stroke-width="0.6"/>
<line x1="371.8" y1="308.3" x2="371.8" y2="363.2" stroke="#777" stroke-width="0.5"/>
<rect x="372.9" y="361.93" width="2.8" height="3.07" fill="#fff" stroke="#000" stroke-width="0.5"/>
<polygon points="375.7,361.93 377.2,360.93 377.2,364 375.7,365" fill="#222" stroke="#000" stroke-width="0.4"/>
<polygon points="372.9,361.93 374.4,360.93 377.2,360.93 375.7,361.93" fill="#eee" stroke="#000" stroke-width="0.4"/>
<rect x="376.9" y="359.47" width="3.7" height="5.53" fill="#5c5c5c" stroke="#1a1a1a" stroke-width="0.5"/>
<polygon points="380.6,359.47 382.1,358.47 382.1,364 380.6,365" fill="#2a2a2a" stroke="#1a1a1a" stroke-width="0.4"/>
<polygon points="376.9,359.47 378.4,358.47 382.1,358.47 380.6,359.47" fill="#777" stroke="#1a1a1a" stroke-width="0.4"/>
<rect x="387" y="350.76" width="3" height="14.24" fill="#fff" stroke="#000" stroke-width="0.5"/>
<polygon points="390,350.76 391.5,349.76 391.5,364 390,365" fill="#222" stroke="#000" stroke-width="0.4"/>
<polygon points="387,350.76 388.5,349.76 391.5,349.76 390,350.76" fill="#eee" stroke="#000" stroke-width="0.4"/>
<rect x="391.2" y="310.72" width="4.1" height="54.28" fill="#5c5c5c" stroke="#1a1a1a" stroke-width="0.5"/>
<polygon points="395.3,310.72 396.8,309.72 396.8,364 395.3,365" fill="#2a2a2a" stroke="#1a1a1a" stroke-width="0.4"/>
<polygon points="391.2,310.72 392.7,309.72 396.8,309.72 395.3,310.72" fill="#777" stroke="#1a1a1a" stroke-width="0.4"/>
<rect x="400.6" y="361.32" width="2.9" height="3.68" fill="#fff" stroke="#000" stroke-width="0.5"/>
<polygon points="403.5,361.32 405,360.32 405,364 403.5,365" fill="#222" stroke="#000" stroke-width="0.4"/>
<polygon points="400.6,361.32 402.1,360.32 405,360.32 403.5,361.32" fill="#eee" stroke="#000" stroke-width="0.4"/>
<rect x="404.7" y="359.97" width="3.8" height="5.03" fill="#5c5c5c" stroke="#1a1a1a" stroke-width="0.5"/>
<polygon points="408.5,359.97 410,358.97 410,364 408.5,365" fill="#2a2a2a" stroke="#1a1a1a" stroke-width="0.4"/>
<polygon points="404.7,359.97 406.2,358.97 410,358.97 408.5,359.97" fill="#777" stroke="#1a1a1a" stroke-width="0.4"/>
<rect x="414.4" y="354.81" width="3.6" height="10.19" fill="#fff" stroke="#000" stroke-width="0.5"/>
<polygon points="418,354.81 419.5,353.81 419.5,364 418,365" fill="#222" stroke="#000" stroke-width="0.4"/>
<polygon points="414.4,354.81 415.9,353.81 419.5,353.81 418,354.81" fill="#eee" stroke="#000" stroke-width="0.4"/>
<rect x="419.2" y="343.26" width="3.6" height="21.74" fill="#5c5c5c" stroke="#1a1a1a" stroke-width="0.5"/>
<polygon points="422.8,343.26 424.3,342.26 424.3,364 422.8,365" fill="#2a2a2a" stroke="#1a1a1a" stroke-width="0.4"/>
<polygon points="419.2,343.26 420.7,342.26 424.3,342.26 422.8,343.26" fill="#777" stroke="#1a1a1a" stroke-width="0.4"/>
<rect x="428.8" y="364.14" width="2.7" height="0.86" fill="#fff" stroke="#000" stroke-width="0.5"/>
<polygon points="431.5,364.14 433,363.14 433,364 431.5,365" fill="#222" stroke="#000" stroke-width="0.4"/>
<polygon points="428.8,364.14 430.3,363.14 433,363.14 431.5,364.14" fill="#eee" stroke="#000" stroke-width="0.4"/>
<rect x="432.7" y="363.77" width="3.6" height="1.23" fill="#5c5c5c" stroke="#1a1a1a" stroke-width="0.5"/>
<polygon points="436.3,363.77 437.8,362.77 437.8,364 436.3,365" fill="#2a2a2a" stroke="#1a1a1a" stroke-width="0.4"/>
<polygon points="432.7,363.77 434.2,362.77 437.8,362.77 436.3,363.77" fill="#777" stroke="#1a1a1a" stroke-width="0.4"/>
<rect x="442.4" y="356.53" width="3.1" height="8.47" fill="#fff" stroke="#000" stroke-width="0.5"/>
<polygon points="445.5,356.53 447,355.53 447,364 445.5,365" fill="#222" stroke="#000" stroke-width="0.4"/>
<polygon points="442.4,356.53 443.9,355.53 447,355.53 445.5,356.53" fill="#eee" stroke="#000" stroke-width="0.4"/>
<rect x="446.7" y="335.28" width="4.1" height="29.72" fill="#5c5c5c" stroke="#1a1a1a" stroke-width="0.5"/>
<polygon points="450.8,335.28 452.3,334.28 452.3,364 450.8,365" fill="#2a2a2a" stroke="#1a1a1a" stroke-width="0.4"/>
<polygon points="446.7,335.28 448.2,334.28 452.3,334.28 450.8,335.28" fill="#777" stroke="#1a1a1a" stroke-width="0.4"/>
<rect x="456.2" y="364.14" width="3.4" height="0.86" fill="#fff" stroke="#000" stroke-width="0.5"/>
<polygon points="459.6,364.14 461.1,363.14 461.1,364 459.6,365" fill="#222" stroke="#000" stroke-width="0.4"/>
<polygon points="456.2,364.14 457.7,363.14 461.1,363.14 459.6,364.14" fill="#eee" stroke="#000" stroke-width="0.4"/>
<rect x="460.8" y="358.98" width="3.6" height="6.02" fill="#5c5c5c" stroke="#1a1a1a" stroke-width="0.5"/>
<polygon points="464.4,358.98 465.9,357.98 465.9,364 464.4,365" fill="#2a2a2a" stroke="#1a1a1a" stroke-width="0.4"/>
<polygon points="460.8,358.98 462.3,357.98 465.9,357.98 464.4,358.98" fill="#777" stroke="#1a1a1a" stroke-width="0.4"/>
<rect x="470.5" y="350.63" width="3.1" height="14.37" fill="#fff" stroke="#000" stroke-width="0.5"/>
<polygon points="473.6,350.63 475.1,349.63 475.1,364 473.6,365" fill="#222" stroke="#000" stroke-width="0.4"/>
<polygon points="470.5,350.63 472,349.63 475.1,349.63 473.6,350.63" fill="#eee" stroke="#000" stroke-width="0.4"/>
<rect x="474.8" y="309.74" width="4.4" height="55.26" fill="#5c5c5c" stroke="#1a1a1a" stroke-width="0.5"/>
<polygon points="479.2,309.74 480.7,308.74 480.7,364 479.2,365" fill="#2a2a2a" stroke="#1a1a1a" stroke-width="0.4"/>
<polygon points="474.8,309.74 476.3,308.74 480.7,308.74 479.2,309.74" fill="#777" stroke="#1a1a1a" stroke-width="0.4"/>
<rect x="414" y="309.8" width="58.2" height="17.4" fill="#fff"/>
<rect x="416.5" y="312.7" width="2.8" height="2.8" fill="#fff" stroke="#000" stroke-width="0.7"/>
<rect x="416.5" y="319.6" width="2.8" height="2.8" fill="#444" stroke="#000" stroke-width="0.7"/>
<text x="423.3" y="319.2" font-family="Liberation Serif, serif" font-size="7.3" font-weight="bold" text-anchor="start" fill="#000">0.1 % DMSO</text>
<text x="423.3" y="325.8" font-family="Liberation Serif, serif" font-size="7.3" font-weight="bold" text-anchor="start" fill="#000">5 µM K27</text>
<text x="377.5" y="389" font-family="Liberation Serif, serif" font-size="7.6" font-weight="bold" text-anchor="start" fill="#000" transform="rotate(-90 377.5 389)" textLength="20.2" lengthAdjust="spacingAndGlyphs" stroke="#000" stroke-width="0.15">CD138-</text>
<text x="391.58" y="389" font-family="Liberation Serif, serif" font-size="7.6" font-weight="bold" text-anchor="start" fill="#000" transform="rotate(-90 391.58 389)" textLength="20.2" lengthAdjust="spacingAndGlyphs" stroke="#000" stroke-width="0.15">CD138+</text>
<text x="405.66" y="389" font-family="Liberation Serif, serif" font-size="7.6" font-weight="bold" text-anchor="start" fill="#000" transform="rotate(-90 405.66 389)" textLength="20.2" lengthAdjust="spacingAndGlyphs" stroke="#000" stroke-width="0.15">CD138-</text>
<text x="419.74" y="389" font-family="Liberation Serif, serif" font-size="7.6" font-weight="bold" text-anchor="start" fill="#000" transform="rotate(-90 419.74 389)" textLength="20.2" lengthAdjust="spacingAndGlyphs" stroke="#000" stroke-width="0.15">CD138+</text>
<text x="433.82" y="389" font-family="Liberation Serif, serif" font-size="7.6" font-weight="bold" text-anchor="start" fill="#000" transform="rotate(-90 433.82 389)" textLength="20.2" lengthAdjust="spacingAndGlyphs" stroke="#000" stroke-width="0.15">CD138-</text>
<text x="447.9" y="389" font-family="Liberation Serif, serif" font-size="7.6" font-weight="bold" text-anchor="start" fill="#000" transform="rotate(-90 447.9 389)" textLength="20.2" lengthAdjust="spacingAndGlyphs" stroke="#000" stroke-width="0.15">CD138+</text>
<text x="461.98" y="389" font-family="Liberation Serif, serif" font-size="7.6" font-weight="bold" text-anchor="start" fill="#000" transform="rotate(-90 461.98 389)" textLength="20.2" lengthAdjust="spacingAndGlyphs" stroke="#000" stroke-width="0.15">CD138-</text>
<text x="476.06" y="389" font-family="Liberation Serif, serif" font-size="7.6" font-weight="bold" text-anchor="start" fill="#000" transform="rotate(-90 476.06 389)" textLength="20.2" lengthAdjust="spacingAndGlyphs" stroke="#000" stroke-width="0.15">CD138+</text>
<line x1="369.4" y1="365.8" x2="369.4" y2="399" stroke="#a8a8a8" stroke-width="0.6"/>
<line x1="383.48" y1="365.8" x2="383.48" y2="393.6" stroke="#a8a8a8" stroke-width="0.6"/>
<line x1="397.56" y1="365.8" x2="397.56" y2="399" stroke="#a8a8a8" stroke-width="0.6"/>
<line x1="411.64" y1="365.8" x2="411.64" y2="393.6" stroke="#a8a8a8" stroke-width="0.6"/>
<line x1="425.72" y1="365.8" x2="425.72" y2="399" stroke="#a8a8a8" stroke-width="0.6"/>
<line x1="439.8" y1="365.8" x2="439.8" y2="393.6" stroke="#a8a8a8" stroke-width="0.6"/>
<line x1="453.88" y1="365.8" x2="453.88" y2="399" stroke="#a8a8a8" stroke-width="0.6"/>
<line x1="467.96" y1="365.8" x2="467.96" y2="393.6" stroke="#a8a8a8" stroke-width="0.6"/>
<line x1="482.04" y1="365.8" x2="482.04" y2="399" stroke="#a8a8a8" stroke-width="0.6"/>
<text x="382.6" y="397.8" font-family="Liberation Serif, serif" font-size="6.7" font-weight="bold" text-anchor="middle" fill="#000">MM1</text>
<text x="411" y="397.8" font-family="Liberation Serif, serif" font-size="6.7" font-weight="bold" text-anchor="middle" fill="#000">MM2</text>
<text x="439.2" y="397.8" font-family="Liberation Serif, serif" font-size="6.7" font-weight="bold" text-anchor="middle" fill="#000">MM4</text>
<text x="467.3" y="397.8" font-family="Liberation Serif, serif" font-size="6.7" font-weight="bold" text-anchor="middle" fill="#000">MM7</text>
</svg>
</body></html>
